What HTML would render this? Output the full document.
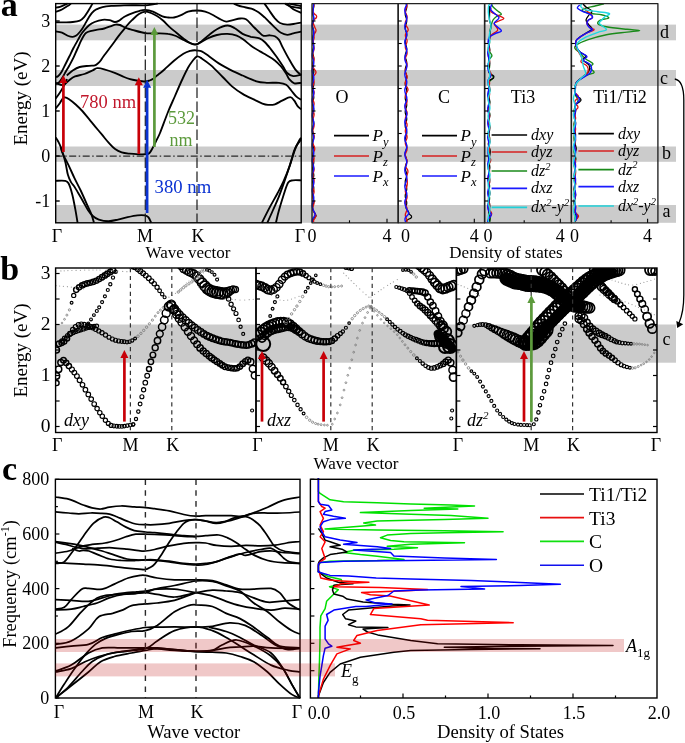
<!DOCTYPE html>
<html><head><meta charset="utf-8"><style>
html,body{margin:0;padding:0;background:#fff;}
svg{display:block;font-family:"Liberation Serif",serif;will-change:transform;}
</style></head><body>
<svg width="685" height="743" viewBox="0 0 685 743">
<rect width="685" height="743" fill="#fff"/>
<rect x="55.7" y="24.6" width="620.3" height="15.7" fill="#cbcbcb" />
<rect x="55.7" y="70" width="620.3" height="16" fill="#cbcbcb" />
<rect x="55.7" y="146.5" width="620.3" height="15.3" fill="#cbcbcb" />
<rect x="55.7" y="205" width="620.3" height="17.8" fill="#cbcbcb" />
<path d="M55.7 7.6 C56.4 7.5 58.6 7.2 60 6.8 C61.4 6.4 62.8 5.7 64 5.2 C65.2 4.7 66.9 3.9 67.5 3.6" fill="none" stroke="#000" stroke-width="1.85" stroke-linejoin="round" />
<path d="M55.7 11.7 C56.4 11.5 58.6 11 60 10.4 C61.4 9.8 62.7 9.1 64 8.3 C65.3 7.5 66.8 6.5 68 5.8 C69.2 5 70.5 4.1 71 3.8" fill="none" stroke="#000" stroke-width="1.85" stroke-linejoin="round" />
<path d="M55.7 22.3 C57.1 22.3 61.1 22.4 64 22.4 C66.8 22.3 70.2 22.3 72.8 22 C75.4 21.7 77.9 21.4 79.8 20.6 C81.7 19.8 82.8 18.6 84.1 17.1 C85.4 15.7 86.6 13.5 87.6 11.9 C88.6 10.3 89.5 8.8 90.3 7.5 C91.1 6.1 92.1 4.4 92.5 3.8" fill="none" stroke="#000" stroke-width="1.85" stroke-linejoin="round" />
<path d="M55.7 31.5 C56.8 31.7 59.9 31.9 62 32.6 C64.1 33.4 66.6 35.3 68.4 36 C70.2 36.7 71.5 36.9 72.8 36.8 C74.1 36.7 75.1 36.3 76.3 35.5 C77.5 34.7 78.8 33.2 79.8 32 C80.8 30.8 81.5 29.8 82.4 28.5 C83.3 27.2 84 25.9 85 24.1 C86 22.4 87.3 19.9 88.5 18 C89.7 16.1 90.7 14.2 92 12.8 C93.3 11.4 94.7 10.2 96.4 9.3 C98.2 8.4 100 7.7 102.5 7.1 C105 6.5 107.7 6.2 111.3 5.9 C114.9 5.6 120.5 5.4 124 5.3 C127.5 5.2 128.5 5.2 132 5.2 C135.5 5.2 141.7 5.5 145.2 5.3 C148.7 5.1 150.9 4.6 153 4.3 C155.1 4 156.9 3.7 157.7 3.6" fill="none" stroke="#000" stroke-width="1.85" stroke-linejoin="round" />
<path d="M55.7 77 C56.1 76.9 57 77 58 76.2 C59 75.4 60.3 74 61.5 72 C62.7 70 64 67.1 65.3 64.5 C66.6 61.9 67.9 59.3 69.3 56.5 C70.7 53.7 72.1 50.6 73.6 47.8 C75 45 76.7 42.2 78 39.9 C79.3 37.6 80.3 35.5 81.5 33.8 C82.7 32 83.7 30.9 85 29.4 C86.3 27.9 87.8 26.2 89.4 25 C91 23.8 92.4 22.9 94.6 22 C96.8 21.1 100 20.1 102.5 19.8 C105 19.5 107.5 19.8 109.5 20.2 C111.5 20.6 113.2 21.9 114.8 22 C116.4 22.1 117.7 21.4 119.2 20.6 C120.7 19.8 121.9 18.2 124 17 C126.1 15.8 129.5 14.4 132 13.4 C134.5 12.4 136.8 11.7 139 11.1 C141.2 10.5 142.9 9.8 145.2 9.9 C147.5 10 150.1 10.6 153 11.7 C155.9 12.8 159.9 15.4 162.4 16.4 C164.9 17.4 166.3 17.3 168.2 17.5 C170.1 17.7 171.9 17.9 174 17.5 C176.1 17.1 178.7 16.2 181 15.2 C183.3 14.2 185.3 12.5 188 11.7 C190.7 10.9 194.1 10.5 197 10.5 C199.9 10.5 202.5 10.9 205.2 11.7 C207.9 12.5 210.9 13.9 213.4 15.2 C215.9 16.5 218.3 18.2 220.4 19.3 C222.5 20.4 224.3 21.4 226.2 21.6 C228.1 21.8 229.7 20.9 232 20.4 C234.3 19.9 237.9 18.7 240.2 18.5 C242.5 18.3 244 18.1 246 19.3 C248 20.5 250.3 23.5 252.4 25.6 C254.5 27.7 256.6 30 258.5 31.7 C260.4 33.4 261.7 35.2 263.6 35.8 C265.5 36.4 267.9 35.2 269.8 35.3 C271.7 35.4 273.4 35.5 274.9 36.3 C276.4 37.1 277.6 37.9 279 39.9 C280.4 41.9 281.4 44.9 283.1 48.1 C284.8 51.4 287.1 55.8 289.2 59.4 C291.2 63 293.4 67 295.4 69.6 C297.4 72.2 300.2 74.3 301.2 75.2" fill="none" stroke="#000" stroke-width="1.85" stroke-linejoin="round" />
<path d="M55.7 84 C56.2 83.8 57.9 83.6 59 82.5 C60.1 81.4 61.4 79.3 62.5 77.5 C63.6 75.7 64.6 73.7 65.7 71.7 C66.8 69.8 67.9 68.2 69.2 65.8 C70.5 63.4 72.3 60.1 73.6 57.4 C74.9 54.7 75.9 52.1 77.1 49.5 C78.3 46.9 79.6 43.9 80.6 41.7 C81.6 39.5 82.4 37.9 83.3 36.4 C84.2 34.9 84.7 33.8 85.9 32.9 C87.1 32 88.5 31.6 90.3 31.1 C92 30.6 94.1 30.2 96.4 29.8 C98.7 29.4 102 29.1 104.3 28.5 C106.6 27.9 108.5 26.9 110.4 26.3 C112.3 25.7 114.1 24.8 115.7 24.6 C117.3 24.4 118.6 24.6 120 25 C121.4 25.4 122.7 26.4 124 27 C125.3 27.6 126.7 28.2 128 28.7 C129.3 29.2 129.1 29.1 132 29.8 C134.9 30.5 141 32.5 145.2 33.1 C149.4 33.7 153.2 33.2 157 33.3 C160.8 33.4 164.8 33.3 168 33.8 C171.2 34.2 173.5 35 176 36 C178.5 37 180.7 38.5 183 39.7 C185.3 40.9 187.7 42.2 190 43 C192.3 43.8 194.1 45 197 44.2 C199.9 43.5 204.2 40 207.5 38.5 C210.8 37 213.6 35.8 216.9 35 C220.2 34.2 224.1 33.8 227.4 33.9 C230.7 34 234 34.6 236.7 35.6 C239.4 36.6 241.4 38.1 243.7 39.7 C246 41.4 248 43.5 250.7 45.5 C253.4 47.5 257.3 49.8 260 51.4 C262.7 53 264.2 53.8 266.7 55.3 C269.2 56.8 272.5 58.5 274.9 60.4 C277.3 62.3 279.1 64.3 281 66.5 C282.9 68.7 284.8 71.6 286.2 73.7 C287.6 75.8 287.8 77.6 289.2 79.2 C290.6 80.8 292.3 82.7 294.3 83.3 C296.3 83.9 300.1 82.9 301.2 82.8" fill="none" stroke="#000" stroke-width="1.85" stroke-linejoin="round" />
<path d="M66.8 75.5 C67.8 74.7 70.5 71.9 72.7 70.5 C74.9 69.1 77 67.8 79.7 67 C82.4 66.2 86.5 66.1 89 65.8 C91.5 65.5 93.4 65.7 94.9 65.3 C96.4 64.9 96.8 64.3 97.8 63.5 C98.8 62.7 99.8 61.7 100.7 60.5 C101.6 59.3 101.6 58.9 103.4 56.5 C105.2 54.1 108.8 49.4 111.3 46 C113.8 42.6 116.2 39.2 118.3 36.4 C120.4 33.6 122.5 31.2 124 29.4 C125.5 27.6 125.7 27 127 25.5 C128.3 24 130 22.1 132 20.2 C134 18.3 136.8 15.4 139 14 C141.2 12.6 143.2 11.9 145.2 11.7 C147.2 11.5 149 12.3 151 13 C153 13.7 155 14.8 157 16 C159 17.2 160.9 18.7 163 20.5 C165.1 22.3 167.2 24.9 169.4 26.9 C171.6 28.9 174.1 30.8 176.4 32.7 C178.7 34.6 181.1 36.8 183.4 38.5 C185.7 40.2 188.1 42.2 190.4 43.2 C192.7 44.2 194.2 45.4 197 44.2 C199.8 43 204.2 38.7 207.5 36.2 C210.8 33.7 213.6 31 216.9 29.2 C220.2 27.4 224.5 25.7 227.4 25.5 C230.3 25.3 231.9 26.6 234.4 28 C236.9 29.4 239.9 32.4 242.6 33.9 C245.3 35.4 247.9 36 250.7 36.8 C253.5 37.5 257.2 37.5 259.5 38.4 C261.8 39.3 262.8 40.2 264.7 42 C266.6 43.8 268.8 46.6 270.8 49.1 C272.8 51.6 274.8 54.4 276.9 57.3 C278.9 60.2 281.4 63.9 283.1 66.5 C284.8 69.1 285.5 71.4 287.2 73 C288.9 74.6 291 75.8 293.3 76.1 C295.6 76.4 299.9 74.8 301.2 74.6" fill="none" stroke="#000" stroke-width="1.85" stroke-linejoin="round" />
<path d="M56 83 C57 83.3 60.6 85 62.2 85.1 C63.8 85.2 64.4 84.3 65.7 83.4 C67 82.5 68.5 80.7 70 79.5 C71.5 78.3 72.6 77.3 75 76.4 C77.4 75.5 81.5 75 84.4 74 C87.3 73 90.4 71.5 92.5 70.5 C94.6 69.5 95.2 68.4 97.2 68.2 C99.2 68 101.3 68.5 104.2 69.3 C107.1 70.1 111.4 71.5 114.7 72.8 C118 74.1 121.5 75.9 124.1 77 C126.6 78.1 127.9 78.6 130 79.2 C132.1 79.8 134 80.1 136.6 80.5 C139.2 80.9 143.1 81.5 145.3 81.5 C147.5 81.5 148.4 81 149.7 80.5 C151 80 152.1 79.5 153.2 78.8 C154.3 78.1 155.2 77 156.3 76.1 C157.4 75.2 158.6 74.4 160 73.3 C161.4 72.2 162.4 71.4 164.7 69.3 C167 67.2 170.9 63.3 174 60.7 C177.1 58.1 180.7 55.4 183.4 53.7 C186.1 52.1 188.5 51.4 190.4 50.8 C192.3 50.2 193.6 50.2 194.7 50.2 C195.8 50.2 195.8 50.4 197 50.6 C198.2 50.8 199.8 50.5 201.7 51.4 C203.6 52.3 205.8 54 208.7 56 C211.6 58 215.5 61.2 219.2 63.6 C222.9 66 227 68.1 230.9 70.1 C234.8 72.1 238.3 73.6 242.6 75.5 C246.9 77.4 252.5 80.1 256.5 81.3 C260.5 82.5 262.9 82.5 266.7 82.8 C270.4 83 275.8 82.5 279 82.8 C282.2 83.1 284.1 83.5 286.2 84.8 C288.2 86.1 289.6 88.5 291.3 90.5 C293 92.5 294.8 95.1 296.4 96.6 C298 98.1 300.4 99.2 301.2 99.7" fill="none" stroke="#000" stroke-width="1.85" stroke-linejoin="round" />
<path d="M55.7 108.3 C56.4 107.5 58.7 104.8 59.8 103.2 C60.9 101.6 61.6 99.8 62.5 98.8 C63.4 97.8 63.9 97.2 65 97.3 C66.1 97.4 67.3 98 69.1 99.2 C70.9 100.4 73.5 102.5 75.7 104.5 C77.9 106.5 80.1 108.6 82.3 111 C84.5 113.4 86.7 116.3 88.9 118.9 C91.1 121.5 93.2 124.2 95.4 126.8 C97.6 129.4 99.8 132.1 102 134.7 C104.2 137.3 106.4 140.2 108.6 142.6 C110.8 145 112.9 147.5 115.1 149.1 C117.3 150.7 119.3 151.6 121.7 152.4 C124.1 153.2 126.8 153.4 129.6 153.7 C132.4 154 136.1 154.2 138.8 154.3 C141.5 154.4 144.1 154.4 145.9 154.2 C147.7 154 148.3 154.2 149.5 153 C150.7 151.8 152 149.1 153.2 146.9 C154.4 144.7 155.7 141.9 156.8 139.6 C157.9 137.3 158.1 137.6 160 133 C161.9 128.4 165.5 118.2 168 112 C170.5 105.8 172.7 101.3 175 96 C177.3 90.7 179.8 84.7 182 80 C184.2 75.3 186.2 70.9 188 67.7 C189.8 64.5 191.2 62.6 192.7 60.7 C194.2 58.8 195.5 56.9 197 56.5 C198.5 56.1 199.4 56.9 201.7 58.4 C204 59.9 207.5 62.3 211 65.4 C214.5 68.5 219.2 73.5 222.7 77 C226.2 80.5 228.7 83.6 232 86.4 C235.3 89.2 238.9 91.7 242.6 93.9 C246.3 96.1 250.9 98.1 254.2 99.7 C257.5 101.3 260.1 102.8 262.4 103.6 C264.7 104.4 265.9 104.7 268 104.8 C270.1 104.9 272.5 105 274.9 104.3 C277.2 103.6 279.6 101.9 282.1 100.7 C284.7 99.5 288.2 97.1 290.2 97.1 C292.2 97.1 293.1 99.2 294.3 100.7 C295.5 102.2 296.2 104.3 297.4 105.8 C298.5 107.2 300.6 108.8 301.2 109.4" fill="none" stroke="#000" stroke-width="1.85" stroke-linejoin="round" />
<path d="M55.7 98.5 C56.4 97.5 58.5 94.6 59.8 92.7 C61.1 90.8 62.3 88.7 63.3 86.9 C64.3 85.2 65.1 83.5 65.7 82.2 C66.3 80.9 66.8 79.5 67 79" fill="none" stroke="#000" stroke-width="1.85" stroke-linejoin="round" />
<path d="M55.7 137.5 C56.1 138.2 57.4 139.9 58.2 141.5 C59 143.1 59.9 144.8 60.7 146.9 C61.5 149 62.3 151.6 63.1 154.2 C63.9 156.8 64.7 159.3 65.5 162.7 C66.3 166.1 67 171.6 67.9 174.8 C68.8 178 69.9 180.1 71 182.1 C72.1 184.1 73.4 185.1 74.6 186.9 C75.8 188.7 76.8 190.6 78.2 193 C79.6 195.4 81.5 198.7 83.1 201.5 C84.7 204.3 86.3 207.5 87.9 209.9 C89.5 212.3 91 214.4 92.8 216 C94.6 217.6 96.2 218.7 98.8 219.6 C101.4 220.5 105.3 221.2 108.5 221.2 C111.7 221.2 114.8 220.3 118 219.6 C121.2 218.9 124.5 217.9 127.7 217.2 C130.9 216.5 134.6 215.7 137.4 215.4 C140.2 215.1 142.9 215.1 144.7 215.4 C146.5 215.7 147.2 216 148.3 217.2 C149.4 218.4 150.8 221.9 151.3 222.8" fill="none" stroke="#000" stroke-width="1.85" stroke-linejoin="round" />
<path d="M60.7 146.9 C61 147.9 61.2 150 62.5 153 C63.8 156 66.5 160.9 68.5 165.1 C70.5 169.3 72.6 174.2 74.6 178.4 C76.6 182.6 78.7 186.2 80.7 190.5 C82.7 194.8 84.9 199.8 86.7 203.9 C88.5 208 90.4 211.7 91.6 214.8 C92.8 218 93.6 221.5 94 222.8" fill="none" stroke="#000" stroke-width="1.85" stroke-linejoin="round" />
<path d="M55.7 180.8 C57.2 180.8 62.8 180.4 64.9 180.8 C67 181.2 67.3 181.1 68.5 183.3 C69.7 185.5 71.1 190 72.2 194.2 C73.3 198.4 74.3 203.9 75.2 208.7 C76.1 213.5 77.2 220.5 77.6 222.8" fill="none" stroke="#000" stroke-width="1.85" stroke-linejoin="round" />
<path d="M261.9 222.8 C263.2 220.2 267.1 212.3 269.7 207.4 C272.3 202.5 275.1 197.9 277.4 193.5 C279.7 189.1 281.5 185.8 283.6 181.1 C285.7 176.4 288 170.8 289.8 165.6 C291.6 160.4 292.8 154.2 294.4 150.1 C295.9 146 298 142.9 299.1 140.8 C300.2 138.7 300.9 138.2 301.2 137.7" fill="none" stroke="#000" stroke-width="1.85" stroke-linejoin="round" />
<path d="M267.3 222.8 C268.2 220.8 270.9 214.9 272.8 210.5 C274.7 206.1 276.8 201.8 278.9 196.6 C280.9 191.4 283 185.4 285.1 179.5 C287.2 173.6 289.5 166.3 291.3 160.9 C293.1 155.5 294.4 150.6 296 147 C297.6 143.4 300.3 140.6 301.2 139.3" fill="none" stroke="#000" stroke-width="1.85" stroke-linejoin="round" />
<path d="M275.9 222.8 C276.4 220.8 277.6 215.1 278.9 210.5 C280.2 205.9 282.1 199.7 283.6 195 C285.2 190.3 286.6 185 288.2 182.6 C289.8 180.2 290.7 180.7 292.9 180.3 C295.1 179.9 299.8 180.3 301.2 180.3" fill="none" stroke="#000" stroke-width="1.85" stroke-linejoin="round" />
<path d="M234 3.6 C234.3 3.8 234.7 4.1 236 4.6 C237.3 5.1 239.5 6 242.1 6.7 C244.7 7.4 248.7 7.8 251.4 8.7 C254.1 9.6 256.3 10.9 258.5 12.3 C260.7 13.8 262.8 15.7 264.7 17.4 C266.6 19.1 268.1 20.8 269.8 22.5 C271.5 24.2 273 25.9 274.9 27.6 C276.8 29.3 278.9 31.6 281 32.8 C283.1 34 285.1 34.7 287.2 34.8 C289.2 34.9 291 33.8 293.3 33.3 C295.6 32.8 299.9 32 301.2 31.7" fill="none" stroke="#000" stroke-width="1.85" stroke-linejoin="round" />
<path d="M264.5 3.6 C265.4 4.9 268.1 8.8 269.8 11.3 C271.5 13.8 273.2 16.4 274.9 18.4 C276.6 20.3 277.9 22 280 23 C282.1 24 284.6 24.5 287.2 24.6 C289.8 24.7 293.1 24 295.4 23.7 C297.7 23.4 300.2 22.9 301.2 22.7" fill="none" stroke="#000" stroke-width="1.85" stroke-linejoin="round" />
<path d="M285 3.6 C286.1 4.1 288.6 5.9 291.3 6.7 C294 7.5 299.6 7.9 301.2 8.2" fill="none" stroke="#000" stroke-width="1.85" stroke-linejoin="round" />
<path d="M287 3.6 C288.1 4.5 290.9 7.7 293.3 9.2 C295.7 10.7 299.9 12.2 301.2 12.8" fill="none" stroke="#000" stroke-width="1.85" stroke-linejoin="round" />
<path d="M289 3.6 L301.2 6.1" fill="none" stroke="#000" stroke-width="1.85" stroke-linejoin="round" />
<line x1="145.3" y1="3.6" x2="145.3" y2="222.8" stroke="#1a1a1a" stroke-width="1.2" stroke-dasharray="10.5 3.5"/>
<line x1="197" y1="3.6" x2="197" y2="222.8" stroke="#1a1a1a" stroke-width="1.2" stroke-dasharray="10.5 3.5"/>
<line x1="55.7" y1="156" x2="301.2" y2="156" stroke="#2a2a2a" stroke-width="1.25" stroke-dasharray="7 2.5 1.5 2.5"/>
<rect x="55.7" y="3.6" width="245.5" height="219.2" fill="none" stroke="#000" stroke-width="1.4"/>
<line x1="55.7" y1="21" x2="59.7" y2="21" stroke="#000" stroke-width="1.4" />
<text x="50.2" y="27.1" font-size="18" text-anchor="end" fill="#000"  >3</text>
<line x1="55.7" y1="66" x2="59.7" y2="66" stroke="#000" stroke-width="1.4" />
<text x="50.2" y="72.1" font-size="18" text-anchor="end" fill="#000"  >2</text>
<line x1="55.7" y1="111" x2="59.7" y2="111" stroke="#000" stroke-width="1.4" />
<text x="50.2" y="117.1" font-size="18" text-anchor="end" fill="#000"  >1</text>
<line x1="55.7" y1="156" x2="59.7" y2="156" stroke="#000" stroke-width="1.4" />
<text x="50.2" y="162.1" font-size="18" text-anchor="end" fill="#000"  >0</text>
<line x1="55.7" y1="201" x2="59.7" y2="201" stroke="#000" stroke-width="1.4" />
<text x="50.2" y="207.1" font-size="18" text-anchor="end" fill="#000"  >-1</text>
<path d="M313.5 4 C313.5 4.3 313.8 5.3 313.8 6 C313.8 6.7 313.7 7.3 313.6 8 C313.5 8.7 313.2 9.3 313 10 C312.9 10.7 312.7 11.3 312.6 12 C312.6 12.7 312.6 13.3 312.7 14 C312.8 14.7 313 15.3 313.2 16 C313.4 16.7 313.6 17.3 313.7 18 C313.8 18.7 313.8 19.3 313.8 20 C313.7 20.7 313.5 21.3 313.3 22 C313.2 22.7 312.9 23.3 312.8 24 C312.7 24.7 312.6 25.3 312.6 26 C312.6 26.7 312.8 27.3 312.9 28 C313.1 28.7 313.3 29.3 313.5 30 C313.6 30.7 313.8 31.3 313.8 32 C313.8 32.7 313.7 33.3 313.6 34 C313.5 34.7 313.2 35.3 313 36 C312.9 36.7 312.7 37.3 312.6 38 C312.6 38.7 312.6 39.3 312.7 40 C312.8 40.7 313 41.3 313.2 42 C313.4 42.7 313.6 43.3 313.7 44 C313.8 44.7 313.8 45.3 313.8 46 C313.7 46.7 313.5 47.3 313.3 48 C313.2 48.7 312.9 49.3 312.8 50 C312.7 50.7 312.6 51.3 312.6 52 C312.6 52.7 312.8 53.3 312.9 54 C313.1 54.7 313.3 55.3 313.5 56 C313.6 56.7 313.8 57.3 313.8 58 C313.8 58.7 313.7 59.3 313.6 60 C313.5 60.7 313.2 61.3 313 62 C312.9 62.7 312.7 63.3 312.6 64 C312.6 64.7 312.6 65.3 312.7 66 C312.8 66.7 313 67.3 313.2 68 C313.4 68.7 313.6 69.3 313.7 70 C313.8 70.7 313.8 71.3 313.8 72 C313.7 72.7 313.5 73.3 313.3 74 C313.2 74.7 312.9 75.3 312.8 76 C312.7 76.7 312.6 77.3 312.6 78 C312.6 78.7 312.8 79.3 312.9 80 C313.1 80.7 313.3 81.3 313.5 82 C313.6 82.7 313.8 83.3 313.8 84 C313.8 84.7 313.7 85.3 313.6 86 C313.5 86.7 313.2 87.3 313 88 C312.9 88.7 312.7 89.3 312.6 90 C312.6 90.7 312.6 91.3 312.7 92 C312.8 92.7 313 93.3 313.2 94 C313.4 94.7 313.6 95.3 313.7 96 C313.8 96.7 313.8 97.3 313.8 98 C313.7 98.7 313.5 99.3 313.3 100 C313.2 100.7 312.9 101.3 312.8 102 C312.7 102.7 312.6 103.3 312.6 104 C312.6 104.7 312.8 105.3 312.9 106 C313.1 106.7 313.3 107.3 313.5 108 C313.6 108.7 313.8 109.3 313.8 110 C313.8 110.7 313.7 111.3 313.6 112 C313.5 112.7 313.2 113.3 313 114 C312.9 114.7 312.7 115.3 312.6 116 C312.6 116.7 312.6 117.3 312.7 118 C312.8 118.7 313 119.3 313.2 120 C313.4 120.7 313.6 121.3 313.7 122 C313.8 122.7 313.8 123.3 313.8 124 C313.7 124.7 313.5 125.3 313.3 126 C313.2 126.7 312.9 127.3 312.8 128 C312.7 128.7 312.6 129.3 312.6 130 C312.6 130.7 312.8 131.3 312.9 132 C313.1 132.7 313.3 133.3 313.5 134 C313.6 134.7 313.8 135.3 313.8 136 C313.8 136.7 313.7 137.3 313.6 138 C313.5 138.7 313.2 139.3 313 140 C312.9 140.7 312.7 141.3 312.6 142 C312.6 142.7 312.6 143.3 312.7 144 C312.8 144.7 313 145.3 313.2 146 C313.4 146.7 313.6 147.3 313.7 148 C313.8 148.7 313.8 149.3 313.8 150 C313.7 150.7 313.5 151.3 313.3 152 C313.2 152.7 312.9 153.3 312.8 154 C312.7 154.7 312.6 155.3 312.6 156 C312.6 156.7 312.8 157.3 312.9 158 C313.1 158.7 313.3 159.3 313.5 160 C313.6 160.7 313.8 161.3 313.8 162 C313.8 162.7 313.7 163.3 313.6 164 C313.5 164.7 313.2 165.3 313 166 C312.9 166.7 312.7 167.3 312.6 168 C312.6 168.7 312.6 169.3 312.7 170 C312.8 170.7 313 171.3 313.2 172 C313.4 172.7 313.6 173.3 313.7 174 C313.8 174.7 313.8 175.3 313.8 176 C313.7 176.7 313.5 177.3 313.3 178 C313.2 178.7 312.9 179.3 312.8 180 C312.7 180.7 312.6 181.3 312.6 182 C312.6 182.7 312.8 183.3 312.9 184 C313.1 184.7 313.3 185.3 313.5 186 C313.6 186.7 313.8 187.3 313.8 188 C313.8 188.7 313.7 189.3 313.6 190 C313.5 190.7 313.2 191.3 313 192 C312.9 192.7 312.7 193.3 312.6 194 C312.6 194.7 312.6 195.3 312.7 196 C312.8 196.7 313 197.3 313.2 198 C313.4 198.7 313.6 199.3 313.7 200 C313.8 200.7 313.8 201.3 313.8 202 C313.7 202.7 313.5 203.3 313.3 204 C313.2 204.7 312.9 205.3 312.8 206 C312.7 206.7 312.6 207.3 312.6 208 C312.6 208.7 312.8 209.3 313 210 C313.2 210.7 313.5 211.3 313.9 212 C314.3 212.7 315 213.3 315.4 214 C315.8 214.7 316.2 215.3 316.1 216 C316 216.7 315.2 217.3 314.6 218 C314.1 218.7 313.4 219.3 313.1 220 C312.7 220.7 312.8 221.7 312.8 222" fill="none" stroke="#000" stroke-width="1.2" stroke-linejoin="round" />
<path d="M314.1 4 C314 4.3 314 5.3 313.9 6 C313.8 6.7 313.4 7.3 313.2 8 C313 8.7 312.7 9.3 312.7 10 C312.7 10.7 312.8 11.3 313.1 12 C313.4 12.7 313.9 13.3 314.5 14 C315.1 14.7 316.4 15.3 316.6 16 C316.9 16.7 316.6 17.3 316.1 18 C315.6 18.7 314.1 19.3 313.6 20 C313 20.7 312.9 21.3 312.8 22 C312.8 22.7 313.2 23.3 313.5 24 C313.7 24.7 314 25.3 314.3 26 C314.5 26.7 314.8 27.3 315.1 28 C315.4 28.7 315.9 29.3 316 30 C316.1 30.7 315.9 31.3 315.6 32 C315.3 32.7 314.5 33.3 314.2 34 C314 34.7 314 35.3 314 36 C314 36.7 314.2 37.3 314.1 38 C314 38.7 313.8 39.3 313.6 40 C313.3 40.7 313 41.3 312.8 42 C312.7 42.7 312.7 43.3 312.8 44 C312.9 44.7 313.2 45.3 313.4 46 C313.7 46.7 314 47.3 314.1 48 C314.1 48.7 314 49.3 313.9 50 C313.8 50.7 313.4 51.3 313.2 52 C313 52.7 312.7 53.3 312.7 54 C312.7 54.7 312.9 55.3 313.1 56 C313.2 56.7 313.6 57.3 313.8 58 C314 58.7 314.1 59.3 314.1 60 C314 60.7 313.8 61.3 313.6 62 C313.4 62.7 313 63.3 312.8 64 C312.7 64.7 312.7 65.3 312.8 66 C312.9 66.7 313.2 67.3 313.6 68 C313.9 68.7 314.5 69.3 314.9 70 C315.3 70.7 316 71.3 316 72 C316.1 72.7 315.7 73.3 315.3 74 C314.9 74.7 313.9 75.3 313.6 76 C313.2 76.7 313.2 77.3 313.2 78 C313.2 78.7 313.7 79.3 313.8 80 C314 80.7 314.1 81.3 314.1 82 C314 82.7 313.8 83.3 313.6 84 C313.4 84.7 313 85.3 312.8 86 C312.7 86.7 312.7 87.3 312.8 88 C312.9 88.7 313.2 89.3 313.4 90 C313.7 90.7 314 91.3 314.1 92 C314.1 92.7 314 93.3 313.9 94 C313.8 94.7 313.4 95.3 313.2 96 C313 96.7 312.7 97.3 312.7 98 C312.7 98.7 312.9 99.3 313.1 100 C313.2 100.7 313.6 101.3 313.8 102 C314 102.7 314.1 103.3 314.1 104 C314 104.7 313.8 105.3 313.6 106 C313.4 106.7 313 107.3 312.8 108 C312.7 108.7 312.7 109.3 312.8 110 C312.9 110.7 313.2 111.3 313.4 112 C313.7 112.7 314 113.3 314.1 114 C314.1 114.7 314 115.3 313.9 116 C313.8 116.7 313.4 117.3 313.2 118 C313 118.7 312.7 119.3 312.7 120 C312.7 120.7 312.9 121.3 313.1 122 C313.2 122.7 313.6 123.3 313.8 124 C314 124.7 314.1 125.3 314.1 126 C314 126.7 313.8 127.3 313.6 128 C313.4 128.7 313 129.3 312.8 130 C312.7 130.7 312.7 131.3 312.8 132 C312.9 132.7 313.2 133.3 313.4 134 C313.7 134.7 314 135.3 314.1 136 C314.1 136.7 314 137.3 313.9 138 C313.8 138.7 313.4 139.3 313.2 140 C313 140.7 312.7 141.3 312.7 142 C312.7 142.7 312.9 143.3 313.1 144 C313.3 144.7 313.7 145.3 314 146 C314.3 146.7 314.6 147.3 314.7 148 C314.8 148.7 314.8 149.3 314.6 150 C314.4 150.7 313.8 151.3 313.5 152 C313.2 152.7 313 153.3 313 154 C312.9 154.7 313.3 155.3 313.5 156 C313.6 156.7 314 157.3 314.1 158 C314.1 158.7 314 159.3 313.9 160 C313.8 160.7 313.4 161.3 313.2 162 C313 162.7 312.7 163.3 312.7 164 C312.7 164.7 312.9 165.3 313.1 166 C313.2 166.7 313.6 167.3 313.8 168 C314 168.7 314.1 169.3 314.1 170 C314 170.7 313.8 171.3 313.6 172 C313.4 172.7 313 173.3 312.8 174 C312.7 174.7 312.7 175.3 312.8 176 C312.9 176.7 313.2 177.3 313.4 178 C313.7 178.7 314 179.3 314.1 180 C314.1 180.7 314 181.3 313.9 182 C313.8 182.7 313.4 183.3 313.2 184 C313 184.7 312.7 185.3 312.7 186 C312.7 186.7 312.9 187.3 313.1 188 C313.2 188.7 313.6 189.3 313.8 190 C314 190.7 314.1 191.3 314.1 192 C314 192.7 313.8 193.3 313.6 194 C313.4 194.7 313 195.3 312.8 196 C312.7 196.7 312.7 197.3 312.8 198 C312.9 198.7 313.2 199.3 313.4 200 C313.7 200.7 314 201.3 314.1 202 C314.1 202.7 314 203.3 313.9 204 C313.8 204.7 313.4 205.3 313.2 206 C313 206.7 312.7 207.3 312.7 208 C312.7 208.7 312.9 209.3 313.1 210 C313.3 210.7 313.6 211.3 314 212 C314.3 212.7 314.7 213.3 315 214 C315.3 214.7 315.8 215.3 315.8 216 C315.8 216.7 315.4 217.3 315.1 218 C314.7 218.7 313.9 219.3 313.7 220 C313.5 220.7 313.6 221.7 313.6 222" fill="none" stroke="#e01010" stroke-width="1.3" stroke-linejoin="round" />
<path d="M313.7 4 C313.7 4.3 313.5 5.3 313.4 6 C313.3 6.7 313.3 7.3 313.2 8 C313.2 8.7 313.3 9.3 313.2 10 C313.2 10.7 313 11.3 313 12 C313 12.7 313 13.3 313.1 14 C313.2 14.7 313.4 15.3 313.6 16 C313.7 16.7 313.8 17.3 313.8 18 C313.8 18.7 313.7 19.3 313.5 20 C313.4 20.7 313.1 21.3 312.9 22 C312.7 22.7 312.5 23.3 312.3 24 C312.2 24.7 312.2 25.3 312.2 26 C312.3 26.7 312.4 27.3 312.6 28 C312.8 28.7 313.1 29.3 313.3 30 C313.4 30.7 313.7 31.3 313.7 32 C313.8 32.7 313.8 33.3 313.7 34 C313.7 34.7 313.5 35.3 313.4 36 C313.3 36.7 313.2 37.3 313.1 38 C313 38.7 313.1 39.3 313 40 C313 40.7 312.9 41.3 312.9 42 C312.9 42.7 312.9 43.3 313.1 44 C313.2 44.7 313.4 45.3 313.6 46 C313.7 46.7 313.8 47.3 313.8 48 C313.8 48.7 313.7 49.3 313.5 50 C313.4 50.7 313.1 51.3 312.9 52 C312.7 52.7 312.5 53.3 312.3 54 C312.2 54.7 312.2 55.3 312.2 56 C312.3 56.7 312.4 57.3 312.6 58 C312.8 58.7 313.1 59.3 313.3 60 C313.4 60.7 313.7 61.3 313.7 62 C313.8 62.7 313.8 63.3 313.7 64 C313.6 64.7 313.4 65.3 313.2 66 C313.1 66.7 312.8 67.3 312.6 68 C312.4 68.7 312.3 69.3 312.2 70 C312.2 70.7 312.2 71.3 312.4 72 C312.5 72.7 312.7 73.3 312.9 74 C313.1 74.7 313.4 75.3 313.5 76 C313.7 76.7 313.8 77.3 313.8 78 C313.8 78.7 313.7 79.3 313.5 80 C313.4 80.7 313.1 81.3 312.9 82 C312.7 82.7 312.5 83.3 312.3 84 C312.2 84.7 312.2 85.3 312.2 86 C312.3 86.7 312.4 87.3 312.6 88 C312.8 88.7 313.1 89.3 313.3 90 C313.4 90.7 313.7 91.3 313.7 92 C313.8 92.7 313.8 93.3 313.7 94 C313.6 94.7 313.4 95.3 313.2 96 C313.1 96.7 312.8 97.3 312.6 98 C312.4 98.7 312.3 99.3 312.2 100 C312.2 100.7 312.2 101.3 312.4 102 C312.5 102.7 312.7 103.3 312.9 104 C313.1 104.7 313.4 105.3 313.5 106 C313.7 106.7 313.8 107.3 313.8 108 C313.8 108.7 313.7 109.3 313.5 110 C313.4 110.7 313.1 111.3 312.9 112 C312.7 112.7 312.5 113.3 312.3 114 C312.2 114.7 312.2 115.3 312.2 116 C312.3 116.7 312.4 117.3 312.6 118 C312.8 118.7 313.1 119.3 313.3 120 C313.4 120.7 313.7 121.3 313.7 122 C313.8 122.7 313.8 123.3 313.7 124 C313.6 124.7 313.4 125.3 313.2 126 C313.1 126.7 312.8 127.3 312.6 128 C312.4 128.7 312.3 129.3 312.2 130 C312.2 130.7 312.2 131.3 312.4 132 C312.5 132.7 312.7 133.3 312.9 134 C313.1 134.7 313.4 135.3 313.5 136 C313.7 136.7 313.8 137.3 313.8 138 C313.8 138.7 313.7 139.3 313.5 140 C313.4 140.7 313.1 141.3 312.9 142 C312.7 142.7 312.5 143.3 312.3 144 C312.2 144.7 312.2 145.3 312.2 146 C312.3 146.7 312.4 147.3 312.6 148 C312.8 148.7 313.1 149.3 313.3 150 C313.4 150.7 313.7 151.3 313.7 152 C313.8 152.7 313.8 153.3 313.7 154 C313.6 154.7 313.4 155.3 313.2 156 C313.1 156.7 312.8 157.3 312.6 158 C312.4 158.7 312.3 159.3 312.2 160 C312.2 160.7 312.2 161.3 312.4 162 C312.5 162.7 312.7 163.3 312.9 164 C313.1 164.7 313.4 165.3 313.5 166 C313.7 166.7 313.8 167.3 313.8 168 C313.8 168.7 313.7 169.3 313.5 170 C313.4 170.7 313.1 171.3 312.9 172 C312.7 172.7 312.5 173.3 312.3 174 C312.2 174.7 312.2 175.3 312.2 176 C312.3 176.7 312.4 177.3 312.6 178 C312.8 178.7 313.1 179.3 313.3 180 C313.4 180.7 313.7 181.3 313.7 182 C313.8 182.7 313.8 183.3 313.7 184 C313.6 184.7 313.4 185.3 313.2 186 C313.1 186.7 312.8 187.3 312.6 188 C312.4 188.7 312.3 189.3 312.2 190 C312.2 190.7 312.2 191.3 312.4 192 C312.5 192.7 312.7 193.3 312.9 194 C313.1 194.7 313.4 195.3 313.5 196 C313.7 196.7 313.8 197.3 313.8 198 C313.8 198.7 313.7 199.3 313.5 200 C313.4 200.7 313.1 201.3 312.9 202 C312.7 202.7 312.5 203.3 312.3 204 C312.2 204.7 312.2 205.3 312.2 206 C312.3 206.7 312.4 207.3 312.6 208 C312.8 208.7 313.1 209.3 313.3 210 C313.6 210.7 314 211.3 314.3 212 C314.6 212.7 315 213.3 315.1 214 C315.1 214.7 314.9 215.3 314.6 216 C314.3 216.7 313.5 217.3 313.1 218 C312.8 218.7 312.4 219.3 312.3 220 C312.2 220.7 312.4 221.7 312.4 222" fill="none" stroke="#1010ff" stroke-width="1.4" stroke-linejoin="round" />
<path d="M406.2 4 C406.3 4.3 406.7 5.3 406.7 6 C406.8 6.7 406.8 7.3 406.7 8 C406.6 8.7 406.3 9.3 406.1 10 C405.9 10.7 405.6 11.3 405.5 12 C405.3 12.7 405.2 13.3 405.2 14 C405.2 14.7 405.4 15.3 405.5 16 C405.7 16.7 406 17.3 406.2 18 C406.4 18.7 406.7 19.3 406.7 20 C406.8 20.7 406.8 21.3 406.7 22 C406.6 22.7 406.3 23.3 406.1 24 C405.9 24.7 405.6 25.3 405.5 26 C405.3 26.7 405.2 27.3 405.2 28 C405.2 28.7 405.4 29.3 405.5 30 C405.7 30.7 406 31.3 406.2 32 C406.4 32.7 406.7 33.3 406.7 34 C406.8 34.7 406.8 35.3 406.7 36 C406.6 36.7 406.3 37.3 406.1 38 C405.9 38.7 405.6 39.3 405.5 40 C405.3 40.7 405.2 41.3 405.2 42 C405.2 42.7 405.4 43.3 405.5 44 C405.7 44.7 406 45.3 406.2 46 C406.4 46.7 406.7 47.3 406.7 48 C406.8 48.7 406.8 49.3 406.7 50 C406.6 50.7 406.3 51.3 406.1 52 C405.9 52.7 405.6 53.3 405.5 54 C405.3 54.7 405.2 55.3 405.2 56 C405.2 56.7 405.4 57.3 405.5 58 C405.7 58.7 406 59.3 406.2 60 C406.4 60.7 406.7 61.3 406.7 62 C406.8 62.7 406.8 63.3 406.7 64 C406.6 64.7 406.3 65.3 406.1 66 C405.9 66.7 405.6 67.3 405.5 68 C405.3 68.7 405.2 69.3 405.2 70 C405.2 70.7 405.4 71.3 405.5 72 C405.7 72.7 406 73.3 406.2 74 C406.4 74.7 406.7 75.3 406.7 76 C406.8 76.7 406.8 77.3 406.7 78 C406.6 78.7 406.3 79.3 406.1 80 C405.9 80.7 405.6 81.3 405.5 82 C405.3 82.7 405.2 83.3 405.2 84 C405.2 84.7 405.4 85.3 405.5 86 C405.7 86.7 406 87.3 406.2 88 C406.4 88.7 406.7 89.3 406.7 90 C406.8 90.7 406.8 91.3 406.7 92 C406.6 92.7 406.3 93.3 406.1 94 C405.9 94.7 405.6 95.3 405.5 96 C405.3 96.7 405.2 97.3 405.2 98 C405.2 98.7 405.4 99.3 405.5 100 C405.7 100.7 406 101.3 406.2 102 C406.4 102.7 406.7 103.3 406.7 104 C406.8 104.7 406.8 105.3 406.7 106 C406.6 106.7 406.3 107.3 406.1 108 C405.9 108.7 405.6 109.3 405.5 110 C405.3 110.7 405.2 111.3 405.2 112 C405.2 112.7 405.4 113.3 405.5 114 C405.7 114.7 406 115.3 406.2 116 C406.4 116.7 406.7 117.3 406.7 118 C406.8 118.7 406.8 119.3 406.7 120 C406.6 120.7 406.3 121.3 406.1 122 C405.9 122.7 405.6 123.3 405.5 124 C405.3 124.7 405.2 125.3 405.2 126 C405.2 126.7 405.4 127.3 405.5 128 C405.7 128.7 406 129.3 406.2 130 C406.4 130.7 406.7 131.3 406.7 132 C406.8 132.7 406.8 133.3 406.7 134 C406.6 134.7 406.3 135.3 406.1 136 C405.9 136.7 405.6 137.3 405.5 138 C405.3 138.7 405.2 139.3 405.2 140 C405.2 140.7 405.4 141.3 405.5 142 C405.7 142.7 406 143.3 406.2 144 C406.4 144.7 406.7 145.3 406.7 146 C406.8 146.7 406.8 147.3 406.7 148 C406.6 148.7 406.3 149.3 406.1 150 C405.9 150.7 405.6 151.3 405.5 152 C405.3 152.7 405.2 153.3 405.2 154 C405.2 154.7 405.4 155.3 405.5 156 C405.7 156.7 406 157.3 406.2 158 C406.4 158.7 406.7 159.3 406.7 160 C406.8 160.7 406.8 161.3 406.7 162 C406.6 162.7 406.3 163.3 406.1 164 C405.9 164.7 405.6 165.3 405.5 166 C405.3 166.7 405.2 167.3 405.2 168 C405.2 168.7 405.4 169.3 405.5 170 C405.7 170.7 406 171.3 406.2 172 C406.4 172.7 406.7 173.3 406.7 174 C406.8 174.7 406.8 175.3 406.7 176 C406.6 176.7 406.3 177.3 406.1 178 C405.9 178.7 405.6 179.3 405.5 180 C405.3 180.7 405.2 181.3 405.2 182 C405.2 182.7 405.4 183.3 405.5 184 C405.7 184.7 406 185.3 406.2 186 C406.4 186.7 406.7 187.3 406.7 188 C406.8 188.7 406.8 189.3 406.7 190 C406.6 190.7 406.3 191.3 406.1 192 C405.9 192.7 405.6 193.3 405.5 194 C405.3 194.7 405.2 195.3 405.2 196 C405.2 196.7 405.4 197.3 405.5 198 C405.7 198.7 406 199.3 406.2 200 C406.4 200.7 406.7 201.3 406.7 202 C406.8 202.7 406.8 203.3 406.7 204 C406.6 204.7 406.3 205.3 406.2 206 C406.1 206.7 405.8 207.3 406 208 C406.1 208.7 406.7 209.3 407.1 210 C407.6 210.7 408.3 211.3 408.6 212 C409 212.7 408.9 213.3 409.3 214 C409.8 214.7 411.2 215.3 411.5 216 C411.8 216.7 411.7 217.3 411 218 C410.3 218.7 408.2 219.3 407.3 220 C406.4 220.7 405.8 221.7 405.5 222" fill="none" stroke="#000" stroke-width="1.2" stroke-linejoin="round" />
<path d="M407 4 C407 4.3 407.1 5.3 407 6 C406.9 6.7 406.5 7.3 406.2 8 C406 8.7 405.6 9.3 405.4 10 C405.3 10.7 405.3 11.3 405.4 12 C405.5 12.7 405.9 13.3 406.2 14 C406.4 14.7 406.8 15.3 407 16 C407.1 16.7 407.1 17.3 407 18 C406.9 18.7 406.5 19.3 406.2 20 C406 20.7 405.6 21.3 405.4 22 C405.3 22.7 405.3 23.3 405.4 24 C405.6 24.7 406 25.3 406.4 26 C406.7 26.7 407.4 27.3 407.7 28 C408 28.7 408.3 29.3 408.2 30 C408.1 30.7 407.4 31.3 407 32 C406.6 32.7 405.9 33.3 405.6 34 C405.4 34.7 405.3 35.3 405.4 36 C405.5 36.7 405.9 37.3 406.2 38 C406.4 38.7 406.8 39.3 407 40 C407.1 40.7 407.1 41.3 407 42 C406.9 42.7 406.5 43.3 406.2 44 C406 44.7 405.6 45.3 405.4 46 C405.3 46.7 405.3 47.3 405.4 48 C405.5 48.7 405.9 49.3 406.2 50 C406.4 50.7 406.8 51.3 407 52 C407.1 52.7 407.1 53.3 407 54 C406.9 54.7 406.5 55.3 406.2 56 C406 56.7 405.6 57.3 405.4 58 C405.3 58.7 405.3 59.3 405.4 60 C405.5 60.7 405.9 61.3 406.2 62 C406.4 62.7 406.8 63.3 407 64 C407.1 64.7 407.1 65.3 407 66 C406.9 66.7 406.5 67.3 406.2 68 C406 68.7 405.6 69.3 405.4 70 C405.3 70.7 405.3 71.3 405.4 72 C405.5 72.7 405.9 73.3 406.2 74 C406.4 74.7 406.8 75.3 407 76 C407.1 76.7 407.1 77.3 407 78 C406.9 78.7 406.5 79.3 406.2 80 C406 80.7 405.6 81.3 405.4 82 C405.3 82.7 405.3 83.3 405.4 84 C405.6 84.7 406 85.3 406.3 86 C406.7 86.7 407.3 87.3 407.6 88 C407.9 88.7 408.1 89.3 408 90 C407.9 90.7 407.3 91.3 406.9 92 C406.5 92.7 405.9 93.3 405.6 94 C405.4 94.7 405.3 95.3 405.4 96 C405.5 96.7 405.9 97.3 406.2 98 C406.4 98.7 406.8 99.3 407 100 C407.1 100.7 407.1 101.3 407 102 C406.9 102.7 406.5 103.3 406.2 104 C406 104.7 405.6 105.3 405.4 106 C405.3 106.7 405.3 107.3 405.4 108 C405.5 108.7 405.9 109.3 406.2 110 C406.4 110.7 406.8 111.3 407 112 C407.1 112.7 407.1 113.3 407 114 C406.9 114.7 406.5 115.3 406.2 116 C406 116.7 405.6 117.3 405.4 118 C405.3 118.7 405.3 119.3 405.4 120 C405.5 120.7 405.9 121.3 406.2 122 C406.4 122.7 406.8 123.3 407 124 C407.1 124.7 407.1 125.3 407 126 C406.9 126.7 406.5 127.3 406.2 128 C406 128.7 405.6 129.3 405.4 130 C405.3 130.7 405.3 131.3 405.4 132 C405.5 132.7 405.9 133.3 406.2 134 C406.4 134.7 406.8 135.3 407 136 C407.1 136.7 407.1 137.3 407 138 C406.9 138.7 406.5 139.3 406.2 140 C406 140.7 405.6 141.3 405.4 142 C405.3 142.7 405.3 143.3 405.4 144 C405.5 144.7 405.9 145.3 406.2 146 C406.4 146.7 406.8 147.3 407 148 C407.1 148.7 407.1 149.3 407 150 C406.9 150.7 406.5 151.3 406.2 152 C406 152.7 405.6 153.3 405.4 154 C405.3 154.7 405.3 155.3 405.4 156 C405.5 156.7 405.9 157.3 406.2 158 C406.4 158.7 406.8 159.3 407 160 C407.1 160.7 407.1 161.3 407 162 C406.9 162.7 406.5 163.3 406.3 164 C406.1 164.7 405.7 165.3 405.7 166 C405.7 166.7 406 167.3 406.4 168 C406.7 168.7 407.4 169.3 407.7 170 C407.9 170.7 408 171.3 407.9 172 C407.9 172.7 407.5 173.3 407.3 174 C407.1 174.7 406.7 175.3 406.6 176 C406.5 176.7 406.5 177.3 406.6 178 C406.7 178.7 407.1 179.3 407.2 180 C407.3 180.7 407.3 181.3 407.3 182 C407.3 182.7 407.3 183.3 407.3 184 C407.2 184.7 407.2 185.3 407 186 C406.9 186.7 406.5 187.3 406.2 188 C406 188.7 405.6 189.3 405.4 190 C405.3 190.7 405.3 191.3 405.4 192 C405.5 192.7 405.9 193.3 406.2 194 C406.4 194.7 406.8 195.3 407 196 C407.1 196.7 407.1 197.3 407 198 C406.9 198.7 406.5 199.3 406.2 200 C406 200.7 405.6 201.3 405.4 202 C405.3 202.7 405.3 203.3 405.4 204 C405.5 204.7 405.9 205.3 406.2 206 C406.4 206.7 406.8 207.3 407 208 C407.1 208.7 407.1 209.3 407 210 C406.9 210.7 406.5 211.3 406.2 212 C406 212.7 405.6 213.3 405.4 214 C405.3 214.7 405.3 215.3 405.4 216 C405.5 216.7 405.9 217.3 406.2 218 C406.4 218.7 406.8 219.3 407 220 C407.1 220.7 407 221.7 407 222" fill="none" stroke="#e01010" stroke-width="1.3" stroke-linejoin="round" />
<path d="M406.6 4 C406.5 4.3 406.2 5.3 406 6 C405.7 6.7 405.4 7.3 405.2 8 C405 8.7 404.8 9.3 404.8 10 C404.8 10.7 404.9 11.3 405 12 C405.1 12.7 405.4 13.3 405.6 14 C405.9 14.7 406.2 15.3 406.4 16 C406.6 16.7 406.8 17.3 406.8 18 C406.8 18.7 406.7 19.3 406.6 20 C406.5 20.7 406.2 21.3 406 22 C405.7 22.7 405.4 23.3 405.2 24 C405 24.7 404.8 25.3 404.8 26 C404.8 26.7 404.9 27.3 405 28 C405.1 28.7 405.4 29.3 405.6 30 C405.9 30.7 406.2 31.3 406.4 32 C406.6 32.7 406.8 33.3 406.8 34 C406.8 34.7 406.7 35.3 406.6 36 C406.5 36.7 406.2 37.3 406 38 C405.7 38.7 405.4 39.3 405.2 40 C405 40.7 404.8 41.3 404.8 42 C404.8 42.7 404.9 43.3 405 44 C405.1 44.7 405.4 45.3 405.6 46 C405.9 46.7 406.2 47.3 406.4 48 C406.6 48.7 406.8 49.3 406.8 50 C406.8 50.7 406.7 51.3 406.6 52 C406.5 52.7 406.2 53.3 406 54 C405.7 54.7 405.4 55.3 405.2 56 C405 56.7 404.8 57.3 404.8 58 C404.8 58.7 404.9 59.3 405 60 C405.1 60.7 405.4 61.3 405.6 62 C405.9 62.7 406.2 63.3 406.4 64 C406.6 64.7 406.8 65.3 406.8 66 C406.8 66.7 406.7 67.3 406.6 68 C406.5 68.7 406.2 69.3 406 70 C405.7 70.7 405.4 71.3 405.2 72 C405 72.7 404.8 73.3 404.8 74 C404.8 74.7 404.9 75.3 405 76 C405.1 76.7 405.4 77.3 405.6 78 C405.9 78.7 406.2 79.3 406.4 80 C406.6 80.7 406.8 81.3 406.8 82 C406.8 82.7 406.7 83.3 406.6 84 C406.5 84.7 406.2 85.3 406 86 C405.7 86.7 405.4 87.3 405.2 88 C405 88.7 404.8 89.3 404.8 90 C404.8 90.7 404.9 91.3 405 92 C405.1 92.7 405.4 93.3 405.6 94 C405.9 94.7 406.2 95.3 406.4 96 C406.6 96.7 406.8 97.3 406.8 98 C406.8 98.7 406.7 99.3 406.6 100 C406.5 100.7 406.2 101.3 406 102 C405.7 102.7 405.4 103.3 405.2 104 C405 104.7 404.8 105.3 404.8 106 C404.8 106.7 404.9 107.3 405 108 C405.1 108.7 405.4 109.3 405.6 110 C405.9 110.7 406.2 111.3 406.4 112 C406.6 112.7 406.8 113.3 406.8 114 C406.8 114.7 406.7 115.3 406.6 116 C406.5 116.7 406.2 117.3 406 118 C405.7 118.7 405.4 119.3 405.2 120 C405 120.7 404.8 121.3 404.8 122 C404.8 122.7 404.9 123.3 405 124 C405.1 124.7 405.4 125.3 405.6 126 C405.9 126.7 406.2 127.3 406.4 128 C406.6 128.7 406.8 129.3 406.8 130 C406.8 130.7 406.7 131.3 406.6 132 C406.5 132.7 406.2 133.3 406 134 C405.7 134.7 405.4 135.3 405.2 136 C405 136.7 404.8 137.3 404.8 138 C404.8 138.7 404.9 139.3 405 140 C405.1 140.7 405.4 141.3 405.6 142 C405.9 142.7 406.2 143.3 406.4 144 C406.6 144.7 406.8 145.3 406.8 146 C406.8 146.7 406.7 147.3 406.6 148 C406.5 148.7 406.2 149.3 406 150 C405.7 150.7 405.4 151.3 405.2 152 C405 152.7 404.8 153.3 404.8 154 C404.8 154.7 404.9 155.3 405 156 C405.1 156.7 405.4 157.3 405.6 158 C405.9 158.7 406.2 159.3 406.4 160 C406.6 160.7 406.8 161.3 406.8 162 C406.8 162.7 406.7 163.3 406.6 164 C406.5 164.7 406.2 165.3 406 166 C405.7 166.7 405.4 167.3 405.2 168 C405 168.7 404.8 169.3 404.8 170 C404.8 170.7 404.9 171.3 405 172 C405.1 172.7 405.4 173.3 405.6 174 C405.9 174.7 406.2 175.3 406.4 176 C406.6 176.7 406.8 177.3 406.8 178 C406.8 178.7 406.7 179.3 406.6 180 C406.5 180.7 406.2 181.3 406 182 C405.7 182.7 405.4 183.3 405.2 184 C405 184.7 404.8 185.3 404.8 186 C404.8 186.7 404.9 187.3 405 188 C405.1 188.7 405.4 189.3 405.6 190 C405.9 190.7 406.2 191.3 406.4 192 C406.6 192.7 406.8 193.3 406.8 194 C406.8 194.7 406.7 195.3 406.6 196 C406.5 196.7 406.2 197.3 406 198 C405.7 198.7 405.4 199.3 405.2 200 C405 200.7 404.8 201.3 404.8 202 C404.8 202.7 404.9 203.3 405 204 C405.1 204.7 405.4 205.3 405.6 206 C405.9 206.7 406.2 207.3 406.4 208 C406.7 208.7 406.9 209.3 407.2 210 C407.5 210.7 408 211.3 408.2 212 C408.4 212.7 408.7 213.3 408.5 214 C408.2 214.7 407.4 215.3 406.8 216 C406.3 216.7 405.5 217.3 405.2 218 C404.9 218.7 405 219.3 405 220 C405.1 220.7 405.5 221.7 405.6 222" fill="none" stroke="#1010ff" stroke-width="1.4" stroke-linejoin="round" />
<path d="M491.7 4.4 C491.9 4.8 492 5.8 492.9 6.8 C493.8 7.8 495.6 9.3 497 10.5 C498.4 11.7 501.5 13.1 501.4 14.1 C501.3 15.1 497.9 15.5 496.5 16.5 C495.1 17.5 493.9 18.4 493 20 C492.1 21.6 491.5 24 491 26 C490.5 28 490.2 30 490 32 C489.8 34 489.6 36.7 489.5 38 C489.4 39.3 489.2 39.3 489.2 40 C489.2 40.7 489.5 41.3 489.6 42 C489.6 42.7 489.5 43.3 489.4 44 C489.3 44.7 489 45.3 488.8 46 C488.7 46.7 488.4 47.3 488.4 48 C488.4 48.7 488.4 49.3 488.6 50 C488.8 50.7 489.2 51.3 489.6 52 C490 52.7 490.8 53.3 491.2 54 C491.6 54.7 492 55.3 491.9 56 C491.8 56.7 490.9 57.3 490.4 58 C489.9 58.7 489.1 59.3 488.8 60 C488.5 60.7 488.6 61.3 488.6 62 C488.7 62.7 489 63.3 489.2 64 C489.3 64.7 489.5 65.3 489.6 66 C489.6 66.7 489.5 67.3 489.4 68 C489.3 68.7 489 69.3 488.8 70 C488.7 70.7 488.5 71.3 488.7 72 C488.9 72.7 489.4 73.3 490.1 74 C490.7 74.7 492.2 75.3 492.8 76 C493.3 76.7 493.5 77.3 493.2 78 C492.9 78.7 491.6 79.3 490.9 80 C490.2 80.7 489.5 81.3 489.1 82 C488.7 82.7 488.5 83.3 488.4 84 C488.4 84.7 488.5 85.3 488.6 86 C488.7 86.7 489 87.3 489.2 88 C489.3 88.7 489.5 89.3 489.6 90 C489.6 90.7 489.5 91.3 489.4 92 C489.3 92.7 489 93.3 488.8 94 C488.7 94.7 488.5 95.3 488.4 96 C488.4 96.7 488.5 97.3 488.6 98 C488.7 98.7 489 99.3 489.2 100 C489.3 100.7 489.5 101.3 489.6 102 C489.6 102.7 489.5 103.3 489.4 104 C489.3 104.7 489 105.3 488.8 106 C488.7 106.7 488.5 107.3 488.4 108 C488.4 108.7 488.5 109.3 488.6 110 C488.7 110.7 489 111.3 489.2 112 C489.3 112.7 489.5 113.3 489.6 114 C489.6 114.7 489.5 115.3 489.4 116 C489.3 116.7 489 117.3 488.8 118 C488.7 118.7 488.5 119.3 488.4 120 C488.4 120.7 488.5 121.3 488.6 122 C488.7 122.7 489 123.3 489.2 124 C489.3 124.7 489.5 125.3 489.6 126 C489.6 126.7 489.5 127.3 489.4 128 C489.3 128.7 489 129.3 488.8 130 C488.7 130.7 488.5 131.3 488.4 132 C488.4 132.7 488.5 133.3 488.6 134 C488.7 134.7 489 135.3 489.2 136 C489.3 136.7 489.5 137.3 489.6 138 C489.6 138.7 489.5 139.3 489.4 140 C489.3 140.7 489 141.3 488.8 142 C488.7 142.7 488.5 143.3 488.4 144 C488.4 144.7 488.5 145.3 488.6 146 C488.7 146.7 489 147.3 489.2 148 C489.3 148.7 489.5 149.3 489.6 150 C489.6 150.7 489.5 151.3 489.4 152 C489.3 152.7 489 153.3 488.8 154 C488.7 154.7 488.5 155.3 488.4 156 C488.4 156.7 488.5 157.3 488.6 158 C488.7 158.7 489 159.3 489.2 160 C489.3 160.7 489.5 161.3 489.6 162 C489.6 162.7 489.5 163.3 489.4 164 C489.3 164.7 489 165.3 488.8 166 C488.7 166.7 488.5 167.3 488.4 168 C488.4 168.7 488.5 169.3 488.6 170 C488.7 170.7 489 171.3 489.2 172 C489.3 172.7 489.5 173.3 489.6 174 C489.6 174.7 489.5 175.3 489.4 176 C489.3 176.7 489 177.3 488.8 178 C488.7 178.7 488.5 179.3 488.4 180 C488.4 180.7 488.5 181.3 488.6 182 C488.7 182.7 489 183.3 489.2 184 C489.3 184.7 489.5 185.3 489.6 186 C489.6 186.7 489.5 187.3 489.4 188 C489.3 188.7 489 189.3 488.8 190 C488.7 190.7 488.5 191.3 488.4 192 C488.4 192.7 488.5 193.3 488.6 194 C488.7 194.7 489 195.3 489.2 196 C489.3 196.7 489.5 197.3 489.6 198 C489.6 198.7 489.5 199.3 489.4 200 C489.3 200.7 489 201.3 488.8 202 C488.7 202.7 488.5 203.3 488.4 204 C488.4 204.7 488.5 205.3 488.6 206 C488.7 206.7 489 207.3 489.2 208 C489.3 208.7 489.5 209.3 489.6 210 C489.7 210.7 489.5 211.3 489.5 212 C489.5 212.7 489.4 213.3 489.6 214 C489.7 214.7 490.1 215.3 490.2 216 C490.3 216.7 490.4 217.3 490.4 218 C490.3 218.7 490 219.3 489.9 220 C489.8 220.7 489.7 221.7 489.7 222" fill="none" stroke="#1a8a1a" stroke-width="1.4" stroke-linejoin="round" />
<path d="M489.5 6 C489.5 7 489.6 9.7 489.6 12 C489.6 14.3 489.3 17.7 489.5 20 C489.7 22.3 490.9 24 491 26 C491.1 28 490.2 30.3 490 32 C489.8 33.7 489.8 35 489.7 36 C489.7 37 489.8 37.3 489.8 38 C489.7 38.7 489.5 39.3 489.4 40 C489.3 40.7 489.1 41.3 489 42 C488.9 42.7 488.8 43.3 488.8 44 C488.8 44.7 489 45.3 489.1 46 C489.2 46.7 489.4 47.3 489.5 48 C489.7 48.7 489.8 49.3 489.8 50 C489.8 50.7 489.7 51.3 489.6 52 C489.5 52.7 489.3 53.3 489.2 54 C489 54.7 488.9 55.3 488.8 56 C488.8 56.7 488.8 57.3 488.9 58 C489 58.7 489.2 59.3 489.3 60 C489.5 60.7 489.6 61.3 489.7 62 C489.8 62.7 489.8 63.3 489.8 64 C489.7 64.7 489.5 65.3 489.4 66 C489.3 66.7 489.1 67.3 489 68 C488.9 68.7 488.8 69.3 488.8 70 C488.8 70.7 488.9 71.3 489.2 72 C489.5 72.7 489.9 73.3 490.6 74 C491.4 74.7 493.2 75.3 493.6 76 C494.1 76.7 494 77.3 493.5 78 C492.9 78.7 491 79.3 490.2 80 C489.5 80.7 489.1 81.3 488.9 82 C488.7 82.7 488.8 83.3 488.9 84 C489 84.7 489.2 85.3 489.3 86 C489.5 86.7 489.6 87.3 489.7 88 C489.8 88.7 489.8 89.3 489.8 90 C489.7 90.7 489.5 91.3 489.4 92 C489.3 92.7 489.1 93.3 489 94 C488.9 94.7 488.8 95.3 488.8 96 C488.8 96.7 489 97.3 489.1 98 C489.2 98.7 489.4 99.3 489.5 100 C489.7 100.7 489.8 101.3 489.8 102 C489.8 102.7 489.7 103.3 489.6 104 C489.5 104.7 489.3 105.3 489.2 106 C489 106.7 488.9 107.3 488.8 108 C488.8 108.7 488.8 109.3 488.9 110 C489 110.7 489.2 111.3 489.3 112 C489.5 112.7 489.6 113.3 489.7 114 C489.8 114.7 489.8 115.3 489.8 116 C489.7 116.7 489.5 117.3 489.4 118 C489.3 118.7 489.1 119.3 489 120 C488.9 120.7 488.8 121.3 488.8 122 C488.8 122.7 489 123.3 489.1 124 C489.2 124.7 489.4 125.3 489.5 126 C489.7 126.7 489.8 127.3 489.8 128 C489.8 128.7 489.7 129.3 489.6 130 C489.5 130.7 489.3 131.3 489.2 132 C489 132.7 488.9 133.3 488.8 134 C488.8 134.7 488.8 135.3 488.9 136 C489 136.7 489.2 137.3 489.3 138 C489.5 138.7 489.6 139.3 489.7 140 C489.8 140.7 489.8 141.3 489.8 142 C489.7 142.7 489.5 143.3 489.4 144 C489.3 144.7 489.1 145.3 489.1 146 C489.1 146.7 489.3 147.3 489.4 148 C489.6 148.7 490 149.3 490.1 150 C490.2 150.7 490.2 151.3 490.2 152 C490.2 152.7 490.1 153.3 490 154 C489.9 154.7 489.8 155.3 489.6 156 C489.5 156.7 489.3 157.3 489.2 158 C489 158.7 488.9 159.3 488.8 160 C488.8 160.7 488.8 161.3 488.9 162 C489 162.7 489.2 163.3 489.3 164 C489.5 164.7 489.6 165.3 489.7 166 C489.8 166.7 489.8 167.3 489.8 168 C489.7 168.7 489.5 169.3 489.4 170 C489.3 170.7 489.1 171.3 489 172 C488.9 172.7 488.8 173.3 488.8 174 C488.8 174.7 489 175.3 489.1 176 C489.2 176.7 489.4 177.3 489.5 178 C489.7 178.7 489.8 179.3 489.8 180 C489.8 180.7 489.7 181.3 489.6 182 C489.5 182.7 489.3 183.3 489.2 184 C489 184.7 488.9 185.3 488.8 186 C488.8 186.7 488.8 187.3 488.9 188 C489 188.7 489.2 189.3 489.3 190 C489.5 190.7 489.6 191.3 489.7 192 C489.8 192.7 489.8 193.3 489.8 194 C489.7 194.7 489.5 195.3 489.4 196 C489.3 196.7 489.1 197.3 489 198 C488.9 198.7 488.8 199.3 488.8 200 C488.8 200.7 489 201.3 489.1 202 C489.2 202.7 489.4 203.3 489.5 204 C489.7 204.7 489.8 205.3 489.8 206 C489.8 206.7 489.7 207.3 489.6 208 C489.5 208.7 489.3 209.3 489.2 210 C489 210.7 488.9 211.3 488.8 212 C488.8 212.7 488.8 213.3 488.9 214 C489 214.7 489.2 215.3 489.3 216 C489.5 216.7 489.6 217.3 489.7 218 C489.8 218.7 489.8 219.3 489.8 220 C489.7 220.7 489.5 221.7 489.4 222" fill="none" stroke="#000" stroke-width="1.3" stroke-linejoin="round" />
<path d="M491 8 C491 8.6 490 10.5 491.1 11.7 C492.2 12.9 495.7 14.2 497.8 15.3 C499.9 16.4 503.8 17.4 503.8 18.4 C503.8 19.4 499.4 20.5 497.8 21.4 C496.2 22.3 494.1 22.4 494.1 23.8 C494.1 25.2 498.2 28.1 497.8 29.9 C497.4 31.7 493.1 33.4 491.7 34.7 C490.3 36.1 489.9 37.1 489.5 38 C489.1 38.9 489.6 39.3 489.5 40 C489.5 40.7 489.2 41.3 489 42 C488.8 42.7 488.5 43.3 488.5 44 C488.4 44.7 488.4 45.3 488.5 46 C488.7 46.7 489 47.3 489.2 48 C489.3 48.7 489.6 49.3 489.6 50 C489.6 50.7 489.5 51.3 489.3 52 C489.2 52.7 488.8 53.3 488.7 54 C488.5 54.7 488.4 55.3 488.4 56 C488.4 56.7 488.7 57.3 488.8 58 C489 58.7 489.3 59.3 489.5 60 C489.6 60.7 489.6 61.3 489.5 62 C489.5 62.7 489.2 63.3 489 64 C488.8 64.7 488.5 65.3 488.5 66 C488.4 66.7 488.4 67.3 488.6 68 C488.7 68.7 489 69.3 489.3 70 C489.6 70.7 490 71.3 490.3 72 C490.6 72.7 491.1 73.3 491.1 74 C491.1 74.7 490.8 75.3 490.5 76 C490.1 76.7 489.4 77.3 489.1 78 C488.9 78.7 488.9 79.3 489 80 C489 80.7 489.4 81.3 489.5 82 C489.6 82.7 489.6 83.3 489.5 84 C489.5 84.7 489.2 85.3 489 86 C488.8 86.7 488.5 87.3 488.5 88 C488.4 88.7 488.4 89.3 488.5 90 C488.7 90.7 489 91.3 489.2 92 C489.3 92.7 489.6 93.3 489.6 94 C489.6 94.7 489.5 95.3 489.3 96 C489.2 96.7 488.8 97.3 488.7 98 C488.5 98.7 488.4 99.3 488.4 100 C488.4 100.7 488.7 101.3 488.8 102 C489 102.7 489.3 103.3 489.5 104 C489.6 104.7 489.6 105.3 489.5 106 C489.5 106.7 489.2 107.3 489 108 C488.8 108.7 488.5 109.3 488.5 110 C488.4 110.7 488.4 111.3 488.5 112 C488.7 112.7 489 113.3 489.2 114 C489.3 114.7 489.6 115.3 489.6 116 C489.6 116.7 489.5 117.3 489.3 118 C489.2 118.7 488.8 119.3 488.7 120 C488.5 120.7 488.4 121.3 488.4 122 C488.4 122.7 488.7 123.3 488.8 124 C489 124.7 489.3 125.3 489.5 126 C489.6 126.7 489.6 127.3 489.5 128 C489.5 128.7 489.2 129.3 489 130 C488.8 130.7 488.5 131.3 488.5 132 C488.4 132.7 488.4 133.3 488.5 134 C488.7 134.7 489 135.3 489.2 136 C489.3 136.7 489.6 137.3 489.6 138 C489.6 138.7 489.5 139.3 489.3 140 C489.2 140.7 488.8 141.3 488.7 142 C488.5 142.7 488.4 143.3 488.4 144 C488.4 144.7 488.7 145.3 488.8 146 C489 146.7 489.3 147.3 489.5 148 C489.6 148.7 489.6 149.3 489.5 150 C489.5 150.7 489.2 151.3 489 152 C488.8 152.7 488.5 153.3 488.5 154 C488.4 154.7 488.5 155.3 488.7 156 C489 156.7 489.6 157.3 489.9 158 C490.3 158.7 490.8 159.3 490.8 160 C490.8 160.7 490.4 161.3 490.1 162 C489.8 162.7 489.2 163.3 488.9 164 C488.6 164.7 488.4 165.3 488.4 166 C488.4 166.7 488.7 167.3 488.8 168 C489 168.7 489.3 169.3 489.5 170 C489.6 170.7 489.6 171.3 489.5 172 C489.5 172.7 489.2 173.3 489 174 C488.8 174.7 488.5 175.3 488.5 176 C488.4 176.7 488.4 177.3 488.5 178 C488.7 178.7 489 179.3 489.2 180 C489.3 180.7 489.6 181.3 489.6 182 C489.6 182.7 489.5 183.3 489.3 184 C489.2 184.7 488.8 185.3 488.7 186 C488.5 186.7 488.4 187.3 488.4 188 C488.4 188.7 488.7 189.3 488.8 190 C489 190.7 489.3 191.3 489.5 192 C489.6 192.7 489.6 193.3 489.5 194 C489.5 194.7 489.2 195.3 489 196 C488.8 196.7 488.5 197.3 488.5 198 C488.4 198.7 488.4 199.3 488.5 200 C488.7 200.7 489 201.3 489.2 202 C489.3 202.7 489.6 203.3 489.6 204 C489.6 204.7 489.5 205.3 489.3 206 C489.2 206.7 488.8 207.3 488.8 208 C488.8 208.7 489 209.3 489.3 210 C489.7 210.7 490.7 211.3 491.1 212 C491.5 212.7 491.8 213.3 491.7 214 C491.6 214.7 490.9 215.3 490.5 216 C490 216.7 489.5 217.3 489.2 218 C488.8 218.7 488.6 219.3 488.5 220 C488.4 220.7 488.5 221.7 488.5 222" fill="none" stroke="#e01010" stroke-width="1.3" stroke-linejoin="round" />
<path d="M491.7 4.4 C491.5 5.2 490.1 7.9 490.5 9.3 C490.9 10.7 492.6 11.6 494 13 C495.4 14.4 499 16.1 499 17.8 C499 19.5 494.4 21.7 494.1 23.2 C493.9 24.7 496.3 25.7 497.5 27 C498.7 28.3 501.8 30 501.4 31.1 C501 32.2 497.3 32.5 495.3 33.5 C493.3 34.5 490.5 35.8 489.3 37.2 C488.1 38.6 488.2 40.9 488.1 42 C488 43.1 488.6 43.3 488.7 44 C488.8 44.7 488.9 45.3 488.9 46 C488.9 46.7 488.8 47.3 488.7 48 C488.5 48.7 488.3 49.3 488.2 50 C488 50.7 487.8 51.3 487.8 52 C487.7 52.7 487.7 53.3 487.8 54 C487.8 54.7 488 55.3 488.2 56 C488.3 56.7 488.6 57.3 488.7 58 C488.8 58.7 488.9 59.3 488.9 60 C488.9 60.7 488.8 61.3 488.7 62 C488.5 62.7 488.3 63.3 488.2 64 C488 64.7 487.8 65.3 487.8 66 C487.7 66.7 487.7 67.3 487.8 68 C487.8 68.7 488 69.3 488.2 70 C488.4 70.7 488.7 71.3 489 72 C489.4 72.7 489.9 73.3 490.2 74 C490.5 74.7 490.8 75.3 490.7 76 C490.5 76.7 489.9 77.3 489.4 78 C489 78.7 488.4 79.3 488.1 80 C487.8 80.7 487.8 81.3 487.8 82 C487.8 82.7 488 83.3 488.2 84 C488.3 84.7 488.6 85.3 488.7 86 C488.8 86.7 488.9 87.3 488.9 88 C488.9 88.7 488.8 89.3 488.7 90 C488.5 90.7 488.3 91.3 488.2 92 C488 92.7 487.8 93.3 487.8 94 C487.7 94.7 487.7 95.3 487.8 96 C487.8 96.7 488 97.3 488.2 98 C488.3 98.7 488.6 99.3 488.7 100 C488.8 100.7 488.9 101.3 488.9 102 C488.9 102.7 488.8 103.3 488.7 104 C488.5 104.7 488.3 105.3 488.2 106 C488 106.7 487.8 107.3 487.8 108 C487.7 108.7 487.7 109.3 487.8 110 C487.8 110.7 488 111.3 488.2 112 C488.3 112.7 488.6 113.3 488.7 114 C488.8 114.7 488.9 115.3 488.9 116 C488.9 116.7 488.8 117.3 488.7 118 C488.5 118.7 488.3 119.3 488.2 120 C488 120.7 487.8 121.3 487.8 122 C487.7 122.7 487.7 123.3 487.8 124 C487.8 124.7 488 125.3 488.2 126 C488.3 126.7 488.6 127.3 488.7 128 C488.8 128.7 488.9 129.3 488.9 130 C488.9 130.7 488.8 131.3 488.7 132 C488.5 132.7 488.3 133.3 488.2 134 C488 134.7 487.8 135.3 487.8 136 C487.7 136.7 487.7 137.3 487.8 138 C487.8 138.7 488 139.3 488.2 140 C488.3 140.7 488.6 141.3 488.7 142 C488.8 142.7 488.9 143.3 488.9 144 C488.9 144.7 488.8 145.3 488.7 146 C488.5 146.7 488.3 147.3 488.2 148 C488 148.7 487.8 149.3 487.8 150 C487.7 150.7 487.7 151.3 487.8 152 C487.8 152.7 488 153.3 488.2 154 C488.3 154.7 488.6 155.3 488.7 156 C488.8 156.7 488.9 157.3 488.9 158 C488.9 158.7 488.8 159.3 488.7 160 C488.5 160.7 488.3 161.3 488.2 162 C488 162.7 487.8 163.3 487.8 164 C487.7 164.7 487.7 165.3 487.8 166 C487.8 166.7 488 167.3 488.2 168 C488.3 168.7 488.6 169.3 488.7 170 C488.8 170.7 488.9 171.3 488.9 172 C488.9 172.7 488.8 173.3 488.7 174 C488.5 174.7 488.3 175.3 488.2 176 C488 176.7 487.8 177.3 487.8 178 C487.7 178.7 487.7 179.3 487.8 180 C487.8 180.7 488 181.3 488.2 182 C488.3 182.7 488.6 183.3 488.7 184 C488.8 184.7 488.9 185.3 488.9 186 C488.9 186.7 488.8 187.3 488.7 188 C488.5 188.7 488.3 189.3 488.2 190 C488 190.7 487.8 191.3 487.8 192 C487.7 192.7 487.7 193.3 487.8 194 C487.8 194.7 488 195.3 488.2 196 C488.3 196.7 488.6 197.3 488.7 198 C488.8 198.7 488.9 199.3 488.9 200 C488.9 200.7 488.8 201.3 488.7 202 C488.5 202.7 488.3 203.3 488.2 204 C488 204.7 487.8 205.3 487.8 206 C487.7 206.7 487.7 207.3 487.8 208 C487.9 208.7 488 209.3 488.3 210 C488.6 210.7 489.1 211.3 489.6 212 C490.1 212.7 490.9 213.3 491.1 214 C491.4 214.7 491.2 215.3 490.9 216 C490.6 216.7 489.6 217.3 489.1 218 C488.6 218.7 488.1 219.3 487.9 220 C487.7 220.7 487.8 221.7 487.8 222" fill="none" stroke="#1010ff" stroke-width="1.4" stroke-linejoin="round" />
<path d="M490 3.8 C489.8 4.2 488.9 4.6 488.6 6 C488.3 7.4 488.2 9.7 488.3 12 C488.4 14.3 489.1 17.7 489.5 20 C489.9 22.3 490.9 24 491 26 C491.1 28 490.1 30 489.8 32 C489.5 34 489 36.7 489 38 C489 39.3 489.8 39.3 489.9 40 C490 40.7 489.8 41.3 489.6 42 C489.5 42.7 489.3 43.3 489.1 44 C488.9 44.7 488.6 45.3 488.4 46 C488.3 46.7 488.1 47.3 488.1 48 C488.1 48.7 488.1 49.3 488.2 50 C488.4 50.7 488.6 51.3 488.8 52 C489 52.7 489.2 53.3 489.4 54 C489.6 54.7 489.8 55.3 489.8 56 C489.9 56.7 489.9 57.3 489.8 58 C489.8 58.7 489.6 59.3 489.4 60 C489.2 60.7 488.9 61.3 488.7 62 C488.5 62.7 488.3 63.3 488.2 64 C488.1 64.7 488.1 65.3 488.1 66 C488.2 66.7 488.3 67.3 488.5 68 C488.6 68.7 488.9 69.3 489.1 70 C489.3 70.7 489.6 71.3 489.7 72 C489.8 72.7 489.9 73.3 489.9 74 C489.9 74.7 489.8 75.3 489.6 76 C489.5 76.7 489.3 77.3 489.1 78 C488.9 78.7 488.6 79.3 488.4 80 C488.3 80.7 488.1 81.3 488.1 82 C488.1 82.7 488.1 83.3 488.2 84 C488.4 84.7 488.6 85.3 488.8 86 C489 86.7 489.2 87.3 489.4 88 C489.6 88.7 489.8 89.3 489.8 90 C489.9 90.7 489.9 91.3 489.8 92 C489.8 92.7 489.6 93.3 489.4 94 C489.2 94.7 488.9 95.3 488.7 96 C488.5 96.7 488.3 97.3 488.2 98 C488.1 98.7 488.1 99.3 488.1 100 C488.2 100.7 488.3 101.3 488.5 102 C488.6 102.7 488.9 103.3 489.1 104 C489.3 104.7 489.6 105.3 489.7 106 C489.8 106.7 489.9 107.3 489.9 108 C489.9 108.7 489.8 109.3 489.6 110 C489.5 110.7 489.3 111.3 489.1 112 C488.9 112.7 488.6 113.3 488.4 114 C488.3 114.7 488.1 115.3 488.1 116 C488.1 116.7 488.1 117.3 488.2 118 C488.4 118.7 488.6 119.3 488.8 120 C489 120.7 489.2 121.3 489.4 122 C489.6 122.7 489.8 123.3 489.8 124 C489.9 124.7 489.9 125.3 489.8 126 C489.8 126.7 489.6 127.3 489.4 128 C489.2 128.7 488.9 129.3 488.7 130 C488.5 130.7 488.3 131.3 488.2 132 C488.1 132.7 488.1 133.3 488.1 134 C488.2 134.7 488.3 135.3 488.5 136 C488.6 136.7 488.9 137.3 489.1 138 C489.3 138.7 489.6 139.3 489.7 140 C489.8 140.7 489.9 141.3 489.9 142 C489.9 142.7 489.8 143.3 489.6 144 C489.5 144.7 489.3 145.3 489.1 146 C488.9 146.7 488.6 147.3 488.4 148 C488.3 148.7 488.1 149.3 488.1 150 C488.1 150.7 488.1 151.3 488.2 152 C488.4 152.7 488.6 153.3 488.8 154 C489 154.7 489.2 155.3 489.4 156 C489.6 156.7 489.8 157.3 489.8 158 C489.9 158.7 489.9 159.3 489.8 160 C489.8 160.7 489.6 161.3 489.4 162 C489.2 162.7 488.9 163.3 488.7 164 C488.5 164.7 488.3 165.3 488.2 166 C488.1 166.7 488.1 167.3 488.1 168 C488.2 168.7 488.3 169.3 488.5 170 C488.6 170.7 488.9 171.3 489.1 172 C489.3 172.7 489.6 173.3 489.7 174 C489.8 174.7 489.9 175.3 489.9 176 C489.9 176.7 489.8 177.3 489.6 178 C489.5 178.7 489.3 179.3 489.1 180 C488.9 180.7 488.6 181.3 488.4 182 C488.3 182.7 488.1 183.3 488.1 184 C488.1 184.7 488.1 185.3 488.2 186 C488.4 186.7 488.6 187.3 488.8 188 C489 188.7 489.2 189.3 489.4 190 C489.6 190.7 489.8 191.3 489.8 192 C489.9 192.7 489.9 193.3 489.8 194 C489.8 194.7 489.6 195.3 489.4 196 C489.2 196.7 488.9 197.3 488.7 198 C488.5 198.7 488.3 199.3 488.2 200 C488.1 200.7 488.1 201.3 488.1 202 C488.2 202.7 488.3 203.3 488.5 204 C488.6 204.7 488.9 205.3 489.1 206 C489.3 206.7 489.6 207.3 489.7 208 C489.8 208.7 489.9 209.3 489.9 210 C489.9 210.7 489.8 211.3 489.6 212 C489.5 212.7 489.3 213.3 489.1 214 C488.9 214.7 488.6 215.3 488.4 216 C488.3 216.7 488.1 217.3 488.1 218 C488.1 218.7 488.1 219.3 488.2 220 C488.4 220.7 488.7 221.7 488.8 222" fill="none" stroke="#20d8e0" stroke-width="1.4" stroke-linejoin="round" />
<path d="M604 3.8 C602.4 4.2 597.2 5.5 594.2 6.2 C591.2 6.9 587.8 7.4 585.8 8.1 C583.8 8.8 581.3 9.6 582.1 10.5 C582.9 11.4 587.4 12.8 590.6 13.5 C593.8 14.2 598.5 14 601.5 14.7 C604.5 15.4 609 16.9 608.8 17.8 C608.6 18.7 602.1 19.2 600.3 20.2 C598.5 21.2 596.9 22.7 597.9 23.8 C598.9 24.9 601.5 25.9 606.4 26.8 C611.2 27.7 621.5 28.7 627 29.3 C632.5 29.9 639.7 30 639.7 30.5 C639.7 31 632.5 31.4 627 32.1 C621.5 32.8 612.9 33.5 606.4 34.7 C599.9 36 593.1 38 588.2 39.6 C583.4 41.2 579.5 43 577.3 44.4 C575.1 45.8 574.4 46.7 574.8 48.1 C575.2 49.5 577.9 51.1 579.7 52.9 C581.5 54.7 583.6 57.2 585.8 59 C588 60.8 592.4 62.4 593 63.8 C593.6 65.2 589.2 66.1 589.4 67.5 C589.6 68.9 594.4 71.1 594.2 72.3 C594 73.5 590.2 73.8 588.2 74.7 C586.2 75.6 583.9 76.6 582.1 77.8 C580.3 79 578.5 80.5 577.3 82 C576.1 83.5 575.2 85.5 574.8 86.8 C574.4 88.1 574.7 89.1 574.8 90 C574.9 90.9 575.1 91.3 575.2 92 C575.3 92.7 575.2 93.3 575.3 94 C575.4 94.7 575.5 95.3 575.8 96 C576.1 96.7 576.7 97.3 577.1 98 C577.4 98.7 577.9 99.3 578 100 C578.1 100.7 577.9 101.3 577.6 102 C577.4 102.7 576.8 103.3 576.5 104 C576.1 104.7 575.8 105.3 575.5 106 C575.2 106.7 574.9 107.3 574.7 108 C574.5 108.7 574.2 109.3 574.1 110 C574 110.7 573.9 111.3 573.9 112 C573.9 112.7 574.1 113.3 574.2 114 C574.4 114.7 574.6 115.3 574.8 116 C574.9 116.7 575.1 117.3 575.1 118 C575.1 118.7 575 119.3 574.9 120 C574.8 120.7 574.5 121.3 574.3 122 C574.2 122.7 574 123.3 573.9 124 C573.9 124.7 573.9 125.3 574 126 C574.1 126.7 574.3 127.3 574.5 128 C574.7 128.7 574.9 129.3 575 130 C575.1 130.7 575.1 131.3 575.1 132 C575 132.7 574.8 133.3 574.6 134 C574.5 134.7 574.2 135.3 574.1 136 C574 136.7 573.9 137.3 573.9 138 C573.9 138.7 574.1 139.3 574.2 140 C574.4 140.7 574.6 141.3 574.8 142 C574.9 142.7 575.1 143.3 575.1 144 C575.1 144.7 575 145.3 574.9 146 C574.8 146.7 574.5 147.3 574.3 148 C574.2 148.7 574 149.3 573.9 150 C573.9 150.7 573.9 151.3 574 152 C574.1 152.7 574.3 153.3 574.5 154 C574.7 154.7 575 155.3 575.2 156 C575.4 156.7 575.6 157.3 575.7 158 C575.8 158.7 575.8 159.3 575.6 160 C575.5 160.7 575 161.3 574.7 162 C574.5 162.7 574.2 163.3 574.1 164 C574 164.7 574.1 165.3 574.2 166 C574.4 166.7 574.6 167.3 574.8 168 C574.9 168.7 575.1 169.3 575.1 170 C575.1 170.7 575 171.3 574.9 172 C574.8 172.7 574.5 173.3 574.3 174 C574.2 174.7 574 175.3 573.9 176 C573.9 176.7 573.9 177.3 574 178 C574.1 178.7 574.3 179.3 574.5 180 C574.7 180.7 574.9 181.3 575 182 C575.1 182.7 575.1 183.3 575.1 184 C575 184.7 574.8 185.3 574.6 186 C574.5 186.7 574.2 187.3 574.1 188 C574 188.7 573.9 189.3 573.9 190 C573.9 190.7 574.1 191.3 574.2 192 C574.4 192.7 574.6 193.3 574.8 194 C574.9 194.7 575.1 195.3 575.1 196 C575.1 196.7 575 197.3 574.9 198 C574.8 198.7 574.5 199.3 574.3 200 C574.2 200.7 574 201.3 573.9 202 C573.9 202.7 573.9 203.3 574 204 C574.1 204.7 574.3 205.3 574.5 206 C574.7 206.7 574.9 207.3 575 208 C575.1 208.7 575.1 209.3 575.2 210 C575.2 210.7 575.3 211.3 575.4 212 C575.5 212.7 575.8 213.3 575.9 214 C575.9 214.7 575.8 215.3 575.7 216 C575.5 216.7 575.1 217.3 575 218 C574.8 218.7 574.9 219.3 574.9 220 C574.9 220.7 575.1 221.7 575.1 222" fill="none" stroke="#1a8a1a" stroke-width="1.4" stroke-linejoin="round" />
<path d="M583 4 C583.5 4.5 584.5 5.8 586 7 C587.5 8.2 591.5 9.7 592 11 C592.5 12.3 590 13.5 589 15 C588 16.5 586 18.3 586 20 C586 21.7 588 23.5 589 25 C590 26.5 592.5 27.7 592 29 C591.5 30.3 588 31.7 586 33 C584 34.3 581.7 35.7 580 37 C578.3 38.3 576.7 39.5 576 41 C575.3 42.5 575.3 44.2 576 46 C576.7 47.8 578.3 50.3 580 52 C581.7 53.7 585.5 54.7 586 56 C586.5 57.3 582.5 58.5 583 60 C583.5 61.5 588 63.2 589 65 C590 66.8 589.7 69.3 589 71 C588.3 72.7 586.5 73.7 585 75 C583.5 76.3 581.5 77.7 580 79 C578.5 80.3 576.7 81.8 576 83 C575.3 84.2 575.6 85.2 575.5 86 C575.4 86.8 575.6 87.3 575.5 88 C575.5 88.7 575.2 89.3 575 90 C574.9 90.7 574.6 91.3 574.6 92 C574.6 92.7 574.6 93.3 575 94 C575.4 94.7 576.2 95.3 577 96 C577.8 96.7 579.1 97.3 579.8 98 C580.5 98.7 581.1 99.3 581 100 C581 100.7 580.1 101.3 579.3 102 C578.6 102.7 577.2 103.3 576.5 104 C575.8 104.7 575.3 105.3 575 106 C574.8 106.7 575 107.3 575.1 108 C575.2 108.7 575.4 109.3 575.5 110 C575.6 110.7 575.6 111.3 575.5 112 C575.5 112.7 575.2 113.3 575 114 C574.9 114.7 574.6 115.3 574.5 116 C574.4 116.7 574.4 117.3 574.5 118 C574.5 118.7 574.8 119.3 575 120 C575.1 120.7 575.4 121.3 575.5 122 C575.6 122.7 575.6 123.3 575.5 124 C575.5 124.7 575.2 125.3 575 126 C574.9 126.7 574.6 127.3 574.5 128 C574.4 128.7 574.4 129.3 574.5 130 C574.5 130.7 574.8 131.3 575 132 C575.1 132.7 575.4 133.3 575.5 134 C575.6 134.7 575.6 135.3 575.5 136 C575.5 136.7 575.2 137.3 575 138 C574.9 138.7 574.6 139.3 574.5 140 C574.4 140.7 574.4 141.3 574.5 142 C574.6 142.7 574.8 143.3 575 144 C575.2 144.7 575.5 145.3 575.7 146 C575.9 146.7 576.1 147.3 576.2 148 C576.2 148.7 576.2 149.3 576 150 C575.9 150.7 575.4 151.3 575.1 152 C574.9 152.7 574.7 153.3 574.6 154 C574.6 154.7 574.8 155.3 575 156 C575.1 156.7 575.4 157.3 575.5 158 C575.6 158.7 575.6 159.3 575.5 160 C575.5 160.7 575.2 161.3 575 162 C574.9 162.7 574.6 163.3 574.5 164 C574.4 164.7 574.4 165.3 574.5 166 C574.5 166.7 574.8 167.3 575 168 C575.1 168.7 575.4 169.3 575.5 170 C575.6 170.7 575.6 171.3 575.5 172 C575.5 172.7 575.2 173.3 575 174 C574.9 174.7 574.6 175.3 574.5 176 C574.4 176.7 574.4 177.3 574.5 178 C574.5 178.7 574.8 179.3 575 180 C575.1 180.7 575.4 181.3 575.5 182 C575.6 182.7 575.6 183.3 575.5 184 C575.5 184.7 575.2 185.3 575 186 C574.9 186.7 574.6 187.3 574.5 188 C574.4 188.7 574.4 189.3 574.5 190 C574.5 190.7 574.8 191.3 575 192 C575.1 192.7 575.4 193.3 575.5 194 C575.6 194.7 575.6 195.3 575.5 196 C575.5 196.7 575.2 197.3 575 198 C574.9 198.7 574.6 199.3 574.5 200 C574.4 200.7 574.4 201.3 574.5 202 C574.5 202.7 574.8 203.3 575 204 C575.1 204.7 575.4 205.3 575.5 206 C575.6 206.7 575.6 207.3 575.5 208 C575.5 208.7 575.2 209.3 575.1 210 C574.9 210.7 574.7 211.3 574.8 212 C574.9 212.7 575.4 213.3 575.7 214 C576.1 214.7 576.8 215.3 577 216 C577.1 216.7 577 217.3 576.8 218 C576.6 218.7 576.2 219.3 575.9 220 C575.6 220.7 575.2 221.7 575.1 222" fill="none" stroke="#000" stroke-width="1.3" stroke-linejoin="round" />
<path d="M583 8 C584.3 9 589 12.4 590.6 14 C592.2 15.6 592.8 16.8 592.4 17.8 C592 18.8 589.1 19.2 588.2 20.2 C587.3 21.2 586.7 22.6 587 23.8 C587.3 25 588.8 26.5 590 27.5 C591.2 28.5 594.7 28.9 594 29.9 C593.3 30.9 588.3 32.3 586 33.5 C583.7 34.7 581.6 36 580 37.2 C578.4 38.4 576.8 39.4 576.1 40.8 C575.5 42.2 575.8 43.9 576.1 45.6 C576.4 47.3 577 48.9 578 51 C579 53.1 581.5 56.2 582 58 C582.5 59.8 580.2 60.7 581 62 C581.8 63.3 585.8 64.3 587 66 C588.2 67.7 588.5 70.3 588 72 C587.5 73.7 585.4 74.7 584 76 C582.6 77.3 581 78.4 579.7 79.6 C578.4 80.8 576.8 82.1 576.1 83.2 C575.4 84.3 575.7 85.2 575.5 86 C575.4 86.8 575.2 87.3 575 88 C574.8 88.7 574.5 89.3 574.5 90 C574.4 90.7 574.4 91.3 574.7 92 C575 92.7 575.7 93.3 576.3 94 C576.9 94.7 578 95.3 578.3 96 C578.6 96.7 578.4 97.3 578 98 C577.6 98.7 576.3 99.3 575.8 100 C575.2 100.7 574.8 101.3 574.7 102 C574.7 102.7 575.3 103.3 575.8 104 C576.3 104.7 577.4 105.3 577.7 106 C578 106.7 578.1 107.3 577.8 108 C577.5 108.7 576.4 109.3 575.9 110 C575.4 110.7 574.8 111.3 574.6 112 C574.4 112.7 574.5 113.3 574.6 114 C574.7 114.7 575 115.3 575.2 116 C575.3 116.7 575.6 117.3 575.6 118 C575.6 118.7 575.5 119.3 575.3 120 C575.2 120.7 574.8 121.3 574.7 122 C574.5 122.7 574.4 123.3 574.4 124 C574.4 124.7 574.7 125.3 574.8 126 C575 126.7 575.3 127.3 575.5 128 C575.6 128.7 575.6 129.3 575.5 130 C575.5 130.7 575.2 131.3 575 132 C574.8 132.7 574.5 133.3 574.5 134 C574.4 134.7 574.4 135.3 574.5 136 C574.7 136.7 575 137.3 575.2 138 C575.3 138.7 575.6 139.3 575.6 140 C575.6 140.7 575.5 141.3 575.3 142 C575.2 142.7 574.8 143.3 574.7 144 C574.5 144.7 574.4 145.3 574.4 146 C574.4 146.7 574.7 147.3 574.8 148 C575 148.7 575.3 149.3 575.5 150 C575.6 150.7 575.6 151.3 575.5 152 C575.5 152.7 575.2 153.3 575 154 C574.8 154.7 574.5 155.3 574.5 156 C574.4 156.7 574.4 157.3 574.5 158 C574.7 158.7 575 159.3 575.2 160 C575.3 160.7 575.6 161.3 575.6 162 C575.6 162.7 575.5 163.3 575.3 164 C575.2 164.7 574.8 165.3 574.7 166 C574.5 166.7 574.4 167.3 574.4 168 C574.4 168.7 574.7 169.3 574.8 170 C575 170.7 575.3 171.3 575.5 172 C575.6 172.7 575.6 173.3 575.5 174 C575.5 174.7 575.2 175.3 575 176 C574.8 176.7 574.5 177.3 574.5 178 C574.4 178.7 574.4 179.3 574.5 180 C574.7 180.7 575 181.3 575.2 182 C575.3 182.7 575.6 183.3 575.6 184 C575.6 184.7 575.5 185.3 575.3 186 C575.2 186.7 574.8 187.3 574.7 188 C574.5 188.7 574.4 189.3 574.4 190 C574.4 190.7 574.7 191.3 574.8 192 C575 192.7 575.3 193.3 575.5 194 C575.6 194.7 575.6 195.3 575.5 196 C575.5 196.7 575.2 197.3 575 198 C574.8 198.7 574.5 199.3 574.5 200 C574.4 200.7 574.4 201.3 574.5 202 C574.7 202.7 575 203.3 575.2 204 C575.3 204.7 575.6 205.3 575.6 206 C575.6 206.7 575.5 207.3 575.3 208 C575.2 208.7 574.8 209.3 574.7 210 C574.7 210.7 574.6 211.3 574.9 212 C575.3 212.7 576.2 213.3 576.8 214 C577.3 214.7 578.3 215.3 578.5 216 C578.6 216.7 578 217.3 577.5 218 C577 218.7 576 219.3 575.5 220 C575 220.7 574.7 221.7 574.5 222" fill="none" stroke="#e01010" stroke-width="1.3" stroke-linejoin="round" />
<path d="M579.7 5 C579.3 5.5 576.9 7.1 577.3 8.1 C577.7 9.1 579.9 10 582.1 11.1 C584.3 12.2 588.9 13.6 590.6 14.7 C592.3 15.8 592.8 16.9 592.4 17.8 C592 18.7 589.1 19.2 588.2 20.2 C587.3 21.2 586.8 22.6 587 23.8 C587.2 25 588.5 26.5 589.4 27.5 C590.3 28.5 593 28.9 592.4 29.9 C591.8 30.9 587.9 32.3 585.8 33.5 C583.7 34.7 581.3 36 579.7 37.2 C578.1 38.4 576.7 39.4 576.1 40.8 C575.5 42.2 575.5 43.8 576.1 45.6 C576.7 47.4 577.9 49.9 579.7 51.7 C581.5 53.5 586.4 55.1 587 56.5 C587.6 57.9 582.7 58.8 583.3 60.2 C583.9 61.6 589.4 63 590.6 65 C591.8 67 591.4 70.5 590.6 72.3 C589.8 74.1 587.6 74.7 585.8 75.9 C584 77.1 581.3 78.4 579.7 79.6 C578.1 80.8 576.9 81.2 576.1 83.2 C575.3 85.2 574.9 90.1 574.8 91.7 C574.7 93.3 575.1 92.5 575.3 93 C575.6 93.5 576 94.3 576.5 95 C576.9 95.7 577.6 96.3 578.1 97 C578.6 97.7 579.2 98.3 579.4 99 C579.5 99.7 579.3 100.3 578.9 101 C578.5 101.7 577.5 102.3 577 103 C576.4 103.7 575.8 104.3 575.6 105 C575.3 105.7 575.3 106.3 575.3 107 C575.3 107.7 575.5 108.3 575.6 109 C575.6 109.7 575.6 110.3 575.5 111 C575.5 111.7 575.3 112.3 575.1 113 C575 113.7 574.8 114.3 574.6 115 C574.5 115.7 574.4 116.3 574.4 117 C574.4 117.7 574.5 118.3 574.6 119 C574.7 119.7 575 120.3 575.1 121 C575.3 121.7 575.5 122.3 575.5 123 C575.6 123.7 575.6 124.3 575.5 125 C575.5 125.7 575.3 126.3 575.1 127 C575 127.7 574.8 128.3 574.6 129 C574.5 129.7 574.4 130.3 574.4 131 C574.4 131.7 574.5 132.3 574.6 133 C574.7 133.7 575 134.3 575.1 135 C575.3 135.7 575.5 136.3 575.5 137 C575.6 137.7 575.6 138.3 575.5 139 C575.5 139.7 575.3 140.3 575.1 141 C575 141.7 574.8 142.3 574.6 143 C574.5 143.7 574.4 144.3 574.4 145 C574.4 145.7 574.5 146.3 574.6 147 C574.7 147.7 575 148.3 575.1 149 C575.3 149.7 575.5 150.3 575.5 151 C575.6 151.7 575.6 152.3 575.5 153 C575.5 153.7 575.3 154.3 575.1 155 C575 155.7 574.8 156.3 574.6 157 C574.5 157.7 574.4 158.3 574.4 159 C574.4 159.7 574.5 160.3 574.6 161 C574.7 161.7 575 162.3 575.1 163 C575.3 163.7 575.5 164.3 575.5 165 C575.6 165.7 575.6 166.3 575.5 167 C575.5 167.7 575.3 168.3 575.1 169 C575 169.7 574.8 170.3 574.6 171 C574.5 171.7 574.4 172.3 574.4 173 C574.4 173.7 574.5 174.3 574.6 175 C574.7 175.7 575 176.3 575.1 177 C575.3 177.7 575.5 178.3 575.5 179 C575.6 179.7 575.6 180.3 575.5 181 C575.5 181.7 575.3 182.3 575.1 183 C575 183.7 574.8 184.3 574.6 185 C574.5 185.7 574.4 186.3 574.4 187 C574.4 187.7 574.5 188.3 574.6 189 C574.7 189.7 575 190.3 575.1 191 C575.3 191.7 575.5 192.3 575.5 193 C575.6 193.7 575.6 194.3 575.5 195 C575.5 195.7 575.3 196.3 575.1 197 C575 197.7 574.8 198.3 574.6 199 C574.5 199.7 574.4 200.3 574.4 201 C574.4 201.7 574.5 202.3 574.6 203 C574.7 203.7 575 204.3 575.1 205 C575.3 205.7 575.5 206.3 575.5 207 C575.6 207.7 575.6 208.3 575.6 209 C575.5 209.7 575.3 210.3 575.3 211 C575.3 211.7 575.3 212.3 575.6 213 C575.8 213.7 576.4 214.3 576.6 215 C576.9 215.7 577 216.3 576.9 217 C576.8 217.7 576.2 218.3 576 219 C575.8 219.7 575.7 220.7 575.7 221" fill="none" stroke="#1010ff" stroke-width="1.4" stroke-linejoin="round" />
<path d="M581.5 3.8 C581.4 4.3 580.2 5.8 580.9 6.8 C581.6 7.8 583 9.1 585.8 9.9 C588.6 10.7 594 11.1 597.9 11.7 C601.8 12.3 608.2 12.7 609.4 13.5 C610.6 14.3 606.5 15.4 605.2 16.5 C603.9 17.6 602.5 19.1 601.5 20.2 C600.5 21.3 598.9 22.2 599.1 23.2 C599.3 24.2 601.5 25.1 602.7 26.2 C603.9 27.3 607.2 28.9 606.4 29.9 C605.6 30.9 601.3 31.1 597.9 32.3 C594.5 33.5 589.2 35.4 585.8 37.2 C582.4 39 578.7 41.4 577.3 43.2 C575.9 45 576.9 46.5 577.3 48.1 C577.7 49.7 578.9 51.1 579.7 52.9 C580.5 54.7 581.5 56.8 582.1 59 C582.7 61.2 582.7 63.8 583.3 66.2 C583.9 68.6 586 71.7 585.8 73.5 C585.6 75.3 583.5 75.8 582.1 77.2 C580.7 78.6 578.5 80.4 577.3 82 C576.1 83.6 575.2 85.5 574.8 86.8 C574.4 88.1 575 89.1 575.1 90 C575.1 90.9 575.1 91.3 575 92 C574.9 92.7 574.7 93.3 574.5 94 C574.3 94.7 574.1 95.3 573.9 96 C573.7 96.7 573.6 97.3 573.5 98 C573.5 98.7 573.5 99.3 573.6 100 C573.7 100.7 573.9 101.3 574.1 102 C574.3 102.7 574.5 103.3 574.7 104 C574.9 104.7 575 105.3 575.1 106 C575.1 106.7 575.1 107.3 575 108 C574.9 108.7 574.7 109.3 574.5 110 C574.3 110.7 574.1 111.3 573.9 112 C573.7 112.7 573.6 113.3 573.5 114 C573.5 114.7 573.5 115.3 573.6 116 C573.7 116.7 573.9 117.3 574.1 118 C574.3 118.7 574.5 119.3 574.7 120 C574.9 120.7 575 121.3 575.1 122 C575.1 122.7 575.1 123.3 575 124 C574.9 124.7 574.7 125.3 574.5 126 C574.3 126.7 574.1 127.3 573.9 128 C573.7 128.7 573.6 129.3 573.5 130 C573.5 130.7 573.5 131.3 573.6 132 C573.7 132.7 573.9 133.3 574.1 134 C574.3 134.7 574.5 135.3 574.7 136 C574.9 136.7 575 137.3 575.1 138 C575.1 138.7 575.1 139.3 575 140 C574.9 140.7 574.7 141.3 574.5 142 C574.3 142.7 574.1 143.3 573.9 144 C573.7 144.7 573.6 145.3 573.5 146 C573.5 146.7 573.5 147.3 573.6 148 C573.7 148.7 573.9 149.3 574.1 150 C574.3 150.7 574.5 151.3 574.7 152 C574.9 152.7 575 153.3 575.1 154 C575.1 154.7 575.1 155.3 575 156 C574.9 156.7 574.7 157.3 574.5 158 C574.3 158.7 574.1 159.3 573.9 160 C573.7 160.7 573.6 161.3 573.5 162 C573.5 162.7 573.5 163.3 573.6 164 C573.7 164.7 573.9 165.3 574.1 166 C574.3 166.7 574.5 167.3 574.7 168 C574.9 168.7 575 169.3 575.1 170 C575.1 170.7 575.1 171.3 575 172 C574.9 172.7 574.7 173.3 574.5 174 C574.3 174.7 574.1 175.3 573.9 176 C573.7 176.7 573.6 177.3 573.5 178 C573.5 178.7 573.5 179.3 573.6 180 C573.7 180.7 573.9 181.3 574.1 182 C574.3 182.7 574.5 183.3 574.7 184 C574.9 184.7 575 185.3 575.1 186 C575.1 186.7 575.1 187.3 575 188 C574.9 188.7 574.7 189.3 574.5 190 C574.3 190.7 574.1 191.3 573.9 192 C573.7 192.7 573.6 193.3 573.5 194 C573.5 194.7 573.5 195.3 573.6 196 C573.7 196.7 573.9 197.3 574.1 198 C574.3 198.7 574.5 199.3 574.7 200 C574.9 200.7 575 201.3 575.1 202 C575.1 202.7 575.1 203.3 575 204 C574.9 204.7 574.7 205.3 574.5 206 C574.3 206.7 574.1 207.3 573.9 208 C573.7 208.7 573.6 209.3 573.5 210 C573.5 210.7 573.5 211.3 573.6 212 C573.7 212.7 573.9 213.3 574.1 214 C574.3 214.7 574.5 215.3 574.7 216 C574.9 216.7 575 217.3 575.1 218 C575.1 218.7 575.1 219.3 575 220 C574.9 220.7 574.6 221.7 574.5 222" fill="none" stroke="#20d8e0" stroke-width="1.4" stroke-linejoin="round" />
<rect x="312" y="3.6" width="86.2" height="219.2" fill="none" stroke="#222" stroke-width="1.35" stroke-linejoin="round"/>
<line x1="312" y1="21" x2="315.5" y2="21" stroke="#000" stroke-width="1.1" />
<line x1="312" y1="43.5" x2="315.5" y2="43.5" stroke="#000" stroke-width="1.1" />
<line x1="312" y1="66" x2="315.5" y2="66" stroke="#000" stroke-width="1.1" />
<line x1="312" y1="88.5" x2="315.5" y2="88.5" stroke="#000" stroke-width="1.1" />
<line x1="312" y1="111" x2="315.5" y2="111" stroke="#000" stroke-width="1.1" />
<line x1="312" y1="133.5" x2="315.5" y2="133.5" stroke="#000" stroke-width="1.1" />
<line x1="312" y1="156" x2="315.5" y2="156" stroke="#000" stroke-width="1.1" />
<line x1="312" y1="178.5" x2="315.5" y2="178.5" stroke="#000" stroke-width="1.1" />
<line x1="312" y1="201" x2="315.5" y2="201" stroke="#000" stroke-width="1.1" />
<line x1="387" y1="222.8" x2="387" y2="218.8" stroke="#000" stroke-width="1.1" />
<line x1="349.5" y1="222.8" x2="349.5" y2="220.3" stroke="#000" stroke-width="1.1" />
<text x="312" y="242" font-size="18" text-anchor="middle" fill="#000"  >0</text>
<text x="387" y="242" font-size="18" text-anchor="middle" fill="#000"  >4</text>
<rect x="398.2" y="3.6" width="86.4" height="219.2" fill="none" stroke="#222" stroke-width="1.35" stroke-linejoin="round"/>
<line x1="398.2" y1="21" x2="401.7" y2="21" stroke="#000" stroke-width="1.1" />
<line x1="398.2" y1="43.5" x2="401.7" y2="43.5" stroke="#000" stroke-width="1.1" />
<line x1="398.2" y1="66" x2="401.7" y2="66" stroke="#000" stroke-width="1.1" />
<line x1="398.2" y1="88.5" x2="401.7" y2="88.5" stroke="#000" stroke-width="1.1" />
<line x1="398.2" y1="111" x2="401.7" y2="111" stroke="#000" stroke-width="1.1" />
<line x1="398.2" y1="133.5" x2="401.7" y2="133.5" stroke="#000" stroke-width="1.1" />
<line x1="398.2" y1="156" x2="401.7" y2="156" stroke="#000" stroke-width="1.1" />
<line x1="398.2" y1="178.5" x2="401.7" y2="178.5" stroke="#000" stroke-width="1.1" />
<line x1="398.2" y1="201" x2="401.7" y2="201" stroke="#000" stroke-width="1.1" />
<line x1="474.3" y1="222.8" x2="474.3" y2="218.8" stroke="#000" stroke-width="1.1" />
<line x1="439.9" y1="222.8" x2="439.9" y2="220.3" stroke="#000" stroke-width="1.1" />
<text x="405.4" y="242" font-size="18" text-anchor="middle" fill="#000"  >0</text>
<text x="474.3" y="242" font-size="18" text-anchor="middle" fill="#000"  >4</text>
<rect x="484.6" y="3.6" width="86.8" height="219.2" fill="none" stroke="#222" stroke-width="1.35" stroke-linejoin="round"/>
<line x1="484.6" y1="21" x2="488.1" y2="21" stroke="#000" stroke-width="1.1" />
<line x1="484.6" y1="43.5" x2="488.1" y2="43.5" stroke="#000" stroke-width="1.1" />
<line x1="484.6" y1="66" x2="488.1" y2="66" stroke="#000" stroke-width="1.1" />
<line x1="484.6" y1="88.5" x2="488.1" y2="88.5" stroke="#000" stroke-width="1.1" />
<line x1="484.6" y1="111" x2="488.1" y2="111" stroke="#000" stroke-width="1.1" />
<line x1="484.6" y1="133.5" x2="488.1" y2="133.5" stroke="#000" stroke-width="1.1" />
<line x1="484.6" y1="156" x2="488.1" y2="156" stroke="#000" stroke-width="1.1" />
<line x1="484.6" y1="178.5" x2="488.1" y2="178.5" stroke="#000" stroke-width="1.1" />
<line x1="484.6" y1="201" x2="488.1" y2="201" stroke="#000" stroke-width="1.1" />
<line x1="560.3" y1="222.8" x2="560.3" y2="218.8" stroke="#000" stroke-width="1.1" />
<line x1="524.2" y1="222.8" x2="524.2" y2="220.3" stroke="#000" stroke-width="1.1" />
<text x="488.1" y="242" font-size="18" text-anchor="middle" fill="#000"  >0</text>
<text x="560.3" y="242" font-size="18" text-anchor="middle" fill="#000"  >4</text>
<rect x="571.4" y="3.6" width="86.5" height="219.2" fill="none" stroke="#222" stroke-width="1.35" stroke-linejoin="round"/>
<line x1="571.4" y1="21" x2="574.9" y2="21" stroke="#000" stroke-width="1.1" />
<line x1="571.4" y1="43.5" x2="574.9" y2="43.5" stroke="#000" stroke-width="1.1" />
<line x1="571.4" y1="66" x2="574.9" y2="66" stroke="#000" stroke-width="1.1" />
<line x1="571.4" y1="88.5" x2="574.9" y2="88.5" stroke="#000" stroke-width="1.1" />
<line x1="571.4" y1="111" x2="574.9" y2="111" stroke="#000" stroke-width="1.1" />
<line x1="571.4" y1="133.5" x2="574.9" y2="133.5" stroke="#000" stroke-width="1.1" />
<line x1="571.4" y1="156" x2="574.9" y2="156" stroke="#000" stroke-width="1.1" />
<line x1="571.4" y1="178.5" x2="574.9" y2="178.5" stroke="#000" stroke-width="1.1" />
<line x1="571.4" y1="201" x2="574.9" y2="201" stroke="#000" stroke-width="1.1" />
<line x1="647.6" y1="222.8" x2="647.6" y2="218.8" stroke="#000" stroke-width="1.1" />
<line x1="611.1" y1="222.8" x2="611.1" y2="220.3" stroke="#000" stroke-width="1.1" />
<text x="574.6" y="242" font-size="18" text-anchor="middle" fill="#000"  >0</text>
<text x="647.6" y="242" font-size="18" text-anchor="middle" fill="#000"  >4</text>
<text x="0.8" y="16" font-size="34" text-anchor="start" fill="#000" font-weight="bold" >a</text>
<text x="26.5" y="98.5" font-size="19" text-anchor="middle" fill="#000"  transform="rotate(-90 26.5 98.5)">Energy (eV)</text>
<text x="57" y="241.5" font-size="18" text-anchor="middle" fill="#000"  >Γ</text>
<text x="145" y="241.5" font-size="18" text-anchor="middle" fill="#000"  >M</text>
<text x="198" y="241.5" font-size="18" text-anchor="middle" fill="#000"  >K</text>
<text x="300" y="241.5" font-size="18" text-anchor="middle" fill="#000"  >Γ</text>
<text x="188" y="258" font-size="17" text-anchor="middle" fill="#000"  >Wave vector</text>
<text x="506" y="258" font-size="17" text-anchor="middle" fill="#000"  >Density of states</text>
<text x="342" y="103" font-size="18" text-anchor="middle" fill="#000"  >O</text>
<text x="444" y="103" font-size="18" text-anchor="middle" fill="#000"  >C</text>
<text x="523" y="103" font-size="18" text-anchor="middle" fill="#000"  >Ti3</text>
<text x="620" y="103" font-size="18" text-anchor="middle" fill="#000"  >Ti1/Ti2</text>
<line x1="334" y1="135.6" x2="369" y2="135.6" stroke="#000" stroke-width="1.6" />
<text x="372.5" y="141.1" font-size="17" font-style="italic">P<tspan font-size="12.5" dy="4.5">y</tspan></text>
<line x1="334" y1="156" x2="369" y2="156" stroke="#d62020" stroke-width="1.6" />
<text x="372.5" y="161.5" font-size="17" font-style="italic">P<tspan font-size="12.5" dy="4.5">z</tspan></text>
<line x1="334" y1="176" x2="369" y2="176" stroke="#1a1aff" stroke-width="1.6" />
<text x="372.5" y="181.5" font-size="17" font-style="italic">P<tspan font-size="12.5" dy="4.5">x</tspan></text>
<line x1="422" y1="135.6" x2="457" y2="135.6" stroke="#000" stroke-width="1.6" />
<text x="460.5" y="141.1" font-size="17" font-style="italic">P<tspan font-size="12.5" dy="4.5">y</tspan></text>
<line x1="422" y1="156" x2="457" y2="156" stroke="#d62020" stroke-width="1.6" />
<text x="460.5" y="161.5" font-size="17" font-style="italic">P<tspan font-size="12.5" dy="4.5">z</tspan></text>
<line x1="422" y1="176" x2="457" y2="176" stroke="#1a1aff" stroke-width="1.6" />
<text x="460.5" y="181.5" font-size="17" font-style="italic">P<tspan font-size="12.5" dy="4.5">x</tspan></text>
<line x1="491.6" y1="135" x2="527.1" y2="135" stroke="#000" stroke-width="1.6" />
<text x="531.1" y="140" font-size="16" font-style="italic">dxy</text>
<line x1="491.6" y1="152" x2="527.1" y2="152" stroke="#d62020" stroke-width="1.6" />
<text x="531.1" y="157" font-size="16" font-style="italic">dyz</text>
<line x1="491.6" y1="171" x2="527.1" y2="171" stroke="#1a8a1a" stroke-width="1.6" />
<text x="531.1" y="176" font-size="16" font-style="italic">dz<tspan font-size="10.5" dy="-6.5">2</tspan></text>
<line x1="491.6" y1="188.4" x2="527.1" y2="188.4" stroke="#1a1aff" stroke-width="1.6" />
<text x="531.1" y="193.4" font-size="16" font-style="italic">dxz</text>
<line x1="491.6" y1="207.4" x2="527.1" y2="207.4" stroke="#20d0d8" stroke-width="1.6" />
<text x="531.1" y="212.4" font-size="16" font-style="italic">dx<tspan font-size="10.5" dy="-6.5">2</tspan><tspan dy="6.5">-y</tspan><tspan font-size="10.5" dy="-6.5">2</tspan></text>
<line x1="578.4" y1="133.6" x2="613.9" y2="133.6" stroke="#000" stroke-width="1.6" />
<text x="617.9" y="138.6" font-size="16" font-style="italic">dxy</text>
<line x1="578.4" y1="151" x2="613.9" y2="151" stroke="#d62020" stroke-width="1.6" />
<text x="617.9" y="156" font-size="16" font-style="italic">dyz</text>
<line x1="578.4" y1="169.6" x2="613.9" y2="169.6" stroke="#1a8a1a" stroke-width="1.6" />
<text x="617.9" y="174.6" font-size="16" font-style="italic">dz<tspan font-size="10.5" dy="-6.5">2</tspan></text>
<line x1="578.4" y1="186.6" x2="613.9" y2="186.6" stroke="#1a1aff" stroke-width="1.6" />
<text x="617.9" y="191.6" font-size="16" font-style="italic">dxz</text>
<line x1="578.4" y1="206" x2="613.9" y2="206" stroke="#20d0d8" stroke-width="1.6" />
<text x="617.9" y="211" font-size="16" font-style="italic">dx<tspan font-size="10.5" dy="-6.5">2</tspan><tspan dy="6.5">-y</tspan><tspan font-size="10.5" dy="-6.5">2</tspan></text>
<text x="664.5" y="38" font-size="18" text-anchor="middle" fill="#000"  >d</text>
<text x="664" y="84" font-size="18" text-anchor="middle" fill="#000"  >c</text>
<text x="666.4" y="159" font-size="18" text-anchor="middle" fill="#000"  >b</text>
<text x="666.5" y="217" font-size="18" text-anchor="middle" fill="#000"  >a</text>
<line x1="63.4" y1="152" x2="63.4" y2="82" stroke="#c80008" stroke-width="2.7" />
<path d="M59.4 83 L63.4 75 L67.4 83 Z" fill="#c80008"/>
<line x1="138.8" y1="154" x2="138.8" y2="84.3" stroke="#c80008" stroke-width="2.7" />
<path d="M134.8 85.3 L138.8 77.3 L142.8 85.3 Z" fill="#c80008"/>
<line x1="147.1" y1="213" x2="147.1" y2="86.8" stroke="#0a32d2" stroke-width="2.7" />
<path d="M143.1 87.8 L147.1 79.8 L151.1 87.8 Z" fill="#0a32d2"/>
<line x1="154.4" y1="147" x2="154.4" y2="34" stroke="#5c9a3c" stroke-width="2.7" />
<path d="M150.4 35 L154.4 27 L158.4 35 Z" fill="#5c9a3c"/>
<text x="80" y="107.5" font-size="18.5" text-anchor="start" fill="#c1182c"  >780 nm</text>
<text x="168" y="124" font-size="18" text-anchor="start" fill="#5c9a3c"  >532</text>
<text x="169.5" y="146" font-size="18" text-anchor="start" fill="#5c9a3c"  >nm</text>
<text x="154.6" y="193" font-size="18.7" text-anchor="start" fill="#0a32d2"  >380 nm</text>
<path d="M674.8 79 C680.5 80 683.8 86 683.8 100 L683.8 295 C683.8 307 682 316 679 323" fill="none" stroke="#000" stroke-width="1.3"/>
<path d="M677.2 328 L676.3 321 L683.2 324.2 Z" fill="#000"/>
<rect x="55.6" y="324.5" width="620.4" height="38.2" fill="#cbcbcb" />
<defs><clipPath id="cb0"><rect x="55.6" y="268" width="200.4" height="164.5"/></clipPath><clipPath id="cb1"><rect x="256" y="268" width="200.4" height="164.5"/></clipPath><clipPath id="cb2"><rect x="456.4" y="268" width="200.6" height="164.5"/></clipPath></defs>
<g clip-path="url(#cb0)"><circle cx="56.5" cy="383.0" r="2.6" fill="none" stroke="#000" stroke-width="1.45"/><circle cx="56.5" cy="376.0" r="3.2" fill="none" stroke="#000" stroke-width="1.45"/><circle cx="58.6" cy="369.3" r="3.2" fill="none" stroke="#000" stroke-width="1.45"/><circle cx="60.8" cy="362.4" r="3.0" fill="none" stroke="#000" stroke-width="1.45"/><circle cx="63.5" cy="360.2" r="2.8" fill="none" stroke="#000" stroke-width="1.45"/><circle cx="66.2" cy="362.9" r="2.6" fill="none" stroke="#000" stroke-width="1.45"/><circle cx="68.9" cy="366.1" r="2.6" fill="none" stroke="#000" stroke-width="1.45"/><circle cx="71.9" cy="369.5" r="2.5" fill="none" stroke="#000" stroke-width="1.15"/><circle cx="74.3" cy="372.6" r="2.4" fill="none" stroke="#000" stroke-width="1.15"/><circle cx="76.9" cy="376.1" r="2.4" fill="none" stroke="#000" stroke-width="1.15"/><circle cx="79.6" cy="380.2" r="2.4" fill="none" stroke="#000" stroke-width="1.15"/><circle cx="82.5" cy="384.8" r="2.3" fill="none" stroke="#000" stroke-width="1.15"/><circle cx="85.4" cy="389.7" r="2.3" fill="none" stroke="#000" stroke-width="1.15"/><circle cx="88.3" cy="394.4" r="2.3" fill="none" stroke="#000" stroke-width="1.15"/><circle cx="91.2" cy="399.1" r="2.3" fill="none" stroke="#000" stroke-width="1.15"/><circle cx="94.2" cy="404.0" r="2.3" fill="none" stroke="#000" stroke-width="1.15"/><circle cx="97.1" cy="408.6" r="2.2" fill="none" stroke="#000" stroke-width="1.15"/><circle cx="99.8" cy="412.7" r="2.2" fill="none" stroke="#000" stroke-width="1.15"/><circle cx="102.3" cy="416.2" r="2.2" fill="none" stroke="#000" stroke-width="1.15"/><circle cx="105.4" cy="420.3" r="2.1" fill="none" stroke="#000" stroke-width="1.15"/><circle cx="108.3" cy="423.4" r="2.0" fill="none" stroke="#000" stroke-width="1.15"/><circle cx="111.1" cy="425.4" r="2.0" fill="none" stroke="#000" stroke-width="1.15"/><circle cx="113.9" cy="425.9" r="1.9" fill="none" stroke="#000" stroke-width="1.15"/><circle cx="116.8" cy="426.2" r="1.9" fill="none" stroke="#000" stroke-width="1.15"/><circle cx="119.2" cy="426.4" r="1.8" fill="none" stroke="#000" stroke-width="1.15"/><circle cx="122.0" cy="426.4" r="1.8" fill="none" stroke="#000" stroke-width="1.15"/><circle cx="124.4" cy="426.1" r="1.8" fill="none" stroke="#000" stroke-width="1.15"/><circle cx="127.3" cy="425.6" r="1.8" fill="none" stroke="#000" stroke-width="1.15"/><circle cx="130.2" cy="425.0" r="1.8" fill="none" stroke="#000" stroke-width="1.15"/><circle cx="133.0" cy="424.5" r="1.8" fill="none" stroke="#000" stroke-width="1.15"/><circle cx="56.5" cy="350.0" r="3.0" fill="none" stroke="#000" stroke-width="1.45"/><circle cx="59.0" cy="343.8" r="2.8" fill="none" stroke="#000" stroke-width="1.45"/><circle cx="61.7" cy="342.7" r="2.7" fill="none" stroke="#000" stroke-width="1.45"/><circle cx="64.2" cy="341.6" r="2.6" fill="none" stroke="#000" stroke-width="1.45"/><circle cx="67.1" cy="338.5" r="2.5" fill="none" stroke="#000" stroke-width="1.45"/><circle cx="70.0" cy="333.8" r="2.5" fill="none" stroke="#000" stroke-width="1.15"/><circle cx="72.9" cy="329.7" r="2.4" fill="none" stroke="#000" stroke-width="1.15"/><circle cx="75.6" cy="326.8" r="2.3" fill="none" stroke="#000" stroke-width="1.15"/><circle cx="78.5" cy="324.8" r="2.3" fill="none" stroke="#000" stroke-width="1.15"/><circle cx="81.3" cy="324.3" r="2.3" fill="none" stroke="#000" stroke-width="1.15"/><circle cx="84.2" cy="324.6" r="2.3" fill="none" stroke="#000" stroke-width="1.15"/><circle cx="87.5" cy="325.5" r="2.3" fill="none" stroke="#000" stroke-width="1.15"/><circle cx="90.1" cy="326.5" r="2.3" fill="none" stroke="#000" stroke-width="1.15"/><circle cx="92.8" cy="327.7" r="2.2" fill="none" stroke="#000" stroke-width="1.15"/><circle cx="95.7" cy="329.3" r="2.2" fill="none" stroke="#000" stroke-width="1.15"/><circle cx="98.8" cy="330.9" r="2.1" fill="none" stroke="#000" stroke-width="1.15"/><circle cx="102.0" cy="332.8" r="2.1" fill="none" stroke="#000" stroke-width="1.15"/><circle cx="105.5" cy="335.0" r="2.1" fill="none" stroke="#000" stroke-width="1.15"/><circle cx="109.0" cy="337.2" r="2.0" fill="none" stroke="#000" stroke-width="1.15"/><circle cx="112.4" cy="339.0" r="2.0" fill="none" stroke="#000" stroke-width="1.15"/><circle cx="115.6" cy="340.2" r="2.0" fill="none" stroke="#000" stroke-width="1.15"/><circle cx="118.7" cy="341.0" r="2.0" fill="none" stroke="#000" stroke-width="1.15"/><circle cx="121.7" cy="341.4" r="1.9" fill="none" stroke="#000" stroke-width="1.15"/><circle cx="124.2" cy="341.7" r="1.9" fill="none" stroke="#000" stroke-width="1.15"/><circle cx="127.0" cy="342.0" r="1.8" fill="none" stroke="#000" stroke-width="1.15"/><circle cx="129.5" cy="341.7" r="1.7" fill="none" stroke="#000" stroke-width="1.15"/><circle cx="132.2" cy="340.5" r="1.6" fill="none" stroke="#000" stroke-width="1.15"/><circle cx="135.1" cy="338.5" r="1.4" fill="none" stroke="#000" stroke-width="1.15"/><circle cx="138.0" cy="336.2" r="1.3" fill="none" stroke="#777" stroke-width="0.8"/><circle cx="140.9" cy="333.4" r="1.2" fill="none" stroke="#777" stroke-width="0.8"/><circle cx="143.7" cy="330.4" r="1.2" fill="none" stroke="#777" stroke-width="0.8"/><circle cx="146.6" cy="327.2" r="1.2" fill="none" stroke="#777" stroke-width="0.8"/><circle cx="149.4" cy="323.8" r="1.1" fill="none" stroke="#777" stroke-width="0.8"/><circle cx="152.4" cy="320.1" r="1.1" fill="none" stroke="#777" stroke-width="0.8"/><circle cx="155.3" cy="316.1" r="1.0" fill="none" stroke="#777" stroke-width="0.8"/><circle cx="158.0" cy="312.6" r="1.0" fill="none" stroke="#777" stroke-width="0.8"/><circle cx="160.4" cy="310.1" r="1.0" fill="none" stroke="#777" stroke-width="0.8"/><circle cx="163.2" cy="307.5" r="1.0" fill="none" stroke="#777" stroke-width="0.8"/><circle cx="165.9" cy="305.3" r="1.0" fill="none" stroke="#777" stroke-width="0.8"/><circle cx="168.3" cy="303.4" r="1.0" fill="none" stroke="#777" stroke-width="0.8"/><circle cx="62.0" cy="341.0" r="2.3" fill="none" stroke="#000" stroke-width="1.15"/><circle cx="64.7" cy="338.4" r="2.3" fill="none" stroke="#000" stroke-width="1.15"/><circle cx="67.7" cy="335.7" r="2.2" fill="none" stroke="#000" stroke-width="1.15"/><circle cx="70.8" cy="333.6" r="2.2" fill="none" stroke="#000" stroke-width="1.15"/><circle cx="73.2" cy="332.4" r="2.2" fill="none" stroke="#000" stroke-width="1.15"/><circle cx="75.7" cy="331.4" r="2.1" fill="none" stroke="#000" stroke-width="1.15"/><circle cx="78.3" cy="330.6" r="2.1" fill="none" stroke="#000" stroke-width="1.15"/><circle cx="80.8" cy="329.7" r="2.1" fill="none" stroke="#000" stroke-width="1.15"/><circle cx="83.4" cy="328.9" r="2.1" fill="none" stroke="#000" stroke-width="1.15"/><circle cx="86.0" cy="328.1" r="2.0" fill="none" stroke="#000" stroke-width="1.15"/><circle cx="88.5" cy="327.4" r="2.0" fill="none" stroke="#000" stroke-width="1.15"/><circle cx="91.4" cy="326.7" r="2.0" fill="none" stroke="#000" stroke-width="1.15"/><circle cx="94.1" cy="326.3" r="1.9" fill="none" stroke="#000" stroke-width="1.15"/><circle cx="96.7" cy="326.0" r="1.9" fill="none" stroke="#000" stroke-width="1.15"/><circle cx="62.0" cy="323.0" r="0.8" fill="none" stroke="#777" stroke-width="0.8"/><circle cx="64.5" cy="319.3" r="0.9" fill="none" stroke="#777" stroke-width="0.8"/><circle cx="66.9" cy="315.1" r="1.0" fill="none" stroke="#777" stroke-width="0.8"/><circle cx="69.4" cy="309.9" r="1.1" fill="none" stroke="#777" stroke-width="0.8"/><circle cx="71.6" cy="302.7" r="1.4" fill="none" stroke="#000" stroke-width="1.15"/><circle cx="73.7" cy="295.4" r="2.1" fill="none" stroke="#000" stroke-width="1.15"/><circle cx="76.2" cy="289.8" r="2.6" fill="none" stroke="#000" stroke-width="1.45"/><circle cx="79.1" cy="287.3" r="2.6" fill="none" stroke="#000" stroke-width="1.45"/><circle cx="82.1" cy="285.4" r="2.6" fill="none" stroke="#000" stroke-width="1.45"/><circle cx="84.5" cy="284.2" r="2.6" fill="none" stroke="#000" stroke-width="1.45"/><circle cx="87.3" cy="283.4" r="2.6" fill="none" stroke="#000" stroke-width="1.45"/><circle cx="90.2" cy="282.7" r="2.6" fill="none" stroke="#000" stroke-width="1.45"/><circle cx="93.2" cy="281.9" r="2.6" fill="none" stroke="#000" stroke-width="1.45"/><circle cx="96.2" cy="280.7" r="2.6" fill="none" stroke="#000" stroke-width="1.45"/><circle cx="99.2" cy="279.1" r="2.6" fill="none" stroke="#000" stroke-width="1.45"/><circle cx="102.1" cy="277.2" r="2.7" fill="none" stroke="#000" stroke-width="1.45"/><circle cx="104.9" cy="275.4" r="2.7" fill="none" stroke="#000" stroke-width="1.45"/><circle cx="107.4" cy="273.8" r="2.7" fill="none" stroke="#000" stroke-width="1.45"/><circle cx="110.3" cy="271.9" r="2.7" fill="none" stroke="#000" stroke-width="1.45"/><circle cx="112.8" cy="270.3" r="2.8" fill="none" stroke="#000" stroke-width="1.45"/><circle cx="88.3" cy="323.5" r="1.4" fill="none" stroke="#000" stroke-width="1.15"/><circle cx="91.0" cy="319.4" r="1.4" fill="none" stroke="#000" stroke-width="1.15"/><circle cx="93.9" cy="315.1" r="1.4" fill="none" stroke="#000" stroke-width="1.15"/><circle cx="96.8" cy="311.0" r="1.5" fill="none" stroke="#000" stroke-width="1.15"/><circle cx="99.2" cy="307.3" r="1.5" fill="none" stroke="#000" stroke-width="1.15"/><circle cx="102.1" cy="302.1" r="1.5" fill="none" stroke="#000" stroke-width="1.15"/><circle cx="104.9" cy="296.3" r="1.5" fill="none" stroke="#000" stroke-width="1.15"/><circle cx="107.8" cy="290.0" r="1.5" fill="none" stroke="#000" stroke-width="1.15"/><circle cx="110.3" cy="284.2" r="1.6" fill="none" stroke="#000" stroke-width="1.15"/><circle cx="113.0" cy="277.6" r="1.6" fill="none" stroke="#000" stroke-width="1.15"/><circle cx="115.7" cy="271.8" r="1.6" fill="none" stroke="#000" stroke-width="1.15"/><circle cx="133.4" cy="424.2" r="1.5" fill="none" stroke="#000" stroke-width="1.15"/><circle cx="136.0" cy="419.0" r="1.6" fill="none" stroke="#000" stroke-width="1.15"/><circle cx="138.3" cy="411.6" r="1.7" fill="none" stroke="#000" stroke-width="1.15"/><circle cx="140.1" cy="404.0" r="1.9" fill="none" stroke="#000" stroke-width="1.15"/><circle cx="141.9" cy="396.7" r="2.0" fill="none" stroke="#000" stroke-width="1.15"/><circle cx="143.6" cy="389.7" r="2.1" fill="none" stroke="#000" stroke-width="1.15"/><circle cx="145.3" cy="382.7" r="2.3" fill="none" stroke="#000" stroke-width="1.15"/><circle cx="147.2" cy="375.7" r="2.4" fill="none" stroke="#000" stroke-width="1.15"/><circle cx="149.0" cy="368.9" r="2.5" fill="none" stroke="#000" stroke-width="1.45"/><circle cx="150.9" cy="361.7" r="2.7" fill="none" stroke="#000" stroke-width="1.45"/><circle cx="152.9" cy="354.9" r="2.8" fill="none" stroke="#000" stroke-width="1.45"/><circle cx="155.2" cy="347.8" r="3.0" fill="none" stroke="#000" stroke-width="1.45"/><circle cx="157.5" cy="340.8" r="3.2" fill="none" stroke="#000" stroke-width="1.45"/><circle cx="159.8" cy="333.8" r="3.4" fill="none" stroke="#000" stroke-width="1.45"/><circle cx="162.1" cy="326.9" r="3.6" fill="none" stroke="#000" stroke-width="1.45"/><circle cx="164.3" cy="320.1" r="3.8" fill="none" stroke="#000" stroke-width="1.45"/><circle cx="166.2" cy="313.3" r="4.0" fill="none" stroke="#000" stroke-width="1.45"/><circle cx="168.7" cy="306.6" r="4.2" fill="none" stroke="#000" stroke-width="1.75"/><circle cx="171.2" cy="304.7" r="4.3" fill="none" stroke="#000" stroke-width="1.75"/><circle cx="171.2" cy="305.2" r="4.2" fill="none" stroke="#000" stroke-width="1.75"/><circle cx="174.3" cy="308.9" r="4.1" fill="none" stroke="#000" stroke-width="1.75"/><circle cx="176.9" cy="311.9" r="3.9" fill="none" stroke="#000" stroke-width="1.45"/><circle cx="179.5" cy="314.7" r="3.8" fill="none" stroke="#000" stroke-width="1.45"/><circle cx="182.6" cy="317.7" r="3.7" fill="none" stroke="#000" stroke-width="1.45"/><circle cx="185.7" cy="320.4" r="3.6" fill="none" stroke="#000" stroke-width="1.45"/><circle cx="188.7" cy="322.9" r="3.5" fill="none" stroke="#000" stroke-width="1.45"/><circle cx="191.8" cy="325.3" r="3.4" fill="none" stroke="#000" stroke-width="1.45"/><circle cx="194.8" cy="327.7" r="3.4" fill="none" stroke="#000" stroke-width="1.45"/><circle cx="197.8" cy="329.9" r="3.3" fill="none" stroke="#000" stroke-width="1.45"/><circle cx="200.8" cy="331.9" r="3.3" fill="none" stroke="#000" stroke-width="1.45"/><circle cx="203.8" cy="333.9" r="3.2" fill="none" stroke="#000" stroke-width="1.45"/><circle cx="206.9" cy="335.7" r="3.2" fill="none" stroke="#000" stroke-width="1.45"/><circle cx="209.7" cy="337.0" r="3.2" fill="none" stroke="#000" stroke-width="1.45"/><circle cx="212.7" cy="338.2" r="3.2" fill="none" stroke="#000" stroke-width="1.45"/><circle cx="215.9" cy="339.4" r="3.1" fill="none" stroke="#000" stroke-width="1.45"/><circle cx="219.0" cy="340.4" r="3.1" fill="none" stroke="#000" stroke-width="1.45"/><circle cx="221.7" cy="341.2" r="3.1" fill="none" stroke="#000" stroke-width="1.45"/><circle cx="224.4" cy="341.7" r="3.1" fill="none" stroke="#000" stroke-width="1.45"/><circle cx="226.9" cy="342.0" r="3.0" fill="none" stroke="#000" stroke-width="1.45"/><circle cx="230.0" cy="342.5" r="3.0" fill="none" stroke="#000" stroke-width="1.45"/><circle cx="232.5" cy="343.1" r="3.0" fill="none" stroke="#000" stroke-width="1.45"/><circle cx="235.3" cy="343.7" r="3.0" fill="none" stroke="#000" stroke-width="1.45"/><circle cx="237.9" cy="344.2" r="3.0" fill="none" stroke="#000" stroke-width="1.45"/><circle cx="241.1" cy="344.7" r="3.0" fill="none" stroke="#000" stroke-width="1.45"/><circle cx="243.5" cy="345.0" r="3.0" fill="none" stroke="#000" stroke-width="1.45"/><circle cx="246.3" cy="345.2" r="3.0" fill="none" stroke="#000" stroke-width="1.45"/><circle cx="248.9" cy="344.8" r="3.1" fill="none" stroke="#000" stroke-width="1.45"/><circle cx="251.7" cy="343.8" r="3.2" fill="none" stroke="#000" stroke-width="1.45"/><circle cx="254.3" cy="342.4" r="3.4" fill="none" stroke="#000" stroke-width="1.45"/><circle cx="173.5" cy="309.8" r="4.0" fill="none" stroke="#000" stroke-width="1.75"/><circle cx="176.6" cy="314.5" r="3.9" fill="none" stroke="#000" stroke-width="1.45"/><circle cx="179.2" cy="318.4" r="3.9" fill="none" stroke="#000" stroke-width="1.45"/><circle cx="181.8" cy="322.3" r="3.8" fill="none" stroke="#000" stroke-width="1.45"/><circle cx="184.9" cy="327.0" r="3.7" fill="none" stroke="#000" stroke-width="1.45"/><circle cx="188.0" cy="331.6" r="3.6" fill="none" stroke="#000" stroke-width="1.45"/><circle cx="191.0" cy="336.1" r="3.5" fill="none" stroke="#000" stroke-width="1.45"/><circle cx="194.1" cy="340.3" r="3.4" fill="none" stroke="#000" stroke-width="1.45"/><circle cx="197.1" cy="344.3" r="3.3" fill="none" stroke="#000" stroke-width="1.45"/><circle cx="200.1" cy="347.9" r="3.2" fill="none" stroke="#000" stroke-width="1.45"/><circle cx="203.2" cy="351.0" r="3.1" fill="none" stroke="#000" stroke-width="1.45"/><circle cx="206.2" cy="353.6" r="3.1" fill="none" stroke="#000" stroke-width="1.45"/><circle cx="209.3" cy="356.1" r="3.0" fill="none" stroke="#000" stroke-width="1.45"/><circle cx="211.7" cy="357.9" r="3.0" fill="none" stroke="#000" stroke-width="1.45"/><circle cx="214.3" cy="359.8" r="2.9" fill="none" stroke="#000" stroke-width="1.45"/><circle cx="216.9" cy="361.5" r="2.9" fill="none" stroke="#000" stroke-width="1.45"/><circle cx="219.9" cy="363.5" r="2.8" fill="none" stroke="#000" stroke-width="1.45"/><circle cx="222.3" cy="365.3" r="2.7" fill="none" stroke="#000" stroke-width="1.45"/><circle cx="225.0" cy="366.8" r="2.7" fill="none" stroke="#000" stroke-width="1.45"/><circle cx="228.3" cy="367.6" r="2.7" fill="none" stroke="#000" stroke-width="1.45"/><circle cx="231.4" cy="368.1" r="2.7" fill="none" stroke="#000" stroke-width="1.45"/><circle cx="234.5" cy="368.4" r="2.7" fill="none" stroke="#000" stroke-width="1.45"/><circle cx="237.2" cy="368.1" r="2.7" fill="none" stroke="#000" stroke-width="1.45"/><circle cx="239.9" cy="366.6" r="2.7" fill="none" stroke="#000" stroke-width="1.45"/><circle cx="242.7" cy="363.7" r="2.8" fill="none" stroke="#000" stroke-width="1.45"/><circle cx="245.4" cy="361.4" r="2.8" fill="none" stroke="#000" stroke-width="1.45"/><circle cx="247.9" cy="360.0" r="2.9" fill="none" stroke="#000" stroke-width="1.45"/><circle cx="250.6" cy="361.8" r="3.3" fill="none" stroke="#000" stroke-width="1.45"/><circle cx="252.8" cy="368.8" r="3.5" fill="none" stroke="#000" stroke-width="1.45"/><circle cx="254.8" cy="375.6" r="3.5" fill="none" stroke="#000" stroke-width="1.45"/><circle cx="132.0" cy="266.0" r="2.5" fill="none" stroke="#000" stroke-width="1.45"/><circle cx="134.8" cy="267.1" r="2.5" fill="none" stroke="#000" stroke-width="1.45"/><circle cx="137.8" cy="269.1" r="2.5" fill="none" stroke="#000" stroke-width="1.15"/><circle cx="140.3" cy="271.1" r="2.5" fill="none" stroke="#000" stroke-width="1.15"/><circle cx="143.1" cy="273.3" r="2.4" fill="none" stroke="#000" stroke-width="1.15"/><circle cx="145.8" cy="275.6" r="2.4" fill="none" stroke="#000" stroke-width="1.15"/><circle cx="148.8" cy="278.3" r="2.4" fill="none" stroke="#000" stroke-width="1.15"/><circle cx="151.6" cy="281.0" r="2.3" fill="none" stroke="#000" stroke-width="1.15"/><circle cx="154.2" cy="283.7" r="2.2" fill="none" stroke="#000" stroke-width="1.15"/><circle cx="157.1" cy="287.2" r="2.1" fill="none" stroke="#000" stroke-width="1.15"/><circle cx="159.6" cy="290.8" r="1.9" fill="none" stroke="#000" stroke-width="1.15"/><circle cx="162.2" cy="294.2" r="1.7" fill="none" stroke="#000" stroke-width="1.15"/><circle cx="164.6" cy="297.2" r="1.5" fill="none" stroke="#000" stroke-width="1.15"/><circle cx="181.0" cy="266.0" r="3.5" fill="none" stroke="#000" stroke-width="1.45"/><circle cx="183.4" cy="269.0" r="3.5" fill="none" stroke="#000" stroke-width="1.45"/><circle cx="186.3" cy="270.5" r="3.6" fill="none" stroke="#000" stroke-width="1.45"/><circle cx="188.9" cy="271.7" r="3.8" fill="none" stroke="#000" stroke-width="1.45"/><circle cx="191.3" cy="272.8" r="3.9" fill="none" stroke="#000" stroke-width="1.45"/><circle cx="193.9" cy="274.0" r="4.0" fill="none" stroke="#000" stroke-width="1.45"/><circle cx="196.7" cy="276.2" r="4.1" fill="none" stroke="#000" stroke-width="1.75"/><circle cx="199.4" cy="279.2" r="4.3" fill="none" stroke="#000" stroke-width="1.75"/><circle cx="202.1" cy="282.6" r="4.6" fill="none" stroke="#000" stroke-width="1.75"/><circle cx="204.8" cy="285.9" r="4.9" fill="none" stroke="#000" stroke-width="1.75"/><circle cx="207.4" cy="288.7" r="5.1" fill="none" stroke="#000" stroke-width="1.75"/><circle cx="210.1" cy="290.5" r="5.3" fill="none" stroke="#000" stroke-width="1.75"/><circle cx="212.5" cy="291.4" r="5.4" fill="none" stroke="#000" stroke-width="1.75"/><circle cx="215.0" cy="292.1" r="5.5" fill="none" stroke="#000" stroke-width="1.75"/><circle cx="217.5" cy="292.7" r="5.5" fill="none" stroke="#000" stroke-width="1.75"/><circle cx="220.0" cy="293.1" r="5.5" fill="none" stroke="#000" stroke-width="1.75"/><circle cx="222.4" cy="293.4" r="5.4" fill="none" stroke="#000" stroke-width="1.75"/><circle cx="225.0" cy="293.2" r="5.0" fill="none" stroke="#000" stroke-width="1.75"/><circle cx="227.7" cy="291.9" r="4.4" fill="none" stroke="#000" stroke-width="1.75"/><circle cx="230.5" cy="290.5" r="3.9" fill="none" stroke="#000" stroke-width="1.45"/><circle cx="233.0" cy="289.4" r="3.4" fill="none" stroke="#000" stroke-width="1.45"/><circle cx="235.4" cy="289.5" r="3.0" fill="none" stroke="#000" stroke-width="1.45"/><circle cx="228.6" cy="299.0" r="2.2" fill="none" stroke="#000" stroke-width="1.15"/><circle cx="231.1" cy="304.2" r="2.1" fill="none" stroke="#000" stroke-width="1.15"/><circle cx="233.6" cy="308.8" r="2.0" fill="none" stroke="#000" stroke-width="1.15"/><circle cx="236.0" cy="313.5" r="2.0" fill="none" stroke="#000" stroke-width="1.15"/><circle cx="238.6" cy="319.9" r="1.8" fill="none" stroke="#000" stroke-width="1.15"/><circle cx="240.6" cy="326.8" r="1.6" fill="none" stroke="#000" stroke-width="1.15"/><circle cx="243.2" cy="333.9" r="1.5" fill="none" stroke="#000" stroke-width="1.15"/><circle cx="178.3" cy="292.0" r="1.2" fill="none" stroke="#777" stroke-width="0.8"/><circle cx="180.7" cy="289.9" r="1.2" fill="none" stroke="#777" stroke-width="0.8"/><circle cx="183.4" cy="287.7" r="1.2" fill="none" stroke="#777" stroke-width="0.8"/><circle cx="185.9" cy="285.8" r="1.2" fill="none" stroke="#777" stroke-width="0.8"/><circle cx="188.9" cy="283.8" r="1.2" fill="none" stroke="#777" stroke-width="0.8"/><circle cx="191.8" cy="281.9" r="1.2" fill="none" stroke="#777" stroke-width="0.8"/><circle cx="194.3" cy="280.2" r="1.2" fill="none" stroke="#777" stroke-width="0.8"/><circle cx="197.0" cy="278.4" r="1.2" fill="none" stroke="#777" stroke-width="0.8"/><circle cx="199.4" cy="276.8" r="1.2" fill="none" stroke="#777" stroke-width="0.8"/><circle cx="199.4" cy="272.2" r="1.2" fill="none" stroke="#777" stroke-width="0.8"/><circle cx="201.8" cy="271.1" r="1.2" fill="none" stroke="#777" stroke-width="0.8"/><circle cx="204.5" cy="270.0" r="1.3" fill="none" stroke="#777" stroke-width="0.8"/><circle cx="207.0" cy="269.9" r="1.3" fill="none" stroke="#000" stroke-width="1.15"/><circle cx="209.5" cy="270.7" r="1.3" fill="none" stroke="#000" stroke-width="1.15"/><circle cx="211.9" cy="272.1" r="1.4" fill="none" stroke="#000" stroke-width="1.15"/><circle cx="214.5" cy="274.7" r="1.4" fill="none" stroke="#000" stroke-width="1.15"/><circle cx="217.1" cy="279.6" r="1.5" fill="none" stroke="#000" stroke-width="1.15"/><circle cx="252.1" cy="410.5" r="1.5" fill="none" stroke="#000" stroke-width="1.15"/><circle cx="56.0" cy="285.7" r="0.6" fill="#999"/><circle cx="59.6" cy="286.0" r="0.6" fill="#999"/><circle cx="63.4" cy="286.3" r="0.6" fill="#999"/><circle cx="67.4" cy="286.7" r="0.6" fill="#999"/><circle cx="71.3" cy="287.1" r="0.6" fill="#999"/><circle cx="75.5" cy="287.7" r="0.6" fill="#999"/><circle cx="79.8" cy="288.3" r="0.6" fill="#999"/><circle cx="83.4" cy="288.8" r="0.6" fill="#999"/><circle cx="56.0" cy="271.0" r="0.6" fill="#999"/><circle cx="60.9" cy="270.9" r="0.6" fill="#999"/><circle cx="64.2" cy="270.8" r="0.6" fill="#999"/><circle cx="67.9" cy="270.6" r="0.6" fill="#999"/><circle cx="71.9" cy="270.5" r="0.6" fill="#999"/><circle cx="76.1" cy="270.4" r="0.6" fill="#999"/><circle cx="80.4" cy="270.3" r="0.6" fill="#999"/><circle cx="84.7" cy="270.1" r="0.6" fill="#999"/><circle cx="89.0" cy="270.1" r="0.6" fill="#999"/><circle cx="93.0" cy="270.0" r="0.6" fill="#999"/><circle cx="96.7" cy="270.0" r="0.6" fill="#999"/><circle cx="100.0" cy="270.0" r="0.6" fill="#999"/><circle cx="106.2" cy="270.2" r="0.6" fill="#999"/><circle cx="112.1" cy="270.5" r="0.6" fill="#999"/><circle cx="117.8" cy="270.9" r="0.6" fill="#999"/><circle cx="122.7" cy="271.4" r="0.6" fill="#999"/><circle cx="126.9" cy="271.7" r="0.6" fill="#999"/><circle cx="168.9" cy="297.2" r="0.6" fill="#999"/><circle cx="172.0" cy="295.4" r="0.6" fill="#999"/><circle cx="175.5" cy="293.3" r="0.6" fill="#999"/><circle cx="178.8" cy="290.8" r="0.6" fill="#999"/><circle cx="181.7" cy="287.8" r="0.6" fill="#999"/><circle cx="184.0" cy="285.3" r="0.6" fill="#999"/><circle cx="186.4" cy="283.0" r="0.6" fill="#999"/><circle cx="189.0" cy="281.0" r="0.6" fill="#999"/><circle cx="191.8" cy="279.1" r="0.6" fill="#999"/><circle cx="194.7" cy="277.4" r="0.6" fill="#999"/><circle cx="197.6" cy="275.9" r="0.6" fill="#999"/><circle cx="200.5" cy="274.4" r="0.6" fill="#999"/><circle cx="203.5" cy="272.8" r="0.6" fill="#999"/><circle cx="206.4" cy="271.5" r="0.6" fill="#999"/><circle cx="210.1" cy="270.9" r="0.6" fill="#999"/><circle cx="213.6" cy="272.6" r="0.6" fill="#999"/><circle cx="216.2" cy="274.8" r="0.6" fill="#999"/><circle cx="218.8" cy="277.3" r="0.6" fill="#999"/><circle cx="198.6" cy="286.9" r="0.6" fill="#999"/><circle cx="202.5" cy="288.9" r="0.6" fill="#999"/><circle cx="206.1" cy="290.8" r="0.6" fill="#999"/><circle cx="210.1" cy="292.8" r="0.6" fill="#999"/><circle cx="214.2" cy="294.7" r="0.6" fill="#999"/><circle cx="218.2" cy="296.4" r="0.6" fill="#999"/><circle cx="221.7" cy="297.5" r="0.6" fill="#999"/><circle cx="225.2" cy="298.3" r="0.6" fill="#999"/><circle cx="228.6" cy="299.0" r="0.6" fill="#999"/><circle cx="232.0" cy="299.4" r="0.6" fill="#999"/><circle cx="235.3" cy="299.7" r="0.6" fill="#999"/><circle cx="240.0" cy="300.0" r="0.6" fill="#999"/><circle cx="244.7" cy="300.0" r="0.6" fill="#999"/><circle cx="249.2" cy="299.7" r="0.6" fill="#999"/><circle cx="253.2" cy="299.3" r="0.6" fill="#999"/></g>
<g clip-path="url(#cb1)"><path d="M438.0 334.0 L446.0 341.0 L452.0 348.0" fill="none" stroke="#000" stroke-width="9" stroke-linecap="round" stroke-linejoin="round"/><circle cx="256.3" cy="284.6" r="4.0" fill="none" stroke="#000" stroke-width="1.75"/><circle cx="259.3" cy="285.5" r="4.0" fill="none" stroke="#000" stroke-width="1.75"/><circle cx="262.0" cy="286.4" r="4.0" fill="none" stroke="#000" stroke-width="1.75"/><circle cx="264.9" cy="287.8" r="4.0" fill="none" stroke="#000" stroke-width="1.75"/><circle cx="267.7" cy="289.6" r="4.0" fill="none" stroke="#000" stroke-width="1.75"/><circle cx="270.6" cy="290.3" r="4.0" fill="none" stroke="#000" stroke-width="1.45"/><circle cx="273.4" cy="289.4" r="3.9" fill="none" stroke="#000" stroke-width="1.45"/><circle cx="276.3" cy="287.4" r="3.8" fill="none" stroke="#000" stroke-width="1.45"/><circle cx="279.2" cy="284.1" r="3.7" fill="none" stroke="#000" stroke-width="1.45"/><circle cx="282.0" cy="279.8" r="3.6" fill="none" stroke="#000" stroke-width="1.45"/><circle cx="284.8" cy="276.6" r="3.4" fill="none" stroke="#000" stroke-width="1.45"/><circle cx="287.6" cy="274.6" r="3.3" fill="none" stroke="#000" stroke-width="1.45"/><circle cx="290.6" cy="273.2" r="3.2" fill="none" stroke="#000" stroke-width="1.45"/><circle cx="293.5" cy="272.3" r="3.2" fill="none" stroke="#000" stroke-width="1.45"/><circle cx="296.7" cy="271.8" r="3.1" fill="none" stroke="#000" stroke-width="1.45"/><circle cx="299.8" cy="272.0" r="3.0" fill="none" stroke="#000" stroke-width="1.45"/><circle cx="302.9" cy="273.4" r="2.7" fill="none" stroke="#000" stroke-width="1.45"/><circle cx="306.0" cy="275.6" r="2.3" fill="none" stroke="#000" stroke-width="1.15"/><circle cx="308.9" cy="277.7" r="2.0" fill="none" stroke="#000" stroke-width="1.15"/><circle cx="311.8" cy="279.8" r="1.7" fill="none" stroke="#000" stroke-width="1.15"/><circle cx="314.5" cy="281.6" r="1.6" fill="none" stroke="#000" stroke-width="1.15"/><circle cx="317.2" cy="283.0" r="1.4" fill="none" stroke="#000" stroke-width="1.15"/><circle cx="320.4" cy="284.2" r="1.3" fill="none" stroke="#000" stroke-width="1.15"/><circle cx="323.5" cy="285.3" r="1.2" fill="none" stroke="#777" stroke-width="0.8"/><circle cx="326.1" cy="286.1" r="1.2" fill="none" stroke="#777" stroke-width="0.8"/><circle cx="328.7" cy="286.7" r="1.1" fill="none" stroke="#777" stroke-width="0.8"/><circle cx="331.8" cy="286.9" r="1.0" fill="none" stroke="#777" stroke-width="0.8"/><circle cx="334.7" cy="286.7" r="1.0" fill="none" stroke="#777" stroke-width="0.8"/><circle cx="338.3" cy="286.4" r="1.0" fill="none" stroke="#777" stroke-width="0.8"/><circle cx="341.6" cy="286.0" r="1.0" fill="none" stroke="#777" stroke-width="0.8"/><circle cx="258.0" cy="335.0" r="5.0" fill="none" stroke="#000" stroke-width="1.75"/><circle cx="260.7" cy="332.3" r="5.0" fill="none" stroke="#000" stroke-width="1.75"/><circle cx="263.2" cy="330.0" r="5.0" fill="none" stroke="#000" stroke-width="1.75"/><circle cx="265.8" cy="328.2" r="5.0" fill="none" stroke="#000" stroke-width="1.75"/><circle cx="268.7" cy="326.4" r="5.0" fill="none" stroke="#000" stroke-width="1.75"/><circle cx="271.4" cy="325.1" r="5.0" fill="none" stroke="#000" stroke-width="1.75"/><circle cx="274.5" cy="323.8" r="4.9" fill="none" stroke="#000" stroke-width="1.75"/><circle cx="277.6" cy="322.7" r="4.8" fill="none" stroke="#000" stroke-width="1.75"/><circle cx="280.7" cy="322.3" r="4.8" fill="none" stroke="#000" stroke-width="1.75"/><circle cx="283.7" cy="322.3" r="4.7" fill="none" stroke="#000" stroke-width="1.75"/><circle cx="286.8" cy="322.9" r="4.6" fill="none" stroke="#000" stroke-width="1.75"/><circle cx="289.8" cy="324.3" r="4.4" fill="none" stroke="#000" stroke-width="1.75"/><circle cx="292.9" cy="326.6" r="4.3" fill="none" stroke="#000" stroke-width="1.75"/><circle cx="296.0" cy="329.2" r="4.1" fill="none" stroke="#000" stroke-width="1.75"/><circle cx="299.0" cy="331.6" r="3.9" fill="none" stroke="#000" stroke-width="1.45"/><circle cx="302.1" cy="334.0" r="3.7" fill="none" stroke="#000" stroke-width="1.45"/><circle cx="305.1" cy="336.3" r="3.6" fill="none" stroke="#000" stroke-width="1.45"/><circle cx="308.1" cy="338.0" r="3.4" fill="none" stroke="#000" stroke-width="1.45"/><circle cx="311.2" cy="339.3" r="3.3" fill="none" stroke="#000" stroke-width="1.45"/><circle cx="314.3" cy="340.3" r="3.2" fill="none" stroke="#000" stroke-width="1.45"/><circle cx="317.3" cy="341.0" r="3.2" fill="none" stroke="#000" stroke-width="1.45"/><circle cx="320.5" cy="341.5" r="3.1" fill="none" stroke="#000" stroke-width="1.45"/><circle cx="323.5" cy="341.8" r="3.0" fill="none" stroke="#000" stroke-width="1.45"/><circle cx="326.2" cy="341.8" r="3.0" fill="none" stroke="#000" stroke-width="1.45"/><circle cx="329.0" cy="341.6" r="2.9" fill="none" stroke="#000" stroke-width="1.45"/><circle cx="331.8" cy="340.7" r="2.8" fill="none" stroke="#000" stroke-width="1.45"/><circle cx="334.8" cy="338.6" r="2.6" fill="none" stroke="#000" stroke-width="1.45"/><circle cx="337.6" cy="335.8" r="2.3" fill="none" stroke="#000" stroke-width="1.15"/><circle cx="340.4" cy="333.6" r="2.0" fill="none" stroke="#000" stroke-width="1.15"/><circle cx="342.8" cy="331.6" r="1.7" fill="none" stroke="#000" stroke-width="1.15"/><circle cx="345.9" cy="327.7" r="1.5" fill="none" stroke="#000" stroke-width="1.15"/><circle cx="349.1" cy="323.1" r="1.3" fill="none" stroke="#000" stroke-width="1.15"/><circle cx="352.2" cy="318.7" r="1.2" fill="none" stroke="#777" stroke-width="0.8"/><circle cx="354.7" cy="315.6" r="1.2" fill="none" stroke="#777" stroke-width="0.8"/><circle cx="357.4" cy="312.8" r="1.1" fill="none" stroke="#777" stroke-width="0.8"/><circle cx="360.3" cy="310.4" r="1.1" fill="none" stroke="#777" stroke-width="0.8"/><circle cx="363.2" cy="308.6" r="1.1" fill="none" stroke="#777" stroke-width="0.8"/><circle cx="366.1" cy="307.1" r="1.0" fill="none" stroke="#777" stroke-width="0.8"/><circle cx="368.7" cy="306.0" r="1.0" fill="none" stroke="#777" stroke-width="0.8"/><circle cx="371.2" cy="306.3" r="1.0" fill="none" stroke="#777" stroke-width="0.8"/><circle cx="262.0" cy="338.0" r="4.0" fill="none" stroke="#000" stroke-width="1.75"/><circle cx="264.7" cy="335.4" r="4.0" fill="none" stroke="#000" stroke-width="1.75"/><circle cx="267.7" cy="332.6" r="4.0" fill="none" stroke="#000" stroke-width="1.75"/><circle cx="270.8" cy="330.6" r="4.0" fill="none" stroke="#000" stroke-width="1.75"/><circle cx="273.2" cy="329.6" r="4.0" fill="none" stroke="#000" stroke-width="1.75"/><circle cx="275.7" cy="328.9" r="4.0" fill="none" stroke="#000" stroke-width="1.75"/><circle cx="278.3" cy="328.3" r="4.0" fill="none" stroke="#000" stroke-width="1.75"/><circle cx="280.8" cy="327.8" r="4.0" fill="none" stroke="#000" stroke-width="1.45"/><circle cx="283.3" cy="327.3" r="3.9" fill="none" stroke="#000" stroke-width="1.45"/><circle cx="285.8" cy="326.9" r="3.7" fill="none" stroke="#000" stroke-width="1.45"/><circle cx="288.3" cy="326.8" r="3.6" fill="none" stroke="#000" stroke-width="1.45"/><circle cx="290.9" cy="327.2" r="3.5" fill="none" stroke="#000" stroke-width="1.45"/><circle cx="293.7" cy="328.4" r="3.3" fill="none" stroke="#000" stroke-width="1.45"/><circle cx="296.5" cy="330.0" r="3.2" fill="none" stroke="#000" stroke-width="1.45"/><circle cx="299.5" cy="331.7" r="3.0" fill="none" stroke="#000" stroke-width="1.45"/><circle cx="263.2" cy="357.8" r="3.8" fill="none" stroke="#000" stroke-width="1.45"/><circle cx="266.2" cy="360.7" r="3.7" fill="none" stroke="#000" stroke-width="1.45"/><circle cx="268.8" cy="363.3" r="3.6" fill="none" stroke="#000" stroke-width="1.45"/><circle cx="271.7" cy="366.8" r="3.4" fill="none" stroke="#000" stroke-width="1.45"/><circle cx="274.6" cy="370.7" r="3.2" fill="none" stroke="#000" stroke-width="1.45"/><circle cx="277.5" cy="374.6" r="3.0" fill="none" stroke="#000" stroke-width="1.45"/><circle cx="280.3" cy="378.3" r="2.8" fill="none" stroke="#000" stroke-width="1.45"/><circle cx="283.1" cy="382.2" r="2.5" fill="none" stroke="#000" stroke-width="1.45"/><circle cx="285.9" cy="386.5" r="2.3" fill="none" stroke="#000" stroke-width="1.15"/><circle cx="288.7" cy="391.3" r="2.1" fill="none" stroke="#000" stroke-width="1.15"/><circle cx="291.3" cy="395.5" r="2.0" fill="none" stroke="#000" stroke-width="1.15"/><circle cx="294.3" cy="400.1" r="1.8" fill="none" stroke="#000" stroke-width="1.15"/><circle cx="297.5" cy="404.9" r="1.7" fill="none" stroke="#000" stroke-width="1.15"/><circle cx="300.6" cy="409.3" r="1.6" fill="none" stroke="#000" stroke-width="1.15"/><circle cx="303.6" cy="413.5" r="1.4" fill="none" stroke="#000" stroke-width="1.15"/><circle cx="306.6" cy="417.3" r="1.3" fill="none" stroke="#777" stroke-width="0.8"/><circle cx="309.7" cy="420.2" r="1.2" fill="none" stroke="#777" stroke-width="0.8"/><circle cx="312.6" cy="422.2" r="1.1" fill="none" stroke="#777" stroke-width="0.8"/><circle cx="315.6" cy="423.5" r="1.0" fill="none" stroke="#777" stroke-width="0.8"/><circle cx="318.1" cy="424.2" r="1.0" fill="none" stroke="#777" stroke-width="0.8"/><circle cx="321.1" cy="424.7" r="1.0" fill="none" stroke="#777" stroke-width="0.8"/><circle cx="324.4" cy="425.0" r="0.9" fill="none" stroke="#777" stroke-width="0.8"/><circle cx="327.4" cy="425.2" r="0.9" fill="none" stroke="#777" stroke-width="0.8"/><circle cx="267.7" cy="323.5" r="1.4" fill="none" stroke="#000" stroke-width="1.15"/><circle cx="270.2" cy="316.0" r="1.4" fill="none" stroke="#000" stroke-width="1.15"/><circle cx="272.6" cy="308.8" r="1.4" fill="none" stroke="#000" stroke-width="1.15"/><circle cx="274.9" cy="302.1" r="1.5" fill="none" stroke="#000" stroke-width="1.15"/><circle cx="277.4" cy="296.4" r="1.5" fill="none" stroke="#000" stroke-width="1.15"/><circle cx="286.0" cy="323.5" r="1.2" fill="none" stroke="#777" stroke-width="0.8"/><circle cx="288.7" cy="318.6" r="1.2" fill="none" stroke="#777" stroke-width="0.8"/><circle cx="291.6" cy="313.9" r="1.2" fill="none" stroke="#777" stroke-width="0.8"/><circle cx="294.5" cy="309.7" r="1.2" fill="none" stroke="#777" stroke-width="0.8"/><circle cx="296.9" cy="306.1" r="1.2" fill="none" stroke="#777" stroke-width="0.8"/><circle cx="299.8" cy="301.5" r="1.2" fill="none" stroke="#777" stroke-width="0.8"/><circle cx="302.6" cy="296.6" r="1.3" fill="none" stroke="#777" stroke-width="0.8"/><circle cx="305.5" cy="291.7" r="1.3" fill="none" stroke="#000" stroke-width="1.15"/><circle cx="307.9" cy="287.7" r="1.3" fill="none" stroke="#000" stroke-width="1.15"/><circle cx="310.7" cy="283.1" r="1.3" fill="none" stroke="#000" stroke-width="1.15"/><circle cx="313.1" cy="279.3" r="1.3" fill="none" stroke="#000" stroke-width="1.15"/><circle cx="315.8" cy="275.3" r="1.3" fill="none" stroke="#000" stroke-width="1.15"/><circle cx="332.3" cy="424.2" r="0.9" fill="none" stroke="#777" stroke-width="0.8"/><circle cx="334.7" cy="419.0" r="0.9" fill="none" stroke="#777" stroke-width="0.8"/><circle cx="337.4" cy="413.0" r="0.9" fill="none" stroke="#777" stroke-width="0.8"/><circle cx="340.2" cy="404.9" r="0.9" fill="none" stroke="#777" stroke-width="0.8"/><circle cx="342.1" cy="397.7" r="0.9" fill="none" stroke="#777" stroke-width="0.8"/><circle cx="344.0" cy="390.1" r="0.9" fill="none" stroke="#777" stroke-width="0.8"/><circle cx="345.9" cy="382.7" r="0.9" fill="none" stroke="#777" stroke-width="0.8"/><circle cx="347.8" cy="375.3" r="0.9" fill="none" stroke="#777" stroke-width="0.8"/><circle cx="349.7" cy="368.1" r="0.9" fill="none" stroke="#777" stroke-width="0.8"/><circle cx="351.8" cy="359.8" r="0.9" fill="none" stroke="#777" stroke-width="0.8"/><circle cx="353.7" cy="352.2" r="0.9" fill="none" stroke="#777" stroke-width="0.8"/><circle cx="355.6" cy="345.0" r="0.9" fill="none" stroke="#777" stroke-width="0.8"/><circle cx="357.4" cy="338.1" r="0.9" fill="none" stroke="#777" stroke-width="0.8"/><circle cx="359.7" cy="330.4" r="0.9" fill="none" stroke="#777" stroke-width="0.8"/><circle cx="362.5" cy="323.1" r="0.9" fill="none" stroke="#777" stroke-width="0.8"/><circle cx="365.0" cy="317.6" r="0.9" fill="none" stroke="#777" stroke-width="0.8"/><circle cx="367.6" cy="312.5" r="0.9" fill="none" stroke="#777" stroke-width="0.8"/><circle cx="370.2" cy="308.1" r="0.9" fill="none" stroke="#777" stroke-width="0.8"/><circle cx="371.2" cy="306.5" r="0.8" fill="none" stroke="#777" stroke-width="0.8"/><circle cx="374.1" cy="308.5" r="0.9" fill="none" stroke="#777" stroke-width="0.8"/><circle cx="376.6" cy="310.3" r="1.0" fill="none" stroke="#777" stroke-width="0.8"/><circle cx="379.1" cy="312.3" r="1.0" fill="none" stroke="#777" stroke-width="0.8"/><circle cx="381.8" cy="314.4" r="1.1" fill="none" stroke="#777" stroke-width="0.8"/><circle cx="384.5" cy="316.7" r="1.2" fill="none" stroke="#777" stroke-width="0.8"/><circle cx="387.1" cy="319.2" r="1.4" fill="none" stroke="#000" stroke-width="1.15"/><circle cx="389.8" cy="321.9" r="1.5" fill="none" stroke="#000" stroke-width="1.15"/><circle cx="392.4" cy="324.5" r="1.6" fill="none" stroke="#000" stroke-width="1.15"/><circle cx="395.0" cy="327.0" r="1.7" fill="none" stroke="#000" stroke-width="1.15"/><circle cx="397.6" cy="329.3" r="1.8" fill="none" stroke="#000" stroke-width="1.15"/><circle cx="400.2" cy="331.3" r="1.9" fill="none" stroke="#000" stroke-width="1.15"/><circle cx="402.8" cy="333.2" r="1.9" fill="none" stroke="#000" stroke-width="1.15"/><circle cx="405.4" cy="334.8" r="2.0" fill="none" stroke="#000" stroke-width="1.15"/><circle cx="408.1" cy="336.2" r="2.1" fill="none" stroke="#000" stroke-width="1.15"/><circle cx="410.7" cy="337.5" r="2.1" fill="none" stroke="#000" stroke-width="1.15"/><circle cx="413.3" cy="338.7" r="2.2" fill="none" stroke="#000" stroke-width="1.15"/><circle cx="416.0" cy="339.7" r="2.3" fill="none" stroke="#000" stroke-width="1.15"/><circle cx="418.6" cy="340.7" r="2.3" fill="none" stroke="#000" stroke-width="1.15"/><circle cx="421.2" cy="341.7" r="2.4" fill="none" stroke="#000" stroke-width="1.15"/><circle cx="423.9" cy="342.5" r="2.5" fill="none" stroke="#000" stroke-width="1.15"/><circle cx="426.5" cy="343.0" r="2.5" fill="none" stroke="#000" stroke-width="1.45"/><circle cx="429.2" cy="343.3" r="2.6" fill="none" stroke="#000" stroke-width="1.45"/><circle cx="431.8" cy="343.5" r="2.7" fill="none" stroke="#000" stroke-width="1.45"/><circle cx="434.3" cy="343.5" r="2.9" fill="none" stroke="#000" stroke-width="1.45"/><circle cx="437.2" cy="343.3" r="3.0" fill="none" stroke="#000" stroke-width="1.45"/><circle cx="440.0" cy="343.0" r="3.2" fill="none" stroke="#000" stroke-width="1.45"/><circle cx="442.6" cy="342.7" r="3.5" fill="none" stroke="#000" stroke-width="1.45"/><circle cx="445.2" cy="342.3" r="3.8" fill="none" stroke="#000" stroke-width="1.45"/><circle cx="371.2" cy="307.5" r="0.8" fill="none" stroke="#777" stroke-width="0.8"/><circle cx="374.2" cy="311.3" r="0.8" fill="none" stroke="#777" stroke-width="0.8"/><circle cx="377.4" cy="315.3" r="0.8" fill="none" stroke="#777" stroke-width="0.8"/><circle cx="380.9" cy="319.4" r="0.8" fill="none" stroke="#777" stroke-width="0.8"/><circle cx="384.2" cy="322.9" r="0.8" fill="none" stroke="#777" stroke-width="0.8"/><circle cx="387.5" cy="325.9" r="0.8" fill="none" stroke="#777" stroke-width="0.8"/><circle cx="390.9" cy="328.7" r="0.9" fill="none" stroke="#777" stroke-width="0.8"/><circle cx="394.2" cy="331.6" r="0.9" fill="none" stroke="#777" stroke-width="0.8"/><circle cx="397.3" cy="334.7" r="0.9" fill="none" stroke="#777" stroke-width="0.8"/><circle cx="399.9" cy="338.0" r="0.9" fill="none" stroke="#777" stroke-width="0.8"/><circle cx="402.4" cy="341.4" r="0.9" fill="none" stroke="#777" stroke-width="0.8"/><circle cx="405.0" cy="344.8" r="1.0" fill="none" stroke="#777" stroke-width="0.8"/><circle cx="407.8" cy="348.1" r="1.0" fill="none" stroke="#777" stroke-width="0.8"/><circle cx="410.7" cy="351.6" r="1.1" fill="none" stroke="#777" stroke-width="0.8"/><circle cx="413.8" cy="355.0" r="1.3" fill="none" stroke="#777" stroke-width="0.8"/><circle cx="416.9" cy="358.2" r="1.4" fill="none" stroke="#000" stroke-width="1.15"/><circle cx="419.9" cy="361.0" r="1.5" fill="none" stroke="#000" stroke-width="1.15"/><circle cx="422.7" cy="363.6" r="1.7" fill="none" stroke="#000" stroke-width="1.15"/><circle cx="425.6" cy="365.8" r="1.8" fill="none" stroke="#000" stroke-width="1.15"/><circle cx="428.4" cy="367.5" r="1.9" fill="none" stroke="#000" stroke-width="1.15"/><circle cx="431.3" cy="368.2" r="2.0" fill="none" stroke="#000" stroke-width="1.15"/><circle cx="434.3" cy="367.9" r="2.2" fill="none" stroke="#000" stroke-width="1.15"/><circle cx="437.3" cy="366.8" r="2.3" fill="none" stroke="#000" stroke-width="1.15"/><circle cx="440.2" cy="365.5" r="2.4" fill="none" stroke="#000" stroke-width="1.15"/><circle cx="443.2" cy="363.9" r="2.6" fill="none" stroke="#000" stroke-width="1.45"/><circle cx="445.7" cy="361.8" r="2.8" fill="none" stroke="#000" stroke-width="1.45"/><circle cx="448.2" cy="360.1" r="3.0" fill="none" stroke="#000" stroke-width="1.45"/><circle cx="450.7" cy="362.7" r="3.2" fill="none" stroke="#000" stroke-width="1.45"/><circle cx="452.6" cy="370.0" r="3.7" fill="none" stroke="#000" stroke-width="1.45"/><circle cx="453.5" cy="377.2" r="4.0" fill="none" stroke="#000" stroke-width="1.75"/><circle cx="402.9" cy="270.0" r="1.3" fill="none" stroke="#000" stroke-width="1.15"/><circle cx="405.8" cy="269.8" r="1.3" fill="none" stroke="#000" stroke-width="1.15"/><circle cx="408.5" cy="270.1" r="1.3" fill="none" stroke="#000" stroke-width="1.15"/><circle cx="411.1" cy="271.8" r="1.3" fill="none" stroke="#000" stroke-width="1.15"/><circle cx="413.7" cy="274.1" r="1.2" fill="none" stroke="#777" stroke-width="0.8"/><circle cx="416.3" cy="277.0" r="1.2" fill="none" stroke="#777" stroke-width="0.8"/><circle cx="419.0" cy="266.0" r="3.5" fill="none" stroke="#000" stroke-width="1.45"/><circle cx="421.5" cy="268.2" r="3.5" fill="none" stroke="#000" stroke-width="1.45"/><circle cx="424.1" cy="270.0" r="3.7" fill="none" stroke="#000" stroke-width="1.45"/><circle cx="426.9" cy="272.4" r="3.8" fill="none" stroke="#000" stroke-width="1.45"/><circle cx="429.6" cy="275.6" r="3.9" fill="none" stroke="#000" stroke-width="1.45"/><circle cx="432.2" cy="279.1" r="4.0" fill="none" stroke="#000" stroke-width="1.75"/><circle cx="434.8" cy="282.5" r="4.1" fill="none" stroke="#000" stroke-width="1.75"/><circle cx="437.4" cy="285.4" r="4.2" fill="none" stroke="#000" stroke-width="1.75"/><circle cx="440.0" cy="287.9" r="4.4" fill="none" stroke="#000" stroke-width="1.75"/><circle cx="442.8" cy="289.0" r="4.5" fill="none" stroke="#000" stroke-width="1.75"/><circle cx="445.5" cy="288.4" r="4.5" fill="none" stroke="#000" stroke-width="1.75"/><circle cx="448.3" cy="287.2" r="4.5" fill="none" stroke="#000" stroke-width="1.75"/><circle cx="451.2" cy="286.1" r="4.5" fill="none" stroke="#000" stroke-width="1.75"/><circle cx="453.7" cy="285.1" r="4.5" fill="none" stroke="#000" stroke-width="1.75"/><circle cx="396.3" cy="287.0" r="1.5" fill="none" stroke="#000" stroke-width="1.15"/><circle cx="399.3" cy="287.8" r="1.6" fill="none" stroke="#000" stroke-width="1.15"/><circle cx="401.8" cy="288.6" r="1.8" fill="none" stroke="#000" stroke-width="1.15"/><circle cx="404.3" cy="289.5" r="1.9" fill="none" stroke="#000" stroke-width="1.15"/><circle cx="406.9" cy="290.7" r="1.9" fill="none" stroke="#000" stroke-width="1.15"/><circle cx="409.5" cy="293.2" r="2.1" fill="none" stroke="#000" stroke-width="1.15"/><circle cx="412.0" cy="296.9" r="2.3" fill="none" stroke="#000" stroke-width="1.15"/><circle cx="414.7" cy="300.5" r="2.4" fill="none" stroke="#000" stroke-width="1.15"/><circle cx="417.3" cy="303.5" r="2.6" fill="none" stroke="#000" stroke-width="1.45"/><circle cx="419.9" cy="306.0" r="2.7" fill="none" stroke="#000" stroke-width="1.45"/><circle cx="422.6" cy="307.8" r="2.8" fill="none" stroke="#000" stroke-width="1.45"/><circle cx="425.2" cy="309.9" r="3.0" fill="none" stroke="#000" stroke-width="1.45"/><circle cx="427.8" cy="312.6" r="3.1" fill="none" stroke="#000" stroke-width="1.45"/><circle cx="430.5" cy="315.3" r="3.2" fill="none" stroke="#000" stroke-width="1.45"/><circle cx="433.1" cy="317.9" r="3.4" fill="none" stroke="#000" stroke-width="1.45"/><circle cx="435.7" cy="320.5" r="3.6" fill="none" stroke="#000" stroke-width="1.45"/><circle cx="438.3" cy="323.1" r="3.9" fill="none" stroke="#000" stroke-width="1.45"/><circle cx="440.9" cy="325.7" r="4.1" fill="none" stroke="#000" stroke-width="1.75"/><circle cx="443.6" cy="328.4" r="4.5" fill="none" stroke="#000" stroke-width="1.75"/><circle cx="446.1" cy="331.8" r="5.2" fill="none" stroke="#000" stroke-width="1.75"/><circle cx="409.4" cy="290.3" r="2.5" fill="none" stroke="#000" stroke-width="1.45"/><circle cx="412.4" cy="290.6" r="2.6" fill="none" stroke="#000" stroke-width="1.45"/><circle cx="414.9" cy="290.9" r="2.7" fill="none" stroke="#000" stroke-width="1.45"/><circle cx="417.4" cy="291.1" r="2.7" fill="none" stroke="#000" stroke-width="1.45"/><circle cx="420.0" cy="291.4" r="2.8" fill="none" stroke="#000" stroke-width="1.45"/><circle cx="422.7" cy="291.9" r="2.9" fill="none" stroke="#000" stroke-width="1.45"/><circle cx="425.2" cy="292.9" r="3.0" fill="none" stroke="#000" stroke-width="1.45"/><circle cx="427.8" cy="296.9" r="3.0" fill="none" stroke="#000" stroke-width="1.45"/><circle cx="430.4" cy="302.1" r="3.1" fill="none" stroke="#000" stroke-width="1.45"/><circle cx="432.9" cy="305.6" r="3.2" fill="none" stroke="#000" stroke-width="1.45"/><circle cx="435.5" cy="310.9" r="3.3" fill="none" stroke="#000" stroke-width="1.45"/><circle cx="438.1" cy="316.2" r="3.5" fill="none" stroke="#000" stroke-width="1.45"/><circle cx="440.5" cy="320.9" r="3.5" fill="none" stroke="#000" stroke-width="1.45"/><circle cx="442.9" cy="325.2" r="4.1" fill="none" stroke="#000" stroke-width="1.75"/><circle cx="263.2" cy="344.1" r="7.0" fill="none" stroke="#000" stroke-width="2.0"/><circle cx="441.0" cy="336.0" r="6.0" fill="none" stroke="#000" stroke-width="2.0"/><circle cx="447.0" cy="341.0" r="7.0" fill="none" stroke="#000" stroke-width="2.0"/><circle cx="450.0" cy="346.0" r="7.0" fill="none" stroke="#000" stroke-width="2.0"/><circle cx="445.0" cy="347.0" r="6.0" fill="none" stroke="#000" stroke-width="2.0"/><circle cx="452.1" cy="410.5" r="1.5" fill="none" stroke="#000" stroke-width="1.15"/><circle cx="451.3" cy="418.5" r="1.5" fill="none" stroke="#000" stroke-width="1.15"/><circle cx="346.0" cy="267.4" r="2.0" fill="none" stroke="#000" stroke-width="1.15"/><circle cx="348.7" cy="267.9" r="2.0" fill="none" stroke="#000" stroke-width="1.15"/><circle cx="351.5" cy="268.4" r="2.0" fill="none" stroke="#000" stroke-width="1.15"/><circle cx="256.0" cy="283.0" r="0.6" fill="#999"/><circle cx="258.7" cy="285.1" r="0.6" fill="#999"/><circle cx="262.4" cy="288.2" r="0.6" fill="#999"/><circle cx="266.8" cy="291.8" r="0.6" fill="#999"/><circle cx="271.4" cy="295.3" r="0.6" fill="#999"/><circle cx="276.0" cy="298.2" r="0.6" fill="#999"/><circle cx="280.0" cy="300.0" r="0.6" fill="#999"/><circle cx="283.8" cy="300.5" r="0.6" fill="#999"/><circle cx="287.7" cy="300.1" r="0.6" fill="#999"/><circle cx="291.5" cy="299.1" r="0.6" fill="#999"/><circle cx="295.0" cy="297.8" r="0.6" fill="#999"/><circle cx="299.0" cy="296.3" r="0.6" fill="#999"/><circle cx="343.7" cy="273.2" r="0.6" fill="#999"/><circle cx="346.2" cy="275.7" r="0.6" fill="#999"/><circle cx="348.6" cy="278.1" r="0.6" fill="#999"/><circle cx="351.2" cy="280.7" r="0.6" fill="#999"/><circle cx="353.9" cy="283.4" r="0.6" fill="#999"/><circle cx="356.4" cy="285.8" r="0.6" fill="#999"/><circle cx="359.7" cy="288.9" r="0.6" fill="#999"/><circle cx="363.0" cy="292.0" r="0.6" fill="#999"/><circle cx="366.0" cy="294.7" r="0.6" fill="#999"/><circle cx="368.9" cy="297.2" r="0.6" fill="#999"/><circle cx="371.0" cy="297.0" r="0.6" fill="#999"/><circle cx="374.6" cy="294.4" r="0.6" fill="#999"/><circle cx="378.4" cy="291.6" r="0.6" fill="#999"/><circle cx="381.1" cy="289.7" r="0.6" fill="#999"/><circle cx="383.8" cy="287.8" r="0.6" fill="#999"/><circle cx="387.6" cy="285.3" r="0.6" fill="#999"/><circle cx="390.5" cy="283.6" r="0.6" fill="#999"/><circle cx="393.4" cy="281.9" r="0.6" fill="#999"/><circle cx="397.3" cy="279.6" r="0.6" fill="#999"/></g>
<g clip-path="url(#cb2)"><path d="M506.0 279.0 L515.0 283.0 L525.0 284.0 L538.0 283.5 L550.0 286.0 L560.0 293.0 L570.0 302.0 L578.0 306.0" fill="none" stroke="#000" stroke-width="13" stroke-linecap="round" stroke-linejoin="round"/><path d="M531.0 344.0 L537.0 338.0 L545.0 329.0 L557.0 316.0 L568.0 305.0 L580.0 292.0 L592.0 280.0 L606.0 272.0" fill="none" stroke="#000" stroke-width="11" stroke-linecap="round" stroke-linejoin="round"/><circle cx="457.8" cy="332.7" r="4.0" fill="none" stroke="#000" stroke-width="1.75"/><circle cx="460.6" cy="326.6" r="4.0" fill="none" stroke="#000" stroke-width="1.75"/><circle cx="463.3" cy="320.2" r="4.0" fill="none" stroke="#000" stroke-width="1.45"/><circle cx="465.9" cy="313.6" r="4.0" fill="none" stroke="#000" stroke-width="1.45"/><circle cx="468.5" cy="306.9" r="4.0" fill="none" stroke="#000" stroke-width="1.75"/><circle cx="471.2" cy="300.2" r="4.2" fill="none" stroke="#000" stroke-width="1.75"/><circle cx="473.9" cy="293.5" r="4.2" fill="none" stroke="#000" stroke-width="1.75"/><circle cx="476.6" cy="286.9" r="4.3" fill="none" stroke="#000" stroke-width="1.75"/><circle cx="479.3" cy="279.8" r="4.4" fill="none" stroke="#000" stroke-width="1.75"/><circle cx="482.0" cy="274.0" r="4.5" fill="none" stroke="#000" stroke-width="1.75"/><circle cx="484.5" cy="271.0" r="4.5" fill="none" stroke="#000" stroke-width="1.75"/><circle cx="458.0" cy="271.0" r="4.0" fill="none" stroke="#000" stroke-width="1.75"/><circle cx="461.0" cy="270.0" r="4.0" fill="none" stroke="#000" stroke-width="1.75"/><circle cx="463.7" cy="269.1" r="4.0" fill="none" stroke="#000" stroke-width="1.75"/><circle cx="490.3" cy="273.2" r="4.5" fill="none" stroke="#000" stroke-width="1.75"/><circle cx="493.5" cy="273.1" r="4.6" fill="none" stroke="#000" stroke-width="1.75"/><circle cx="496.8" cy="273.0" r="4.8" fill="none" stroke="#000" stroke-width="1.75"/><circle cx="500.0" cy="273.1" r="4.9" fill="none" stroke="#000" stroke-width="1.75"/><circle cx="502.5" cy="273.3" r="5.0" fill="none" stroke="#000" stroke-width="1.75"/><circle cx="505.0" cy="273.8" r="5.2" fill="none" stroke="#000" stroke-width="1.75"/><circle cx="507.5" cy="274.9" r="5.4" fill="none" stroke="#000" stroke-width="1.75"/><circle cx="510.3" cy="276.4" r="5.7" fill="none" stroke="#000" stroke-width="1.75"/><circle cx="513.0" cy="278.5" r="6.1" fill="none" stroke="#000" stroke-width="2.0"/><circle cx="515.5" cy="280.0" r="6.5" fill="none" stroke="#000" stroke-width="2.0"/><circle cx="518.4" cy="281.2" r="6.9" fill="none" stroke="#000" stroke-width="2.0"/><circle cx="520.9" cy="282.0" r="7.2" fill="none" stroke="#000" stroke-width="2.0"/><circle cx="523.3" cy="282.6" r="7.4" fill="none" stroke="#000" stroke-width="2.0"/><circle cx="525.8" cy="283.2" r="7.5" fill="none" stroke="#000" stroke-width="2.0"/><circle cx="528.4" cy="283.5" r="7.6" fill="none" stroke="#000" stroke-width="2.0"/><circle cx="531.0" cy="283.6" r="7.6" fill="none" stroke="#000" stroke-width="2.0"/><circle cx="533.6" cy="283.8" r="7.5" fill="none" stroke="#000" stroke-width="2.0"/><circle cx="536.0" cy="284.1" r="7.5" fill="none" stroke="#000" stroke-width="2.0"/><circle cx="539.1" cy="284.4" r="7.3" fill="none" stroke="#000" stroke-width="2.0"/><circle cx="542.0" cy="284.9" r="7.1" fill="none" stroke="#000" stroke-width="2.0"/><circle cx="545.1" cy="285.8" r="7.0" fill="none" stroke="#000" stroke-width="2.0"/><circle cx="548.1" cy="287.0" r="6.8" fill="none" stroke="#000" stroke-width="2.0"/><circle cx="551.2" cy="288.6" r="6.6" fill="none" stroke="#000" stroke-width="2.0"/><circle cx="554.3" cy="290.5" r="6.5" fill="none" stroke="#000" stroke-width="2.0"/><circle cx="557.3" cy="293.0" r="6.5" fill="none" stroke="#000" stroke-width="2.0"/><circle cx="560.3" cy="295.6" r="6.5" fill="none" stroke="#000" stroke-width="2.0"/><circle cx="563.4" cy="298.1" r="6.5" fill="none" stroke="#000" stroke-width="2.0"/><circle cx="566.4" cy="300.5" r="6.5" fill="none" stroke="#000" stroke-width="2.0"/><circle cx="569.5" cy="302.7" r="6.5" fill="none" stroke="#000" stroke-width="2.0"/><circle cx="572.6" cy="304.4" r="6.5" fill="none" stroke="#000" stroke-width="2.0"/><circle cx="575.6" cy="305.4" r="6.4" fill="none" stroke="#000" stroke-width="2.0"/><circle cx="578.6" cy="306.0" r="6.2" fill="none" stroke="#000" stroke-width="2.0"/><circle cx="581.7" cy="306.7" r="5.9" fill="none" stroke="#000" stroke-width="1.75"/><circle cx="584.3" cy="307.1" r="5.7" fill="none" stroke="#000" stroke-width="1.75"/><circle cx="586.9" cy="307.5" r="5.4" fill="none" stroke="#000" stroke-width="1.75"/><circle cx="589.6" cy="307.9" r="5.0" fill="none" stroke="#000" stroke-width="1.75"/><circle cx="526.0" cy="343.0" r="7.0" fill="none" stroke="#000" stroke-width="2.0"/><circle cx="529.2" cy="339.9" r="7.6" fill="none" stroke="#000" stroke-width="2.0"/><circle cx="531.8" cy="337.4" r="8.0" fill="none" stroke="#000" stroke-width="2.0"/><circle cx="534.4" cy="334.8" r="8.4" fill="none" stroke="#000" stroke-width="2.0"/><circle cx="537.5" cy="331.6" r="8.7" fill="none" stroke="#000" stroke-width="2.0"/><circle cx="540.5" cy="328.2" r="8.9" fill="none" stroke="#000" stroke-width="2.0"/><circle cx="543.5" cy="324.8" r="9.0" fill="none" stroke="#000" stroke-width="2.0"/><circle cx="546.6" cy="321.5" r="9.0" fill="none" stroke="#000" stroke-width="2.0"/><circle cx="549.7" cy="318.3" r="9.0" fill="none" stroke="#000" stroke-width="2.0"/><circle cx="552.7" cy="315.1" r="9.0" fill="none" stroke="#000" stroke-width="2.0"/><circle cx="555.8" cy="312.0" r="9.0" fill="none" stroke="#000" stroke-width="2.0"/><circle cx="558.8" cy="308.9" r="9.0" fill="none" stroke="#000" stroke-width="2.0"/><circle cx="561.8" cy="305.9" r="9.0" fill="none" stroke="#000" stroke-width="2.0"/><circle cx="564.9" cy="303.1" r="9.0" fill="none" stroke="#000" stroke-width="2.0"/><circle cx="568.0" cy="300.5" r="9.0" fill="none" stroke="#000" stroke-width="2.0"/><circle cx="571.0" cy="298.0" r="9.0" fill="none" stroke="#000" stroke-width="2.0"/><circle cx="574.1" cy="295.3" r="9.0" fill="none" stroke="#000" stroke-width="2.0"/><circle cx="577.1" cy="292.6" r="9.0" fill="none" stroke="#000" stroke-width="2.0"/><circle cx="580.1" cy="289.9" r="9.0" fill="none" stroke="#000" stroke-width="2.0"/><circle cx="583.1" cy="287.1" r="8.9" fill="none" stroke="#000" stroke-width="2.0"/><circle cx="586.1" cy="284.3" r="8.8" fill="none" stroke="#000" stroke-width="2.0"/><circle cx="589.3" cy="281.6" r="8.6" fill="none" stroke="#000" stroke-width="2.0"/><circle cx="591.9" cy="279.7" r="8.4" fill="none" stroke="#000" stroke-width="2.0"/><circle cx="594.7" cy="277.9" r="8.1" fill="none" stroke="#000" stroke-width="2.0"/><circle cx="597.7" cy="276.1" r="7.9" fill="none" stroke="#000" stroke-width="2.0"/><circle cx="600.6" cy="274.6" r="7.6" fill="none" stroke="#000" stroke-width="2.0"/><circle cx="603.3" cy="273.4" r="7.3" fill="none" stroke="#000" stroke-width="2.0"/><circle cx="606.0" cy="272.5" r="7.1" fill="none" stroke="#000" stroke-width="2.0"/><circle cx="608.6" cy="271.8" r="6.8" fill="none" stroke="#000" stroke-width="2.0"/><circle cx="611.2" cy="271.2" r="6.6" fill="none" stroke="#000" stroke-width="2.0"/><circle cx="613.7" cy="270.6" r="6.3" fill="none" stroke="#000" stroke-width="2.0"/><circle cx="616.4" cy="270.2" r="6.0" fill="none" stroke="#000" stroke-width="2.0"/><circle cx="618.9" cy="269.9" r="5.8" fill="none" stroke="#000" stroke-width="1.75"/><circle cx="474.3" cy="325.8" r="1.5" fill="none" stroke="#000" stroke-width="1.15"/><circle cx="477.5" cy="325.1" r="1.6" fill="none" stroke="#000" stroke-width="1.15"/><circle cx="480.1" cy="324.7" r="1.8" fill="none" stroke="#000" stroke-width="1.15"/><circle cx="482.7" cy="324.5" r="1.9" fill="none" stroke="#000" stroke-width="1.15"/><circle cx="485.8" cy="325.1" r="2.2" fill="none" stroke="#000" stroke-width="1.15"/><circle cx="488.8" cy="326.3" r="2.6" fill="none" stroke="#000" stroke-width="1.45"/><circle cx="491.8" cy="327.8" r="2.9" fill="none" stroke="#000" stroke-width="1.45"/><circle cx="494.9" cy="329.2" r="3.2" fill="none" stroke="#000" stroke-width="1.45"/><circle cx="498.0" cy="330.7" r="3.6" fill="none" stroke="#000" stroke-width="1.45"/><circle cx="501.0" cy="332.3" r="3.9" fill="none" stroke="#000" stroke-width="1.45"/><circle cx="504.1" cy="333.8" r="4.3" fill="none" stroke="#000" stroke-width="1.75"/><circle cx="507.1" cy="335.3" r="4.6" fill="none" stroke="#000" stroke-width="1.75"/><circle cx="510.1" cy="336.8" r="4.9" fill="none" stroke="#000" stroke-width="1.75"/><circle cx="513.3" cy="338.4" r="5.2" fill="none" stroke="#000" stroke-width="1.75"/><circle cx="515.7" cy="339.6" r="5.3" fill="none" stroke="#000" stroke-width="1.75"/><circle cx="518.8" cy="341.0" r="5.4" fill="none" stroke="#000" stroke-width="1.75"/><circle cx="521.3" cy="341.9" r="5.6" fill="none" stroke="#000" stroke-width="1.75"/><circle cx="523.9" cy="342.3" r="5.8" fill="none" stroke="#000" stroke-width="1.75"/><circle cx="526.3" cy="342.6" r="6.0" fill="none" stroke="#000" stroke-width="2.0"/><circle cx="528.8" cy="343.5" r="6.3" fill="none" stroke="#000" stroke-width="2.0"/><circle cx="531.7" cy="343.1" r="6.5" fill="none" stroke="#000" stroke-width="2.0"/><circle cx="534.1" cy="342.2" r="6.8" fill="none" stroke="#000" stroke-width="2.0"/><circle cx="536.8" cy="340.0" r="7.1" fill="none" stroke="#000" stroke-width="2.0"/><circle cx="539.5" cy="336.8" r="7.3" fill="none" stroke="#000" stroke-width="2.0"/><circle cx="542.4" cy="333.0" r="7.6" fill="none" stroke="#000" stroke-width="2.0"/><circle cx="544.8" cy="329.6" r="7.9" fill="none" stroke="#000" stroke-width="2.0"/><circle cx="458.0" cy="352.0" r="1.0" fill="none" stroke="#777" stroke-width="0.8"/><circle cx="460.5" cy="356.2" r="1.1" fill="none" stroke="#777" stroke-width="0.8"/><circle cx="462.9" cy="360.1" r="1.2" fill="none" stroke="#777" stroke-width="0.8"/><circle cx="465.6" cy="364.0" r="1.2" fill="none" stroke="#777" stroke-width="0.8"/><circle cx="468.5" cy="367.9" r="1.3" fill="none" stroke="#777" stroke-width="0.8"/><circle cx="471.4" cy="371.1" r="1.3" fill="none" stroke="#000" stroke-width="1.15"/><circle cx="474.3" cy="373.6" r="1.4" fill="none" stroke="#000" stroke-width="1.15"/><circle cx="477.2" cy="376.9" r="1.4" fill="none" stroke="#000" stroke-width="1.15"/><circle cx="480.1" cy="381.6" r="1.5" fill="none" stroke="#000" stroke-width="1.15"/><circle cx="482.9" cy="386.6" r="1.5" fill="none" stroke="#000" stroke-width="1.15"/><circle cx="485.8" cy="391.4" r="1.5" fill="none" stroke="#000" stroke-width="1.15"/><circle cx="488.6" cy="396.1" r="1.5" fill="none" stroke="#000" stroke-width="1.15"/><circle cx="491.4" cy="400.9" r="1.5" fill="none" stroke="#000" stroke-width="1.15"/><circle cx="494.2" cy="405.9" r="1.5" fill="none" stroke="#000" stroke-width="1.15"/><circle cx="497.2" cy="410.5" r="1.5" fill="none" stroke="#000" stroke-width="1.15"/><circle cx="500.1" cy="413.9" r="1.5" fill="none" stroke="#000" stroke-width="1.15"/><circle cx="503.2" cy="417.0" r="1.5" fill="none" stroke="#000" stroke-width="1.15"/><circle cx="506.3" cy="419.6" r="1.5" fill="none" stroke="#000" stroke-width="1.15"/><circle cx="509.1" cy="421.6" r="1.5" fill="none" stroke="#000" stroke-width="1.15"/><circle cx="511.9" cy="423.1" r="1.5" fill="none" stroke="#000" stroke-width="1.15"/><circle cx="514.5" cy="424.0" r="1.5" fill="none" stroke="#000" stroke-width="1.15"/><circle cx="518.0" cy="424.6" r="1.5" fill="none" stroke="#000" stroke-width="1.15"/><circle cx="520.9" cy="424.9" r="1.5" fill="none" stroke="#000" stroke-width="1.15"/><circle cx="524.1" cy="425.0" r="1.5" fill="none" stroke="#000" stroke-width="1.15"/><circle cx="527.1" cy="425.1" r="1.5" fill="none" stroke="#000" stroke-width="1.15"/><circle cx="529.7" cy="425.2" r="1.5" fill="none" stroke="#000" stroke-width="1.15"/><circle cx="533.8" cy="424.2" r="1.5" fill="none" stroke="#000" stroke-width="1.15"/><circle cx="536.3" cy="419.4" r="1.6" fill="none" stroke="#000" stroke-width="1.15"/><circle cx="538.4" cy="412.4" r="1.7" fill="none" stroke="#000" stroke-width="1.15"/><circle cx="540.0" cy="405.2" r="1.7" fill="none" stroke="#000" stroke-width="1.15"/><circle cx="542.0" cy="398.0" r="1.8" fill="none" stroke="#000" stroke-width="1.15"/><circle cx="544.1" cy="391.3" r="1.8" fill="none" stroke="#000" stroke-width="1.15"/><circle cx="546.1" cy="383.9" r="1.8" fill="none" stroke="#000" stroke-width="1.15"/><circle cx="547.5" cy="377.0" r="1.8" fill="none" stroke="#000" stroke-width="1.15"/><circle cx="549.0" cy="370.0" r="1.8" fill="none" stroke="#000" stroke-width="1.15"/><circle cx="551.0" cy="362.7" r="1.8" fill="none" stroke="#000" stroke-width="1.15"/><circle cx="553.2" cy="355.9" r="1.8" fill="none" stroke="#000" stroke-width="1.15"/><circle cx="555.3" cy="349.0" r="1.8" fill="none" stroke="#000" stroke-width="1.15"/><circle cx="557.2" cy="342.0" r="1.8" fill="none" stroke="#000" stroke-width="1.15"/><circle cx="559.8" cy="334.9" r="1.8" fill="none" stroke="#000" stroke-width="1.15"/><circle cx="562.3" cy="329.2" r="1.8" fill="none" stroke="#000" stroke-width="1.15"/><circle cx="564.9" cy="323.6" r="1.8" fill="none" stroke="#000" stroke-width="1.15"/><circle cx="542.0" cy="270.0" r="5.0" fill="none" stroke="#000" stroke-width="1.75"/><circle cx="545.0" cy="272.3" r="5.0" fill="none" stroke="#000" stroke-width="1.75"/><circle cx="547.7" cy="274.4" r="5.0" fill="none" stroke="#000" stroke-width="1.75"/><circle cx="550.6" cy="277.0" r="5.0" fill="none" stroke="#000" stroke-width="1.75"/><circle cx="553.4" cy="279.9" r="5.0" fill="none" stroke="#000" stroke-width="1.75"/><circle cx="556.3" cy="282.9" r="5.0" fill="none" stroke="#000" stroke-width="1.75"/><circle cx="558.7" cy="285.2" r="5.0" fill="none" stroke="#000" stroke-width="1.75"/><circle cx="561.6" cy="288.1" r="5.0" fill="none" stroke="#000" stroke-width="1.75"/><circle cx="564.0" cy="291.1" r="5.0" fill="none" stroke="#000" stroke-width="1.75"/><circle cx="566.4" cy="294.8" r="5.0" fill="none" stroke="#000" stroke-width="1.75"/><circle cx="578.6" cy="316.0" r="3.5" fill="none" stroke="#000" stroke-width="1.45"/><circle cx="581.4" cy="315.7" r="3.5" fill="none" stroke="#000" stroke-width="1.45"/><circle cx="584.1" cy="317.7" r="3.5" fill="none" stroke="#000" stroke-width="1.45"/><circle cx="586.9" cy="322.6" r="3.3" fill="none" stroke="#000" stroke-width="1.45"/><circle cx="589.8" cy="326.5" r="3.2" fill="none" stroke="#000" stroke-width="1.45"/><circle cx="592.8" cy="329.0" r="3.1" fill="none" stroke="#000" stroke-width="1.45"/><circle cx="595.9" cy="331.2" r="3.1" fill="none" stroke="#000" stroke-width="1.45"/><circle cx="599.1" cy="333.2" r="3.0" fill="none" stroke="#000" stroke-width="1.45"/><circle cx="602.1" cy="334.7" r="2.8" fill="none" stroke="#000" stroke-width="1.45"/><circle cx="605.2" cy="336.1" r="2.6" fill="none" stroke="#000" stroke-width="1.45"/><circle cx="608.3" cy="337.6" r="2.5" fill="none" stroke="#000" stroke-width="1.15"/><circle cx="611.2" cy="339.3" r="2.3" fill="none" stroke="#000" stroke-width="1.15"/><circle cx="614.2" cy="340.8" r="2.1" fill="none" stroke="#000" stroke-width="1.15"/><circle cx="616.6" cy="341.8" r="2.0" fill="none" stroke="#000" stroke-width="1.15"/><circle cx="619.3" cy="342.5" r="1.9" fill="none" stroke="#000" stroke-width="1.15"/><circle cx="622.2" cy="343.0" r="1.8" fill="none" stroke="#000" stroke-width="1.15"/><circle cx="625.2" cy="343.3" r="1.6" fill="none" stroke="#000" stroke-width="1.15"/><circle cx="628.1" cy="343.6" r="1.5" fill="none" stroke="#000" stroke-width="1.15"/><circle cx="631.0" cy="343.8" r="1.4" fill="none" stroke="#000" stroke-width="1.15"/><circle cx="634.0" cy="343.9" r="1.2" fill="none" stroke="#777" stroke-width="0.8"/><circle cx="636.8" cy="344.0" r="1.1" fill="none" stroke="#777" stroke-width="0.8"/><circle cx="639.5" cy="344.1" r="1.0" fill="none" stroke="#777" stroke-width="0.8"/><circle cx="642.1" cy="344.4" r="0.9" fill="none" stroke="#777" stroke-width="0.8"/><circle cx="644.8" cy="344.7" r="0.9" fill="none" stroke="#777" stroke-width="0.8"/><circle cx="647.6" cy="345.1" r="0.8" fill="none" stroke="#777" stroke-width="0.8"/><circle cx="578.6" cy="318.9" r="3.5" fill="none" stroke="#000" stroke-width="1.45"/><circle cx="581.1" cy="320.6" r="3.3" fill="none" stroke="#000" stroke-width="1.45"/><circle cx="583.8" cy="324.2" r="3.3" fill="none" stroke="#000" stroke-width="1.45"/><circle cx="586.8" cy="329.0" r="3.2" fill="none" stroke="#000" stroke-width="1.45"/><circle cx="589.2" cy="332.7" r="3.2" fill="none" stroke="#000" stroke-width="1.45"/><circle cx="592.0" cy="336.6" r="3.1" fill="none" stroke="#000" stroke-width="1.45"/><circle cx="594.9" cy="340.3" r="3.0" fill="none" stroke="#000" stroke-width="1.45"/><circle cx="597.7" cy="344.1" r="3.0" fill="none" stroke="#000" stroke-width="1.45"/><circle cx="600.4" cy="348.1" r="2.9" fill="none" stroke="#000" stroke-width="1.45"/><circle cx="602.9" cy="351.0" r="2.8" fill="none" stroke="#000" stroke-width="1.45"/><circle cx="605.8" cy="353.4" r="2.7" fill="none" stroke="#000" stroke-width="1.45"/><circle cx="608.9" cy="355.6" r="2.6" fill="none" stroke="#000" stroke-width="1.45"/><circle cx="612.0" cy="357.8" r="2.5" fill="none" stroke="#000" stroke-width="1.45"/><circle cx="615.0" cy="360.2" r="2.4" fill="none" stroke="#000" stroke-width="1.15"/><circle cx="618.0" cy="362.7" r="2.2" fill="none" stroke="#000" stroke-width="1.15"/><circle cx="621.2" cy="364.7" r="2.0" fill="none" stroke="#000" stroke-width="1.15"/><circle cx="623.9" cy="366.0" r="1.8" fill="none" stroke="#000" stroke-width="1.15"/><circle cx="626.9" cy="367.0" r="1.6" fill="none" stroke="#000" stroke-width="1.15"/><circle cx="629.9" cy="367.8" r="1.4" fill="none" stroke="#000" stroke-width="1.15"/><circle cx="632.6" cy="368.1" r="1.2" fill="none" stroke="#777" stroke-width="0.8"/><circle cx="635.1" cy="367.8" r="1.1" fill="none" stroke="#777" stroke-width="0.8"/><circle cx="638.2" cy="366.5" r="1.0" fill="none" stroke="#777" stroke-width="0.8"/><circle cx="641.1" cy="365.0" r="0.9" fill="none" stroke="#777" stroke-width="0.8"/><circle cx="643.7" cy="363.7" r="0.9" fill="none" stroke="#777" stroke-width="0.8"/><circle cx="646.5" cy="361.9" r="0.8" fill="none" stroke="#777" stroke-width="0.8"/><circle cx="649.2" cy="359.5" r="0.8" fill="none" stroke="#777" stroke-width="0.8"/><circle cx="651.6" cy="356.6" r="0.8" fill="none" stroke="#777" stroke-width="0.8"/><circle cx="654.3" cy="352.9" r="0.8" fill="none" stroke="#777" stroke-width="0.8"/><circle cx="602.9" cy="286.9" r="3.0" fill="none" stroke="#000" stroke-width="1.45"/><circle cx="606.0" cy="290.0" r="2.9" fill="none" stroke="#000" stroke-width="1.45"/><circle cx="608.6" cy="292.6" r="2.9" fill="none" stroke="#000" stroke-width="1.45"/><circle cx="611.2" cy="295.2" r="2.8" fill="none" stroke="#000" stroke-width="1.45"/><circle cx="614.3" cy="298.3" r="2.7" fill="none" stroke="#000" stroke-width="1.45"/><circle cx="617.4" cy="301.4" r="2.6" fill="none" stroke="#000" stroke-width="1.45"/><circle cx="620.4" cy="304.4" r="2.5" fill="none" stroke="#000" stroke-width="1.45"/><circle cx="623.5" cy="307.5" r="2.4" fill="none" stroke="#000" stroke-width="1.15"/><circle cx="626.7" cy="310.7" r="2.3" fill="none" stroke="#000" stroke-width="1.15"/><circle cx="629.6" cy="313.6" r="2.2" fill="none" stroke="#000" stroke-width="1.15"/><circle cx="632.3" cy="316.3" r="2.1" fill="none" stroke="#000" stroke-width="1.15"/><circle cx="634.9" cy="318.9" r="2.1" fill="none" stroke="#000" stroke-width="1.15"/><circle cx="634.9" cy="289.2" r="2.5" fill="none" stroke="#000" stroke-width="1.45"/><circle cx="637.4" cy="294.0" r="2.8" fill="none" stroke="#000" stroke-width="1.45"/><circle cx="639.9" cy="299.1" r="3.0" fill="none" stroke="#000" stroke-width="1.45"/><circle cx="642.3" cy="303.8" r="3.3" fill="none" stroke="#000" stroke-width="1.45"/><circle cx="644.8" cy="309.4" r="3.6" fill="none" stroke="#000" stroke-width="1.45"/><circle cx="647.1" cy="316.6" r="4.1" fill="none" stroke="#000" stroke-width="1.75"/><circle cx="649.7" cy="323.5" r="4.3" fill="none" stroke="#000" stroke-width="1.75"/><circle cx="652.3" cy="328.7" r="4.5" fill="none" stroke="#000" stroke-width="1.75"/><circle cx="593.7" cy="269.6" r="4.0" fill="none" stroke="#000" stroke-width="1.75"/><circle cx="596.8" cy="270.5" r="4.0" fill="none" stroke="#000" stroke-width="1.75"/><circle cx="599.4" cy="271.1" r="4.0" fill="none" stroke="#000" stroke-width="1.75"/><circle cx="602.1" cy="271.7" r="4.0" fill="none" stroke="#000" stroke-width="1.75"/><circle cx="604.7" cy="272.2" r="4.0" fill="none" stroke="#000" stroke-width="1.75"/><circle cx="607.6" cy="272.5" r="4.0" fill="none" stroke="#000" stroke-width="1.75"/><circle cx="610.5" cy="272.8" r="4.0" fill="none" stroke="#000" stroke-width="1.75"/><circle cx="613.2" cy="273.0" r="4.0" fill="none" stroke="#000" stroke-width="1.75"/><circle cx="601.5" cy="286.9" r="4.0" fill="none" stroke="#000" stroke-width="1.75"/><circle cx="604.0" cy="289.4" r="3.9" fill="none" stroke="#000" stroke-width="1.45"/><circle cx="606.7" cy="292.1" r="3.7" fill="none" stroke="#000" stroke-width="1.45"/><circle cx="609.3" cy="294.6" r="3.6" fill="none" stroke="#000" stroke-width="1.45"/><circle cx="611.9" cy="297.1" r="3.4" fill="none" stroke="#000" stroke-width="1.45"/><circle cx="614.4" cy="299.2" r="3.2" fill="none" stroke="#000" stroke-width="1.45"/><circle cx="650.0" cy="270.0" r="5.0" fill="none" stroke="#000" stroke-width="1.75"/><circle cx="652.5" cy="270.5" r="4.5" fill="none" stroke="#000" stroke-width="1.75"/><circle cx="655.0" cy="271.0" r="4.0" fill="none" stroke="#000" stroke-width="1.75"/><circle cx="458.0" cy="284.6" r="0.6" fill="#999"/><circle cx="461.1" cy="285.7" r="0.6" fill="#999"/><circle cx="464.3" cy="286.9" r="0.6" fill="#999"/><circle cx="467.7" cy="288.3" r="0.6" fill="#999"/><circle cx="470.6" cy="289.7" r="0.6" fill="#999"/><circle cx="473.6" cy="291.6" r="0.6" fill="#999"/><circle cx="476.5" cy="293.5" r="0.6" fill="#999"/><circle cx="479.5" cy="295.7" r="0.6" fill="#999"/><circle cx="612.0" cy="280.0" r="0.6" fill="#999"/><circle cx="615.3" cy="281.1" r="0.6" fill="#999"/><circle cx="618.4" cy="282.1" r="0.6" fill="#999"/><circle cx="621.8" cy="283.2" r="0.6" fill="#999"/><circle cx="625.3" cy="284.2" r="0.6" fill="#999"/><circle cx="628.5" cy="284.8" r="0.6" fill="#999"/><circle cx="632.7" cy="285.0" r="0.6" fill="#999"/><circle cx="636.7" cy="284.3" r="0.6" fill="#999"/><circle cx="640.5" cy="283.3" r="0.6" fill="#999"/><circle cx="643.9" cy="282.3" r="0.6" fill="#999"/><circle cx="647.1" cy="281.5" r="0.6" fill="#999"/><circle cx="650.9" cy="280.3" r="0.6" fill="#999"/><circle cx="654.5" cy="279.1" r="0.6" fill="#999"/><circle cx="600.0" cy="295.0" r="0.6" fill="#999"/><circle cx="603.6" cy="295.8" r="0.6" fill="#999"/><circle cx="606.9" cy="296.6" r="0.6" fill="#999"/><circle cx="610.7" cy="297.5" r="0.6" fill="#999"/><circle cx="614.5" cy="298.4" r="0.6" fill="#999"/><circle cx="618.3" cy="299.5" r="0.6" fill="#999"/><circle cx="621.7" cy="300.6" r="0.6" fill="#999"/><circle cx="625.1" cy="301.8" r="0.6" fill="#999"/><circle cx="628.6" cy="303.2" r="0.6" fill="#999"/><circle cx="632.0" cy="304.6" r="0.6" fill="#999"/><circle cx="635.4" cy="306.0" r="0.6" fill="#999"/><circle cx="638.5" cy="307.4" r="0.6" fill="#999"/><circle cx="641.5" cy="308.6" r="0.6" fill="#999"/><circle cx="644.5" cy="310.0" r="0.6" fill="#999"/><circle cx="647.4" cy="311.3" r="0.6" fill="#999"/><circle cx="651.3" cy="313.2" r="0.6" fill="#999"/><circle cx="654.3" cy="314.7" r="0.6" fill="#999"/></g>
<rect x="55.6" y="268" width="200.4" height="164.5" fill="none" stroke="#000" stroke-width="1.4"/>
<line x1="130.4" y1="268" x2="130.4" y2="432.5" stroke="#333" stroke-width="1.2" stroke-dasharray="4.2 3.7"/>
<line x1="171.8" y1="268" x2="171.8" y2="432.5" stroke="#333" stroke-width="1.2" stroke-dasharray="4.2 3.7"/>
<line x1="55.6" y1="273.5" x2="59.6" y2="273.5" stroke="#000" stroke-width="1.2" />
<line x1="55.6" y1="299" x2="59.6" y2="299" stroke="#000" stroke-width="1.2" />
<line x1="55.6" y1="324.5" x2="59.6" y2="324.5" stroke="#000" stroke-width="1.2" />
<line x1="55.6" y1="350" x2="59.6" y2="350" stroke="#000" stroke-width="1.2" />
<line x1="55.6" y1="375.5" x2="59.6" y2="375.5" stroke="#000" stroke-width="1.2" />
<line x1="55.6" y1="401" x2="59.6" y2="401" stroke="#000" stroke-width="1.2" />
<line x1="55.6" y1="426.5" x2="59.6" y2="426.5" stroke="#000" stroke-width="1.2" />
<text x="57.1" y="451" font-size="18" text-anchor="middle" fill="#000"  >Γ</text>
<text x="130.4" y="451" font-size="18" text-anchor="middle" fill="#000"  >M</text>
<text x="172.8" y="451" font-size="18" text-anchor="middle" fill="#000"  >K</text>
<rect x="256" y="268" width="200.4" height="164.5" fill="none" stroke="#000" stroke-width="1.4"/>
<line x1="330.8" y1="268" x2="330.8" y2="432.5" stroke="#333" stroke-width="1.2" stroke-dasharray="4.2 3.7"/>
<line x1="372.2" y1="268" x2="372.2" y2="432.5" stroke="#333" stroke-width="1.2" stroke-dasharray="4.2 3.7"/>
<line x1="256" y1="273.5" x2="260" y2="273.5" stroke="#000" stroke-width="1.2" />
<line x1="256" y1="299" x2="260" y2="299" stroke="#000" stroke-width="1.2" />
<line x1="256" y1="324.5" x2="260" y2="324.5" stroke="#000" stroke-width="1.2" />
<line x1="256" y1="350" x2="260" y2="350" stroke="#000" stroke-width="1.2" />
<line x1="256" y1="375.5" x2="260" y2="375.5" stroke="#000" stroke-width="1.2" />
<line x1="256" y1="401" x2="260" y2="401" stroke="#000" stroke-width="1.2" />
<line x1="256" y1="426.5" x2="260" y2="426.5" stroke="#000" stroke-width="1.2" />
<text x="257.5" y="451" font-size="18" text-anchor="middle" fill="#000"  >Γ</text>
<text x="330.8" y="451" font-size="18" text-anchor="middle" fill="#000"  >M</text>
<text x="373.2" y="451" font-size="18" text-anchor="middle" fill="#000"  >K</text>
<rect x="456.4" y="268" width="200.6" height="164.5" fill="none" stroke="#000" stroke-width="1.4"/>
<line x1="531.2" y1="268" x2="531.2" y2="432.5" stroke="#333" stroke-width="1.2" stroke-dasharray="4.2 3.7"/>
<line x1="572.6" y1="268" x2="572.6" y2="432.5" stroke="#333" stroke-width="1.2" stroke-dasharray="4.2 3.7"/>
<line x1="456.4" y1="273.5" x2="460.4" y2="273.5" stroke="#000" stroke-width="1.2" />
<line x1="456.4" y1="299" x2="460.4" y2="299" stroke="#000" stroke-width="1.2" />
<line x1="456.4" y1="324.5" x2="460.4" y2="324.5" stroke="#000" stroke-width="1.2" />
<line x1="456.4" y1="350" x2="460.4" y2="350" stroke="#000" stroke-width="1.2" />
<line x1="456.4" y1="375.5" x2="460.4" y2="375.5" stroke="#000" stroke-width="1.2" />
<line x1="456.4" y1="401" x2="460.4" y2="401" stroke="#000" stroke-width="1.2" />
<line x1="456.4" y1="426.5" x2="460.4" y2="426.5" stroke="#000" stroke-width="1.2" />
<text x="457.9" y="451" font-size="18" text-anchor="middle" fill="#000"  >Γ</text>
<text x="531.2" y="451" font-size="18" text-anchor="middle" fill="#000"  >M</text>
<text x="573.6" y="451" font-size="18" text-anchor="middle" fill="#000"  >K</text>
<line x1="657" y1="273.5" x2="653" y2="273.5" stroke="#000" stroke-width="1.2" />
<line x1="657" y1="299" x2="653" y2="299" stroke="#000" stroke-width="1.2" />
<line x1="657" y1="324.5" x2="653" y2="324.5" stroke="#000" stroke-width="1.2" />
<line x1="657" y1="350" x2="653" y2="350" stroke="#000" stroke-width="1.2" />
<line x1="657" y1="375.5" x2="653" y2="375.5" stroke="#000" stroke-width="1.2" />
<line x1="657" y1="401" x2="653" y2="401" stroke="#000" stroke-width="1.2" />
<line x1="657" y1="426.5" x2="653" y2="426.5" stroke="#000" stroke-width="1.2" />
<text x="656" y="451" font-size="18" text-anchor="middle" fill="#000"  >Γ</text>
<text x="50.6" y="279.3" font-size="19.5" text-anchor="end" fill="#000"  >3</text>
<text x="50.6" y="330.3" font-size="19.5" text-anchor="end" fill="#000"  >2</text>
<text x="50.6" y="381.3" font-size="19.5" text-anchor="end" fill="#000"  >1</text>
<text x="50.6" y="432.3" font-size="19.5" text-anchor="end" fill="#000"  >0</text>
<text x="0.3" y="279.5" font-size="34" text-anchor="start" fill="#000" font-weight="bold" >b</text>
<text x="26.5" y="350.5" font-size="19" text-anchor="middle" fill="#000"  transform="rotate(-90 26.5 350.5)">Energy (eV)</text>
<text x="356" y="469" font-size="17" text-anchor="middle" fill="#000"  >Wave vector</text>
<text x="64" y="426" font-size="18" font-style="italic">dxy</text>
<text x="267" y="426" font-size="18" font-style="italic">dxz</text>
<text x="467" y="426" font-size="18" font-style="italic">dz<tspan font-size="11" dy="-7">2</tspan></text>
<text x="666.5" y="345" font-size="18" text-anchor="middle" fill="#000"  >c</text>
<line x1="124.4" y1="421.6" x2="124.4" y2="357" stroke="#c80008" stroke-width="2.7" />
<path d="M120.4 358 L124.4 350 L128.4 358 Z" fill="#c80008"/>
<line x1="262" y1="421.6" x2="262" y2="358" stroke="#c80008" stroke-width="2.7" />
<path d="M258 359 L262 351 L266 359 Z" fill="#c80008"/>
<line x1="323.6" y1="421.6" x2="323.6" y2="358" stroke="#c80008" stroke-width="2.7" />
<path d="M319.6 359 L323.6 351 L327.6 359 Z" fill="#c80008"/>
<line x1="524" y1="421.6" x2="524" y2="358" stroke="#c80008" stroke-width="2.7" />
<path d="M520 359 L524 351 L528 359 Z" fill="#c80008"/>
<line x1="531.4" y1="421.6" x2="531.4" y2="302" stroke="#5c9a3c" stroke-width="2.7" />
<path d="M527.4 303 L531.4 295 L535.4 303 Z" fill="#5c9a3c"/>
<path d="M55.5 497 C57.7 497.4 64 497.9 68.6 499.2 C73.2 500.5 79.3 503.6 83.2 505 C87.1 506.4 89.1 507.2 92 507.9 C94.9 508.6 97.8 509.1 100.7 509 C103.6 508.9 106.1 507.7 109.5 507.2 C112.9 506.7 117.1 506.1 121.2 506 C125.3 505.9 130.2 506.6 134.3 506.9 C138.4 507.2 142.1 507.3 145.5 507.6 C148.9 507.9 150.7 508.2 154.6 508.7 C158.5 509.2 164.3 509.8 169.2 510.8 C174.1 511.8 179.4 513.6 183.8 514.5 C188.2 515.4 192.2 516 195.9 516.2 C199.6 516.4 202.2 515.8 205.7 515.7 C209.1 515.6 212.3 515.7 216.6 515.7 C220.8 515.7 226.8 515.6 231.2 515.7 C235.6 515.8 239.2 516.7 242.9 516.2 C246.6 515.8 249 514.5 253.1 513 C257.2 511.5 262.8 509.3 267.7 507.2 C272.6 505.1 276.9 502.3 282.3 500.6 C287.7 498.9 297 497.6 299.9 497" fill="none" stroke="#000" stroke-width="1.75" stroke-linejoin="round" />
<path d="M55.5 511.9 C57.7 512.1 64.7 512.7 68.6 513 C72.5 513.3 75.1 513.8 78.8 513.8 C82.5 513.8 86.8 513.1 90.5 513 C94.2 512.9 97.5 513.1 100.7 513.3 C103.9 513.5 106.8 513.6 109.5 514.2 C112.2 514.8 113.9 515.6 116.8 516.7 C119.7 517.9 123.8 519.9 127 521.1 C130.2 522.3 132.7 523.4 135.8 524 C138.9 524.6 142.4 524.6 145.5 524.7 C148.6 524.8 150.7 524.9 154.6 524.7 C158.5 524.5 164.3 524 169.2 523.3 C174.1 522.6 179.4 521.2 183.8 520.6 C188.2 520 192.2 519.5 195.9 519.6 C199.6 519.7 202.4 520.5 205.7 521.1 C209 521.7 212.7 523.2 215.9 523.3 C219.1 523.4 221.8 522.7 224.7 521.8 C227.6 520.9 230.4 519 233.4 518.1 C236.4 517.2 239.6 517 242.9 516.2 C246.2 515.4 249 513.8 253.1 513.3 C257.2 512.8 262.8 513 267.7 513 C272.6 513 276.9 513.2 282.3 513 C287.7 512.8 297 512.2 299.9 512" fill="none" stroke="#000" stroke-width="1.75" stroke-linejoin="round" />
<path d="M55.5 563.4 C57 563.1 61.3 564 64.2 561.9 C67.1 559.8 69.8 555.2 73 551 C76.2 546.8 79.8 541 83.2 536.4 C86.6 531.8 90 526.5 93.4 523.3 C96.8 520.1 100.9 518 103.6 517.1 C106.3 516.2 107.3 516.9 109.5 517.7 C111.7 518.5 114.1 520.3 116.8 521.8 C119.5 523.3 122.6 525.4 125.5 526.9 C128.4 528.4 131 529.8 134.3 530.6 C137.6 531.5 142.1 531.6 145.5 532 C148.9 532.4 150.7 532.3 154.6 532.7 C158.5 533.1 164.3 533.7 169.2 534.2 C174.1 534.7 179.4 535.3 183.8 535.7 C188.2 536.1 192.2 536.4 195.9 536.4 C199.6 536.4 201.9 535.9 205.7 535.7 C209.5 535.5 215.2 534.6 218.8 535 C222.5 535.4 224.8 536.7 227.6 537.9 C230.4 539.1 232.6 540.3 235.6 542.2 C238.6 544.1 242.6 547.3 245.8 549.5 C249 551.7 250.9 553.6 254.6 555.4 C258.2 557.2 263.1 559.3 267.7 560.5 C272.3 561.7 276.9 562.2 282.3 562.7 C287.7 563.2 297 563.3 299.9 563.4" fill="none" stroke="#000" stroke-width="1.75" stroke-linejoin="round" />
<path d="M55.5 541.5 C57.7 541.8 64.5 542.8 68.6 543.4 C72.7 544 76.6 544.7 80.3 545.4 C84 546.1 86.8 546.9 90.5 547.8 C94.2 548.7 98.1 549.7 102.2 551 C106.3 552.3 111.2 554.1 115.3 555.4 C119.4 556.7 123.1 558.2 127 559 C130.9 559.8 135.6 559.8 138.7 560 C141.8 560.2 142.8 559.9 145.5 560 C148.2 560.1 150.7 560.2 154.6 560.5 C158.5 560.8 164.3 561.4 169.2 562 C174.1 562.6 179.4 563.5 183.8 564 C188.2 564.5 192.2 564.9 195.9 565 C199.6 565.1 201.7 565.2 205.7 564.5 C209.7 563.8 215.8 561.8 220 560.5 C224.2 559.2 226.9 558.1 231.2 556.8 C235.5 555.5 240.9 553.7 245.8 552.5 C250.7 551.3 256.3 550.2 260.4 549.5 C264.5 548.8 267.7 547.6 270.6 548.1 C273.5 548.6 275.7 550.8 277.9 552.5 C280.1 554.2 281.9 556.7 283.8 558.3 C285.8 559.9 286.9 561 289.6 561.9 C292.3 562.8 298.2 563.1 299.9 563.4" fill="none" stroke="#000" stroke-width="1.75" stroke-linejoin="round" />
<path d="M55.5 553.2 C57.7 552.8 64.5 552.1 68.6 551 C72.7 549.9 76.4 547.7 80.3 546.6 C84.2 545.5 87.9 545 92 544.4 C96.1 543.8 101 543.7 105.1 543 C109.2 542.3 113.1 541.1 116.8 540 C120.5 538.9 123.8 537.4 127 536.4 C130.2 535.4 132.7 534.6 135.8 534.2 C138.9 533.8 142.4 534.2 145.5 534.2 C148.6 534.2 150.7 534.3 154.6 534.5 C158.5 534.7 164.3 534.9 169.2 535.2 C174.1 535.5 179.4 536.1 183.8 536.4 C188.2 536.7 193.9 536.7 195.9 536.8" fill="none" stroke="#000" stroke-width="1.75" stroke-linejoin="round" />
<path d="M55.5 542.2 C57.2 542.6 62.3 543.5 65.7 544.4 C69.1 545.2 72.5 546.6 75.9 547.3 C79.3 548 82.4 548.7 86.1 548.8 C89.8 548.9 93.4 548.3 97.8 548.1 C102.2 547.9 107.5 547.6 112.4 547.8 C117.3 548 122.6 548.7 127 549.2 C131.4 549.7 135.6 550.4 138.7 550.7 C141.8 551 142.8 551.2 145.5 551 C148.2 550.8 150.7 550.4 154.6 549.5 C158.5 548.6 164.3 546.9 169.2 545.9 C174.1 544.9 179.4 543.9 183.8 543.4 C188.2 542.9 192.2 542.8 195.9 542.7 C199.6 542.6 202.2 542.5 205.7 543 C209.1 543.5 212.3 544.9 216.6 545.4 C220.8 545.9 226.3 546.3 231.2 546.3 C236.1 546.3 240.9 545.5 245.8 545.4 C250.7 545.3 255.5 545.9 260.4 545.9 C265.3 545.9 270.6 545.7 275 545.2 C279.4 544.7 282.6 543.6 286.7 543 C290.8 542.4 297.7 541.8 299.9 541.5" fill="none" stroke="#000" stroke-width="1.75" stroke-linejoin="round" />
<path d="M55.5 562.7 C57.7 562.8 64 563.2 68.6 563.4 C73.2 563.6 78.3 563.9 83.2 564.1 C88.1 564.4 92.9 564.5 97.8 564.9 C102.7 565.3 107.5 565.8 112.4 566.3 C117.3 566.8 122.6 567.7 127 568.2 C131.4 568.7 135.6 569 138.7 569.2 C141.8 569.4 143.6 569.8 145.5 569.5 C147.4 569.2 148.5 568.4 150 567.5 C151.5 566.6 152.6 566.4 154.6 564.1 C156.6 561.8 159.5 557.5 161.9 553.9 C164.3 550.2 166.8 545.9 169.2 542.2 C171.6 538.6 174.1 535.1 176.5 532 C178.9 528.9 181.6 525.2 183.8 523.3 C186 521.3 187.6 520.9 189.6 520.3 C191.6 519.7 193.2 519.5 195.9 519.6 C198.6 519.7 202.2 520.5 205.7 521 C209.1 521.5 212.3 522.6 216.6 522.5 C220.8 522.4 226.3 521.3 231.2 520.3 C236.1 519.3 241.4 516.2 245.8 516.7 C250.2 517.2 254.3 520.8 257.5 523.3 C260.7 525.8 262.6 529.1 264.8 532 C267 534.9 268.9 538.4 270.6 540.8 C272.3 543.2 272.8 544.9 275 546.6 C277.2 548.3 279.7 549.9 283.8 551 C287.9 552.1 297.2 552.8 299.9 553.2" fill="none" stroke="#000" stroke-width="1.75" stroke-linejoin="round" />
<path d="M72 548.5 C73.1 548.9 76.9 550.7 78.8 551 C80.7 551.3 81.5 550.3 83.2 550.3 C84.9 550.3 86.6 550.3 89 551 C91.4 551.7 94.4 553.3 97.8 554.6 C101.2 555.9 105.6 558 109.5 559 C113.4 560 116.8 560.2 121.2 560.5 C125.6 560.8 131.8 560.6 135.8 560.5 C139.9 560.4 142.4 559.9 145.5 559.8 C148.6 559.7 150.7 559.6 154.6 559.8 C158.5 560 164.3 560.6 169.2 561.2 C174.1 561.8 179.4 562.9 183.8 563.4 C188.2 563.9 192.2 564.1 195.9 564.1 C199.6 564.1 202.4 563.8 205.7 563.4 C209 563 212.2 562.9 215.9 561.9 C219.6 560.9 223.6 558.9 227.6 557.6 C231.6 556.3 237 554.3 240 553.9 C243 553.5 242.4 555.8 245.8 555.4 C249.2 555 256 552.4 260.4 551.7 C264.8 551 268.5 550.9 272.1 551 C275.8 551.1 277.7 552.1 282.3 552.5 C286.9 552.9 297 553.4 299.9 553.6" fill="none" stroke="#000" stroke-width="1.75" stroke-linejoin="round" />
<path d="M55.7 599.6 C58.3 599.7 65.7 600.1 71.2 600.4 C76.7 600.7 83.3 601.7 88.5 601.3 C93.7 600.9 98 599 102.3 597.9 C106.6 596.8 110.3 595.3 114.3 594.4 C118.3 593.5 122.7 593.1 126.4 592.7 C130.2 592.3 133.6 592.1 136.8 591.8 C140 591.5 142 591.4 145.4 591 C148.8 590.6 152.3 589.5 157.2 589.2 C162 588.9 168 588.6 174.5 589.2 C181 589.8 189.7 591.6 196 592.7 C202.3 593.9 207.4 594.7 212.4 596.1 C217.4 597.5 221.6 599.7 226.2 601.3 C230.8 602.9 235.4 604.5 240 605.6 C244.6 606.8 248.5 607.5 253.7 608.2 C258.9 608.9 265.8 610 271 610 C276.2 610 280 608.4 284.8 608.2 C289.6 608.1 297.4 609 299.9 609.1" fill="none" stroke="#000" stroke-width="1.75" stroke-linejoin="round" />
<path d="M55.7 609.1 C57.1 608.8 61.7 608.9 64.3 607.3 C66.9 605.7 68.3 602.6 71.2 599.6 C74.1 596.6 78.7 591.1 81.6 589.2 C84.5 587.3 85 588.4 88.5 588.4 C92 588.4 98 589.9 102.3 589.2 C106.6 588.5 110 586 114.3 584.1 C118.6 582.2 123.8 579.5 128.1 578 C132.4 576.5 137.3 575.8 140.2 575.4 C143.1 575 142.6 575 145.4 575.4 C148.2 575.8 152.3 577.3 157.2 578 C162 578.7 168 579.5 174.5 579.8 C181 580.1 189.7 579.7 196 579.8 C202.3 579.9 207.4 579.8 212.4 580.6 C217.4 581.5 221.6 583.5 226.2 584.9 C230.8 586.3 235.4 588.5 240 589.2 C244.6 589.9 248.5 589.3 253.7 589.2 C258.9 589.1 266.7 587.8 271 588.4 C275.3 589 276.7 590.3 279.6 592.7 C282.5 595.1 284.8 600.1 288.2 603 C291.6 605.9 297.9 608.8 299.9 609.9" fill="none" stroke="#000" stroke-width="1.75" stroke-linejoin="round" />
<path d="M55.7 609.9 C58.3 609.8 66.6 609.7 71.2 609.1 C75.8 608.5 79 607.5 83.3 606.5 C87.6 605.5 92.8 604.4 97.1 603 C101.4 601.6 104.9 599.3 109.2 597.9 C113.5 596.5 118.7 595.1 123 594.4 C127.3 593.7 131.3 593.9 135 593.6 C138.7 593.3 141.7 592.6 145.4 592.7 C149.1 592.8 152.3 593.7 157.2 594.4 C162 595.1 168 597.3 174.5 597 C181 596.7 189.7 593.9 196 592.7 C202.3 591.6 207.4 590.4 212.4 590.1 C217.4 589.8 221.6 590.6 226.2 591 C230.8 591.4 235.4 591.6 240 592.7 C244.6 593.9 249.1 596.3 253.7 597.9 C258.3 599.5 263.2 601.6 267.5 602.2 C271.8 602.8 274.2 601.7 279.6 601.3 C285 600.9 296.5 599.9 299.9 599.6" fill="none" stroke="#000" stroke-width="1.75" stroke-linejoin="round" />
<path d="M55.7 634.1 C57.7 633 63.8 630.7 67.8 627.2 C71.8 623.8 76.5 617.1 79.9 613.4 C83.4 609.7 85.6 607.4 88.5 604.8 C91.4 602.2 94.2 599.5 97.1 597.9 C100 596.3 102 595.9 105.7 595.3 C109.4 594.7 115.2 594.7 119.5 594.4 C123.8 594.1 127.3 594 131.6 593.6 C135.9 593.2 141.1 593.1 145.4 592.2 C149.7 591.4 152.3 589.6 157.2 588.5 C162 587.4 168 586.8 174.5 585.5 C181 584.2 189.7 581.7 196 581 C202.3 580.3 207.4 580.7 212.4 581.5 C217.4 582.3 221.6 584.2 226.2 585.8 C230.8 587.4 235.4 588.1 240 591 C244.6 593.9 249.1 599.5 253.7 603 C258.3 606.5 263.2 608.5 267.5 611.7 C271.8 614.9 275.6 618.9 279.6 622 C283.6 625.1 288.3 628.6 291.7 630.6 C295.1 632.6 298.5 633.5 299.9 634.1" fill="none" stroke="#000" stroke-width="1.75" stroke-linejoin="round" />
<path d="M55.7 644.4 C58.3 643.8 65.7 643.6 71.2 641 C76.7 638.4 83.9 632.9 88.5 628.9 C93.1 624.9 94.8 619.4 98.8 616.8 C102.8 614.2 108.6 614.5 112.6 613.4 C116.6 612.2 119.8 611.2 123 609.9 C126.2 608.6 127.9 606.6 131.6 605.6 C135.3 604.6 141.1 604.3 145.4 603.9 C149.7 603.5 152.3 603.6 157.2 603 C162 602.4 169.6 601.5 174.5 600.4 C179.4 599.2 183 597.4 186.6 596.1 C190.2 594.8 194.4 593.3 196 592.7" fill="none" stroke="#000" stroke-width="1.75" stroke-linejoin="round" />
<path d="M55.7 647.9 C58.3 647.6 65.7 646.7 71.2 646.1 C76.7 645.5 83.3 645.8 88.5 644.4 C93.7 643 98 639.2 102.3 637.5 C106.6 635.8 109.4 635.4 114.3 634.1 C119.2 632.9 126.4 631.1 131.6 630 C136.8 628.9 141.1 628 145.4 627.5 C149.7 627 152.3 627.3 157.2 627.2 C162 627.1 168 626.8 174.5 626.8 C181 626.8 189.7 627.3 196 627.2 C202.3 627.1 206.8 627 212.4 626.3 C218 625.6 224.2 623 229.7 622.9 C235.1 622.8 239.7 623.2 245.1 625.4 C250.5 627.5 257.4 632.6 262.3 635.8 C267.2 639 270.1 642.1 274.4 644.4 C278.7 646.7 283.9 649 288.2 649.6 C292.4 650.2 297.9 648.2 299.9 647.9" fill="none" stroke="#000" stroke-width="1.75" stroke-linejoin="round" />
<path d="M55.7 671.1 C58.3 670.1 65.7 668.1 71.2 665.1 C76.7 662.1 83.3 655.9 88.5 653 C93.7 650.1 97.1 648.8 102.3 647.9 C107.5 647 114.6 647.9 119.5 647.9 C124.4 647.9 127.3 647.9 131.6 647.9 C135.9 647.9 141.1 647.8 145.4 647.9 C149.7 648 152.3 648.3 157.2 648.7 C162 649.1 168 650 174.5 650.4 C181 650.8 189.7 651.3 196 651.3 C202.3 651.3 207.4 651 212.4 650.4 C217.4 649.8 221.6 648.5 226.2 647.9 C230.8 647.3 235.4 647.3 240 647 C244.6 646.7 248.5 646 253.7 646.1 C258.9 646.2 263.3 647.5 271 647.9 C278.7 648.3 295.1 648.6 299.9 648.7" fill="none" stroke="#000" stroke-width="1.75" stroke-linejoin="round" />
<path d="M55.7 672 C58.3 671.4 66.3 670.3 71.2 668.6 C76.1 666.9 80.4 663.7 85 661.7 C89.6 659.7 94.2 658 98.8 656.5 C103.4 655 108 653.9 112.6 653 C117.2 652.1 121.8 652 126.4 651.3 C131 650.6 137 649.3 140.2 648.7 C143.4 648.1 142.6 648 145.4 647.9 C148.2 647.8 152.3 647.6 157.2 647.9 C162 648.2 168 649 174.5 649.6 C181 650.2 189.7 651.3 196 651.7 C202.3 652.1 207.4 652 212.4 652.2 C217.4 652.4 221.6 652.3 226.2 653 C230.8 653.7 235.4 655 240 656.5 C244.6 658 249.1 659.1 253.7 661.7 C258.3 664.3 263.2 668.3 267.5 672 C271.8 675.7 275.6 680.4 279.6 684.1 C283.6 687.8 288.3 692.1 291.7 694.4 C295.1 696.7 298.5 697.4 299.9 698" fill="none" stroke="#000" stroke-width="1.75" stroke-linejoin="round" />
<path d="M55.7 697.9 C57.1 695.6 61.1 689 64.3 684.1 C67.5 679.2 71.2 673.5 74.7 668.6 C78.2 663.7 81.5 658.8 85 654.8 C88.5 650.8 92 647.1 95.4 644.4 C98.9 641.7 101.7 640.1 105.7 638.4 C109.7 636.7 115.2 635.2 119.5 634.1 C123.8 633 127.3 632.1 131.6 631.5 C135.9 630.9 141.1 631.6 145.4 630.6 C149.7 629.6 152.3 628.5 157.2 625.4 C162 622.2 169.3 615 174.5 611.7 C179.7 608.4 184.7 606.8 188.3 605.6 C191.9 604.5 192 604.6 196 604.8 C200 604.9 207.4 605.1 212.4 606.5 C217.4 607.9 221.6 611.4 226.2 613.4 C230.8 615.4 235.4 616.3 240 618.6 C244.6 620.9 249.1 624.1 253.7 627.2 C258.3 630.4 263.2 634.4 267.5 637.5 C271.8 640.6 274.2 644.4 279.6 646.1 C285 647.8 296.5 647.6 299.9 647.9" fill="none" stroke="#000" stroke-width="1.75" stroke-linejoin="round" />
<path d="M55.7 697.9 C57.7 696.2 63.5 691.8 67.8 687.5 C72.1 683.2 77.6 676.3 81.6 672 C85.6 667.7 87.9 664.6 91.9 661.7 C95.9 658.8 100.5 656.5 105.7 654.8 C110.9 653.1 116.4 652.3 123 651.3 C129.6 650.3 139.7 650.4 145.4 648.7 C151.1 647 152.3 644 157.2 641 C162 638 168 633 174.5 630.6 C181 628.2 189.7 626.8 196 626.8 C202.3 626.8 207.4 628.8 212.4 630.6 C217.4 632.4 221.6 634.9 226.2 637.5 C230.8 640.1 235.4 643.2 240 646.1 C244.6 649 248.5 651.6 253.7 654.8 C258.9 658 265.2 662.5 271 665.1 C276.8 667.7 283.4 669.1 288.2 670.3 C293 671.4 297.9 671.7 299.9 672" fill="none" stroke="#000" stroke-width="1.75" stroke-linejoin="round" />
<path d="M55.7 697.9 C58.3 695.9 65.7 690.1 71.2 685.8 C76.7 681.5 83.6 676 88.5 672 C93.4 668 96.3 664.3 100.6 661.7 C104.9 659.1 109.1 658 114.3 656.5 C119.5 655 126.4 654 131.6 653 C136.8 652 141.1 651.1 145.4 650.4 C149.7 649.7 152.3 648.8 157.2 648.7 C162 648.6 168 649.2 174.5 649.6 C181 650 189.7 651.2 196 651.3 C202.3 651.4 208.1 651.4 212.4 650.4 C216.7 649.4 218 646.7 222 645 C226 643.3 231.2 639.8 236.5 640 C241.8 640.2 247.9 643.3 253.7 646 C259.4 648.7 266.1 652.2 271 656 C275.9 659.8 279.6 663.9 283 668.6 C286.4 673.3 288.9 679.2 291.7 684.1 C294.5 689 298.5 695.7 299.9 698" fill="none" stroke="#000" stroke-width="1.75" stroke-linejoin="round" />
<path d="M209 627.2 C211.9 627.9 221 629.8 226.2 631.5 C231.4 633.2 235.4 635.2 240 637.5 C244.6 639.8 248.5 642.4 253.7 645 C258.9 647.6 266.1 649.1 271 653 C275.9 656.9 279.6 663.4 283 668.6 C286.4 673.8 288.9 679.2 291.7 684.1 C294.5 689 298.5 695.7 299.9 698" fill="none" stroke="#000" stroke-width="1.75" stroke-linejoin="round" />
<line x1="145.4" y1="479.3" x2="145.4" y2="698" stroke="#2a2a2a" stroke-width="1.4" stroke-dasharray="5.6 5.3"/>
<line x1="196" y1="479.3" x2="196" y2="698" stroke="#2a2a2a" stroke-width="1.4" stroke-dasharray="5.6 5.3"/>
<rect x="55.4" y="479.3" width="244.6" height="218.7" fill="none" stroke="#000" stroke-width="1.4"/>
<line x1="55.4" y1="698" x2="59.4" y2="698" stroke="#000" stroke-width="1.2" />
<line x1="55.4" y1="670.7" x2="57.9" y2="670.7" stroke="#000" stroke-width="1.2" />
<line x1="55.4" y1="643.3" x2="59.4" y2="643.3" stroke="#000" stroke-width="1.2" />
<line x1="55.4" y1="616" x2="57.9" y2="616" stroke="#000" stroke-width="1.2" />
<line x1="55.4" y1="588.6" x2="59.4" y2="588.6" stroke="#000" stroke-width="1.2" />
<line x1="55.4" y1="561.3" x2="57.9" y2="561.3" stroke="#000" stroke-width="1.2" />
<line x1="55.4" y1="534" x2="59.4" y2="534" stroke="#000" stroke-width="1.2" />
<line x1="55.4" y1="506.6" x2="57.9" y2="506.6" stroke="#000" stroke-width="1.2" />
<line x1="55.4" y1="479.3" x2="59.4" y2="479.3" stroke="#000" stroke-width="1.2" />
<text x="49.3" y="485.2" font-size="18" text-anchor="end" fill="#000"  >800</text>
<text x="49.3" y="539.9" font-size="18" text-anchor="end" fill="#000"  >600</text>
<text x="49.3" y="594.5" font-size="18" text-anchor="end" fill="#000"  >400</text>
<text x="49.3" y="649.2" font-size="18" text-anchor="end" fill="#000"  >200</text>
<text x="49.3" y="703.9" font-size="18" text-anchor="end" fill="#000"  >0</text>
<path d="M318.4 478 L318.4 491.4 L320.1 493.4 L330.1 499.8 L343.6 501.8 L377.2 502.8 L410.7 503.9 L451 504.9 L474.5 505.9 L451 506.9 L424.2 508.2 L457.8 508.9 L410.7 510.6 L360.4 512.6 L410.7 514.3 L451 515.6 L488 518.3 L444.3 519.6 L377.2 521 L363.7 523 L375.5 525 L350.3 527 L325.1 529 L377.2 530 L444.3 530.7 L503.1 531.7 L444.3 532.7 L410.7 533.4 L387.2 535.1 L380.5 537.8 L390.6 540.5 L404 541.8 L464.5 542.8 L410.7 544.2 L387.2 546.2 L417.5 547.8 L393.9 549.2 L353.7 550.2 L343.6 552.5 L360.4 554.6 L377.2 556.2 L404 559.6 L377.2 560.6 L330.1 561.3 L320.1 562.6 L318.4 566 L318.4 572.7" fill="none" stroke="#00e000" stroke-width="1.5" stroke-linejoin="round" />
<path d="M318.4 571 L319.3 572.1 L328.1 576.5 L341.2 579.4 L342.7 583.8 L329.5 586.7 L338.3 589.6 L333.9 594 L326.6 601.3 L325.1 608.6 L320.8 615.9 L320 627.6 L320 640 L319.5 660 L318.8 680 L318.4 698" fill="none" stroke="#00e000" stroke-width="1.5" stroke-linejoin="round" />
<path d="M318.4 528.4 L321.8 533.4 L325.1 540.1 L330.1 541.8 L340.2 545.2 L330.1 546.8 L341.9 549.2 L346.9 551.9 L336.9 553.6 L330.1 554.6 L323.4 557.9 L319.4 561.3 L318.4 563.6 L318.4 572" fill="none" stroke="#000000" stroke-width="1.5" stroke-linejoin="round" />
<path d="M318.4 571 L320.8 573.6 L326.6 578 L338.3 582.3 L352.9 583.8 L341.2 584.5 L333.9 585.3 L332.5 590 L333.9 594 L342.7 596.2 L347 599.1 L363.1 602 L392.3 604.2 L410 605 L392 606 L348.5 610.1 L342.7 614.5 L345.6 618.8 L355.8 621 L348.5 624.7 L355.8 626.9 L387.9 627.6 L363.1 629.1 L367.5 632 L377.7 634.9 L410.7 640.5 L437.6 643.8 L520 644.8 L613 645.4 L520 646.2 L444.3 647.2 L494.7 648.4 L540 648.8 L470 649.5 L410.7 650.6 L393.9 652.2 L360.4 657.3 L340.2 664 L330.1 672.4 L323.4 682.5 L318.4 695.9 L318.4 698" fill="none" stroke="#000000" stroke-width="1.5" stroke-linejoin="round" />
<path d="M318.4 478 L318.4 501.5 L321.8 506.5 L325.1 508.2 L320.1 511.6 L323.4 518.3 L320.1 525 L323.4 531.7 L320.1 536.8 L325.1 541.8 L321.8 548.5 L325.1 558.6 L320.1 561.9 L318.4 565.3 L318.4 572" fill="none" stroke="#ff0000" stroke-width="1.5" stroke-linejoin="round" />
<path d="M318.4 571 L319.3 572.1 L320.8 578 L329.5 580.1 L341.2 580.9 L368.9 582.3 L341.2 583.8 L333.9 586.7 L380 587.6 L427.5 589.6 L412 590.4 L361.6 592.6 L370.4 594.7 L390 596 L429.2 605 L373.8 608.6 L370.4 614.6 L420.8 618.7 L427.5 620.3 L513.2 622.7 L420.8 624.7 L377.2 630.4 L357 635.4 L353.7 640.5 L360.4 643.2 L346.9 645.5 L336.9 647.2 L350.3 648.9 L336.9 653.9 L330.1 665.7 L323.4 679.1 L318.4 695.9 L318.4 698" fill="none" stroke="#ff0000" stroke-width="1.5" stroke-linejoin="round" />
<path d="M318.4 478 L318.4 501.5 L320.1 504.2 L328.5 505.5 L331.8 509.9 L325.1 511.6 L323.4 514.3 L333.5 516.3 L345.3 518.3 L330.1 519.6 L323.4 521.7 L320.1 526.7 L321.8 531.7 L325.1 536.8 L340.2 540.1 L357 542.5 L343.6 544.2 L377.2 546.8 L390.6 548.5 L353.7 549.9 L390.6 552.5 L393.9 555.9 L444.3 557.9 L496.4 559.6 L410.7 560.6 L343.6 561.3 L320.1 562.6 L318.4 564.6 L318.4 572" fill="none" stroke="#0000ff" stroke-width="1.5" stroke-linejoin="round" />
<path d="M318.4 571 L318.4 572 L330.1 575.4 L348.5 576 L376.2 578 L410.7 578.9 L471.2 580.4 L520 582.5 L560.4 584.3 L520 585.5 L461 586.5 L484.6 589 L420 590 L394 591 L387.9 595.5 L366 599.9 L374.8 602.8 L392 604 L366 606.5 L355.8 606.6 L333.9 610.1 L326.6 614.5 L328.1 620.3 L325.1 626.1 L325.1 638.8 L328.5 643.8 L331.8 646.2 L325.1 648.2 L323.4 655.6 L321.8 665.7 L320.1 675.7 L318.4 692.5 L318.4 698" fill="none" stroke="#0000ff" stroke-width="1.5" stroke-linejoin="round" />
<rect x="310.4" y="479.3" width="346.6" height="218.7" fill="none" stroke="#000" stroke-width="1.4"/>
<line x1="310.4" y1="670.7" x2="314.4" y2="670.7" stroke="#000" stroke-width="1.2" />
<line x1="310.4" y1="643.3" x2="314.4" y2="643.3" stroke="#000" stroke-width="1.2" />
<line x1="310.4" y1="616" x2="314.4" y2="616" stroke="#000" stroke-width="1.2" />
<line x1="310.4" y1="588.6" x2="314.4" y2="588.6" stroke="#000" stroke-width="1.2" />
<line x1="310.4" y1="561.3" x2="314.4" y2="561.3" stroke="#000" stroke-width="1.2" />
<line x1="310.4" y1="534" x2="314.4" y2="534" stroke="#000" stroke-width="1.2" />
<line x1="310.4" y1="506.6" x2="314.4" y2="506.6" stroke="#000" stroke-width="1.2" />
<line x1="310.4" y1="479.3" x2="314.4" y2="479.3" stroke="#000" stroke-width="1.2" />
<line x1="360.5" y1="698" x2="360.5" y2="695.5" stroke="#000" stroke-width="1.2" />
<line x1="403" y1="698" x2="403" y2="693.5" stroke="#000" stroke-width="1.2" />
<line x1="445.5" y1="698" x2="445.5" y2="695.5" stroke="#000" stroke-width="1.2" />
<line x1="488" y1="698" x2="488" y2="693.5" stroke="#000" stroke-width="1.2" />
<line x1="530.5" y1="698" x2="530.5" y2="695.5" stroke="#000" stroke-width="1.2" />
<line x1="573" y1="698" x2="573" y2="693.5" stroke="#000" stroke-width="1.2" />
<line x1="615.5" y1="698" x2="615.5" y2="695.5" stroke="#000" stroke-width="1.2" />
<text x="319" y="719" font-size="18" text-anchor="middle" fill="#000"  >0.0</text>
<text x="404" y="719" font-size="18" text-anchor="middle" fill="#000"  >0.5</text>
<text x="489" y="719" font-size="18" text-anchor="middle" fill="#000"  >1.0</text>
<text x="574" y="719" font-size="18" text-anchor="middle" fill="#000"  >1.5</text>
<text x="659" y="719" font-size="18" text-anchor="middle" fill="#000"  >2.0</text>
<text x="2" y="479.6" font-size="34" text-anchor="start" fill="#000" font-weight="bold" >c</text>
<text x="0" y="0" font-size="18.5" text-anchor="middle" transform="translate(15.5 584) rotate(-90)">Frequency (cm<tspan font-size="12" dy="-7">-1</tspan><tspan dy="7">)</tspan></text>
<text x="59" y="718" font-size="18" text-anchor="middle" fill="#000"  >Γ</text>
<text x="146" y="718" font-size="18" text-anchor="middle" fill="#000"  >M</text>
<text x="197" y="718" font-size="18" text-anchor="middle" fill="#000"  >K</text>
<text x="297" y="718" font-size="18" text-anchor="middle" fill="#000"  >Γ</text>
<text x="193.7" y="738.3" font-size="18.6" text-anchor="middle" fill="#000"  >Wave vector</text>
<text x="500.5" y="738.3" font-size="18.6" text-anchor="middle" fill="#000"  >Density of States</text>
<line x1="540" y1="494" x2="584" y2="494" stroke="#000" stroke-width="1.6" />
<text x="589" y="501" font-size="19.5" text-anchor="start" fill="#000"  >Ti1/Ti2</text>
<line x1="540" y1="517.6" x2="584" y2="517.6" stroke="#e81010" stroke-width="1.6" />
<text x="589" y="524.6" font-size="19.5" text-anchor="start" fill="#000"  >Ti3</text>
<line x1="540" y1="541.4" x2="584" y2="541.4" stroke="#10e010" stroke-width="1.6" />
<text x="589" y="548.4" font-size="19.5" text-anchor="start" fill="#000"  >C</text>
<line x1="540" y1="565.2" x2="584" y2="565.2" stroke="#1010ee" stroke-width="1.6" />
<text x="589" y="572.2" font-size="19.5" text-anchor="start" fill="#000"  >O</text>
<rect x="55.4" y="639" width="568.6" height="13" fill="#b90000" opacity="0.216"/>
<rect x="55.4" y="663.4" width="279.6" height="13" fill="#b90000" opacity="0.216"/>
<text x="341" y="677" font-size="18" font-style="italic">E<tspan font-size="13" dy="6" font-style="normal">g</tspan></text>
<text x="626" y="652" font-size="18" font-style="italic">A<tspan font-size="13" dy="5" font-style="normal">1g</tspan></text>
</svg></body></html>
